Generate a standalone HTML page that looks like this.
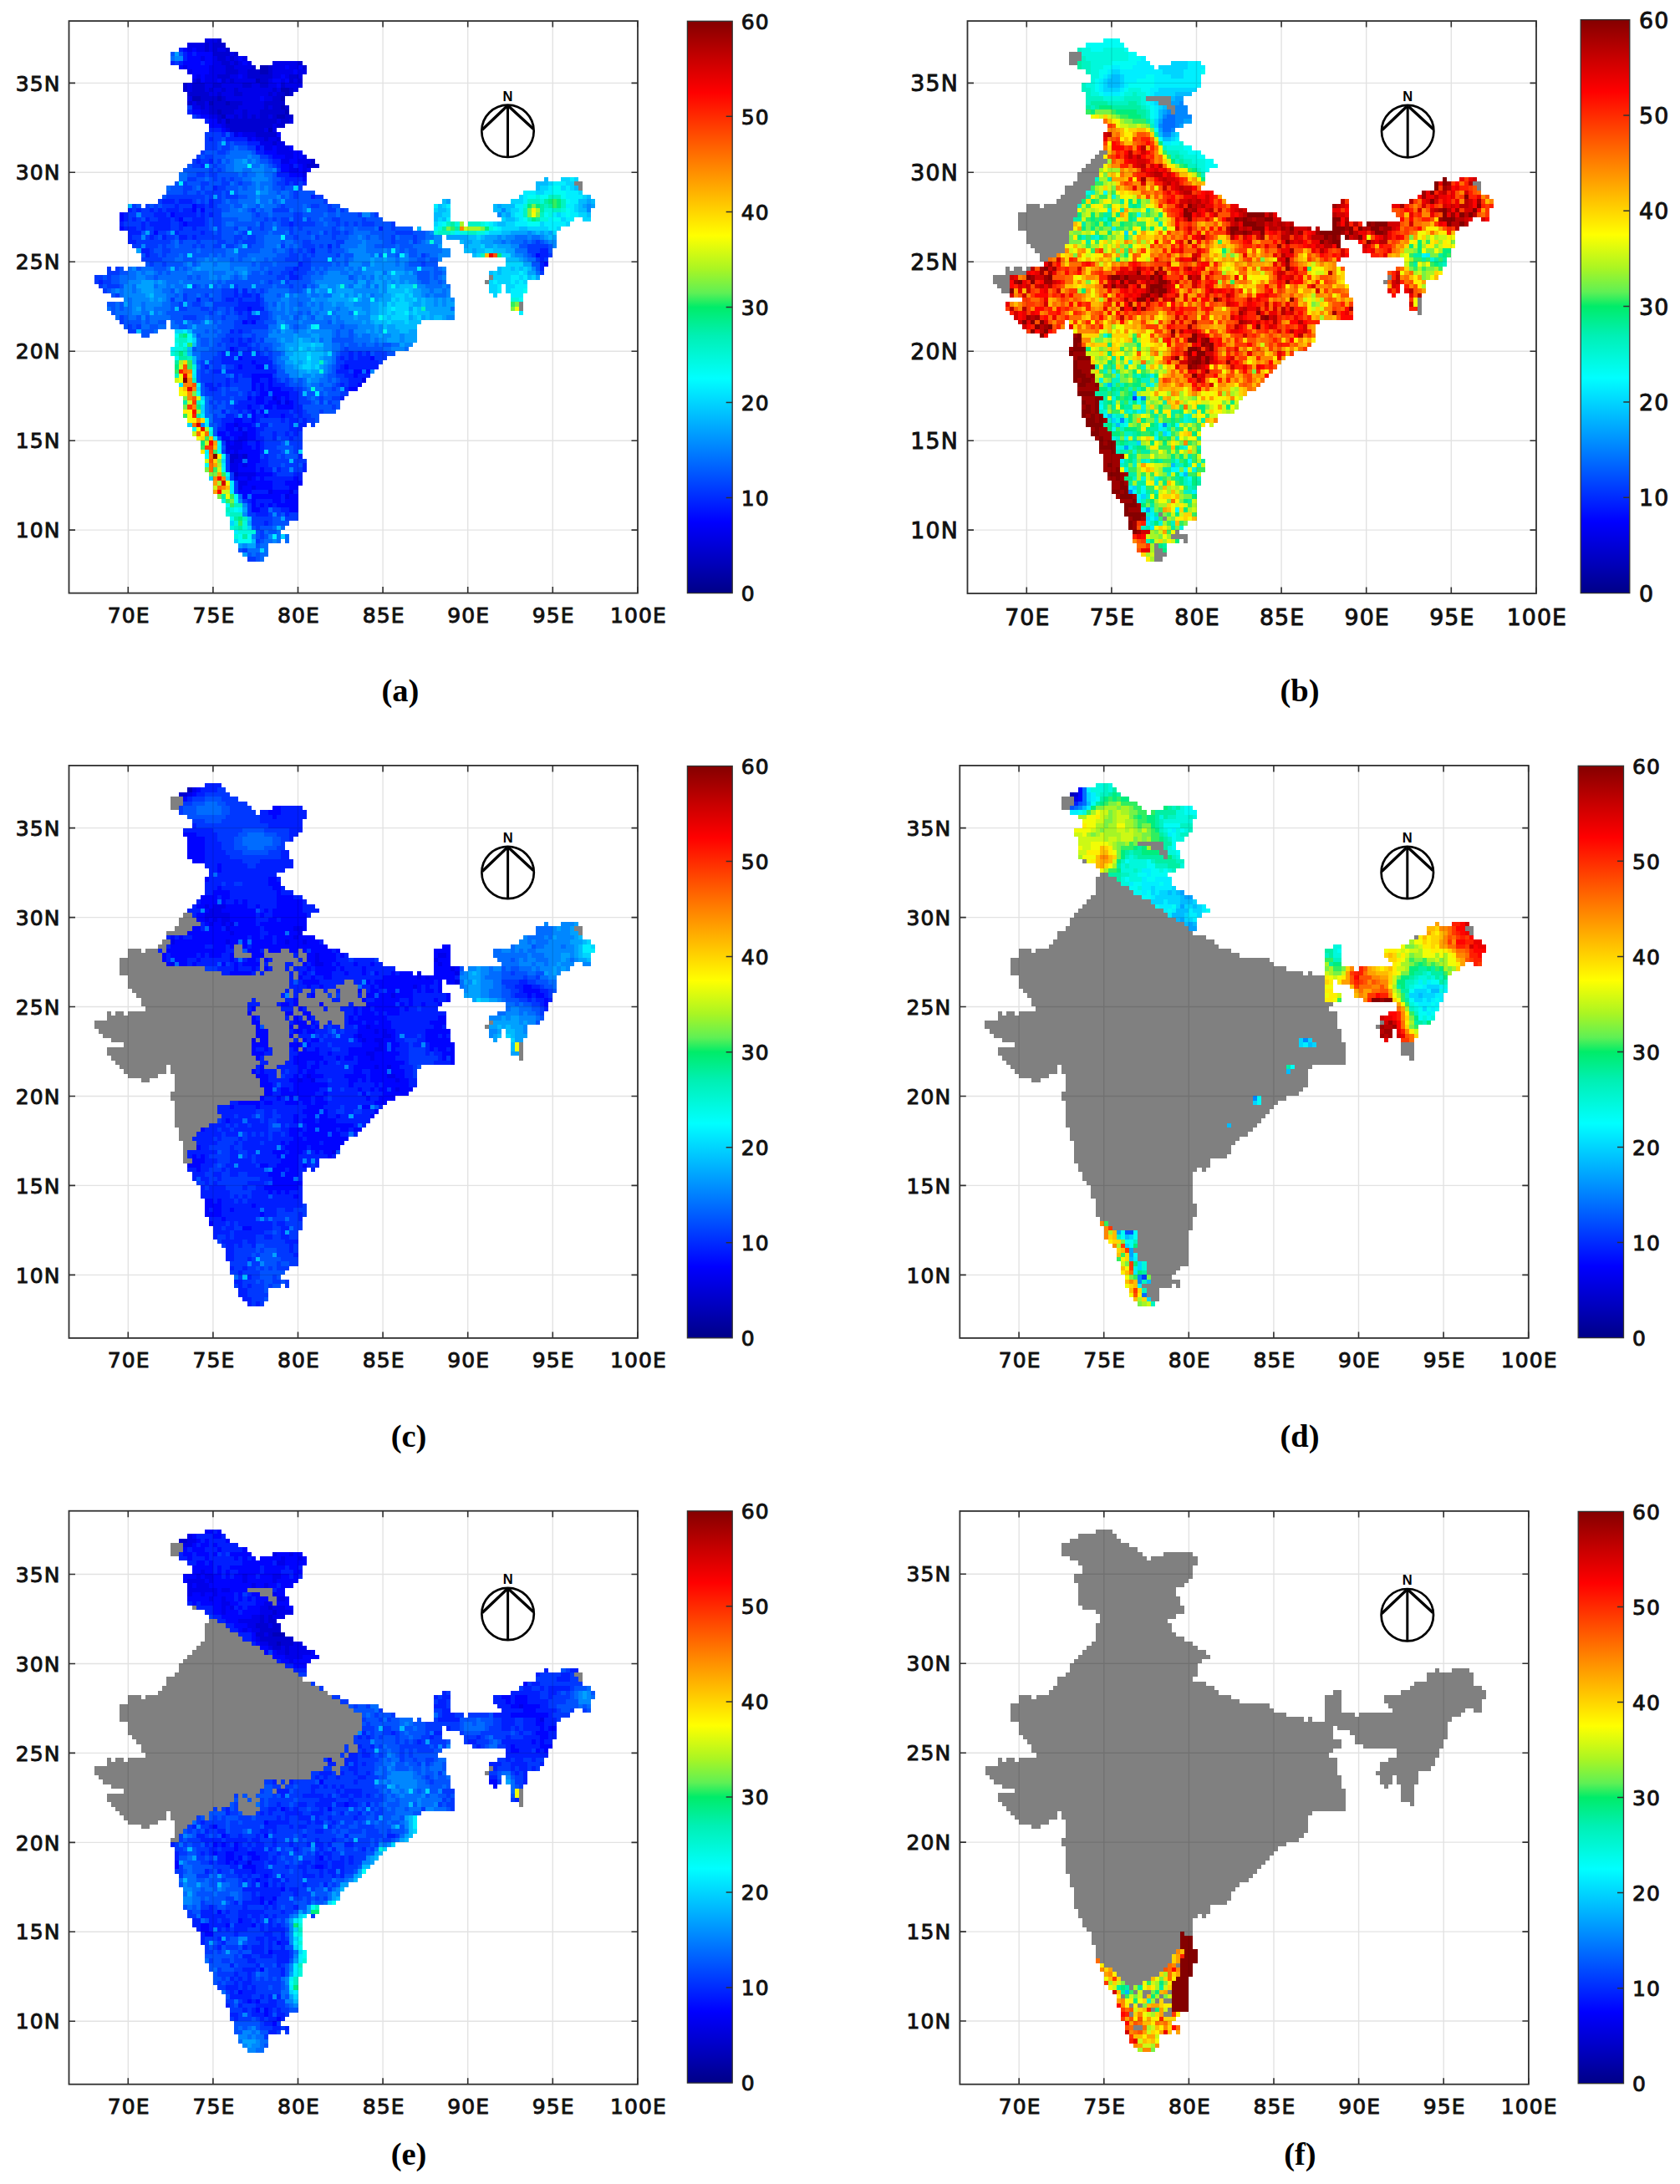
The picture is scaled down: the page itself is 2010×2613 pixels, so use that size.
<!DOCTYPE html><html><head><meta charset="utf-8"><title>Figure</title><style>html,body{margin:0;padding:0;background:#fff}svg{display:block}.t{font-family:"DejaVu Sans","Liberation Sans",sans-serif;fill:#111;stroke:#111;stroke-width:.9px;letter-spacing:1.1px}</style></head><body><svg width="2010" height="2613" viewBox="0 0 2010 2613"><defs><linearGradient id="jet" x1="0" y1="0" x2="0" y2="1"><stop offset="0.0000" stop-color="#840000"/><stop offset="0.0667" stop-color="#c80000"/><stop offset="0.1250" stop-color="#f00"/><stop offset="0.2500" stop-color="#ff8000"/><stop offset="0.3750" stop-color="#ff0"/><stop offset="0.4333" stop-color="#aaf523"/><stop offset="0.4750" stop-color="#5ff055"/><stop offset="0.5000" stop-color="#00ec69"/><stop offset="0.5500" stop-color="#00f0b4"/><stop offset="0.6250" stop-color="#0ff"/><stop offset="0.7500" stop-color="#0080ff"/><stop offset="0.8750" stop-color="#00f"/><stop offset="0.9500" stop-color="#0000b9"/><stop offset="1.0000" stop-color="#000087"/></linearGradient></defs><rect width="2010" height="2613" fill="#fff"/><g transform="translate(82.5 25.1)" font-size="25.0"><g transform="translate(-0.32 -0.57) scale(5.08000 5.34750)" shape-rendering="crispEdges" stroke="none"><path fill="#0000ea" d="M32 4h3v1h-3zM28 5h4v1h-4zM33 5h1v1h-1zM28 6h1v1h-1zM30 6h2v1h-2zM33 6h1v1h-1zM35 6h2v1h-2zM38 7h1v1h-1zM31 8h1v1h-1zM34 8h1v1h-1zM37 8h1v1h-1zM39 8h1v1h-1zM41 8h1v1h-1zM34 9h2v1h-2zM38 9h1v1h-1zM40 9h1v1h-1zM42 9h1v1h-1zM48 9h6v1h-6zM27 10h1v1h-1zM33 10h4v1h-4zM39 10h4v1h-4zM48 10h3v1h-3zM52 10h2v1h-2zM28 11h1v1h-1zM33 11h4v1h-4zM40 11h2v1h-2zM48 11h5v1h-5zM54 11h2v1h-2zM30 12h1v1h-1zM32 12h3v1h-3zM38 12h2v1h-2zM41 12h1v1h-1zM48 12h2v1h-2zM51 12h1v1h-1zM54 12h1v1h-1zM29 13h1v1h-1zM32 13h3v1h-3zM37 13h1v1h-1zM39 13h5v1h-5zM47 13h1v1h-1zM50 13h1v1h-1zM53 13h1v1h-1zM28 14h1v1h-1zM32 14h2v1h-2zM36 14h5v1h-5zM43 14h2v1h-2zM47 14h2v1h-2zM51 14h4v1h-4zM28 15h1v1h-1zM32 15h1v1h-1zM34 15h2v1h-2zM37 15h2v1h-2zM40 15h8v1h-8zM49 15h1v1h-1zM53 15h1v1h-1zM33 16h2v1h-2zM36 16h3v1h-3zM41 16h6v1h-6zM48 16h1v1h-1zM28 17h1v1h-1zM37 17h8v1h-8zM46 17h2v1h-2zM29 18h1v1h-1zM32 18h1v1h-1zM41 18h5v1h-5zM29 19h2v1h-2zM32 19h1v1h-1zM40 19h6v1h-6zM47 19h1v1h-1zM31 20h2v1h-2zM39 20h2v1h-2zM42 20h3v1h-3zM33 21h2v1h-2zM37 21h2v1h-2zM40 21h1v1h-1zM42 21h1v1h-1zM44 21h1v1h-1zM47 21h1v1h-1zM36 22h1v1h-1zM49 22h1v1h-1zM52 22h1v1h-1zM36 23h1v1h-1zM48 23h1v1h-1zM37 24h1v1h-1zM46 24h1v1h-1zM48 24h1v1h-1zM39 25h1v1h-1zM41 25h3v1h-3zM42 26h1v1h-1zM44 26h2v1h-2zM47 26h2v1h-2zM45 27h3v1h-3zM49 27h2v1h-2zM46 28h2v1h-2zM49 28h3v1h-3zM49 29h4v1h-4zM51 30h2v1h-2zM55 30h1v1h-1zM50 31h2v1h-2zM54 31h3v1h-3zM52 32h1v1h-1zM55 32h1v1h-1zM52 33h2v1h-2zM55 33h1v1h-1zM55 34h1v1h-1zM69 80h1v1h-1zM48 84h1v1h-1zM49 85h1v1h-1zM51 85h1v1h-1zM39 90h1v1h-1zM40 91h1v1h-1zM41 92h1v1h-1zM40 93h2v1h-2zM37 94h1v1h-1zM39 94h2v1h-2zM37 95h4v1h-4zM37 96h1v1h-1zM39 96h1v1h-1zM40 97h1v1h-1zM39 98h2v1h-2zM38 99h2v1h-2zM41 99h1v1h-1zM38 100h2v1h-2zM40 101h4v1h-4zM39 102h1v1h-1zM42 102h1v1h-1zM40 103h2v1h-2zM40 104h1v1h-1zM43 104h1v1h-1zM47 105h1v1h-1zM52 105h1v1h-1zM51 106h1v1h-1z"/><path fill="#0000d2" d="M35 4h1v1h-1zM32 5h1v1h-1zM34 5h3v1h-3zM32 6h1v1h-1zM34 6h1v1h-1zM37 6h1v1h-1zM34 7h4v1h-4zM39 7h1v1h-1zM35 8h2v1h-2zM38 8h1v1h-1zM36 9h2v1h-2zM39 9h1v1h-1zM54 9h1v1h-1zM37 10h2v1h-2zM43 10h1v1h-1zM47 10h1v1h-1zM55 10h1v1h-1zM37 11h3v1h-3zM42 11h3v1h-3zM47 11h1v1h-1zM35 12h3v1h-3zM42 12h6v1h-6zM52 12h2v1h-2zM30 13h1v1h-1zM36 13h1v1h-1zM38 13h1v1h-1zM45 13h2v1h-2zM52 13h1v1h-1zM54 13h1v1h-1zM27 14h1v1h-1zM29 14h3v1h-3zM34 14h2v1h-2zM41 14h2v1h-2zM45 14h2v1h-2zM50 14h1v1h-1zM27 15h1v1h-1zM29 15h3v1h-3zM33 15h1v1h-1zM36 15h1v1h-1zM39 15h1v1h-1zM48 15h1v1h-1zM52 15h1v1h-1zM28 16h5v1h-5zM35 16h1v1h-1zM39 16h2v1h-2zM47 16h1v1h-1zM49 16h2v1h-2zM52 16h1v1h-1zM31 17h4v1h-4zM36 17h1v1h-1zM48 17h2v1h-2zM28 18h1v1h-1zM30 18h2v1h-2zM34 18h3v1h-3zM38 18h3v1h-3zM46 18h5v1h-5zM31 19h1v1h-1zM33 19h7v1h-7zM46 19h1v1h-1zM48 19h2v1h-2zM51 19h1v1h-1zM33 20h2v1h-2zM36 20h3v1h-3zM41 20h1v1h-1zM45 20h6v1h-6zM35 21h1v1h-1zM39 21h1v1h-1zM41 21h1v1h-1zM43 21h1v1h-1zM45 21h2v1h-2zM48 21h1v1h-1zM51 21h2v1h-2zM35 22h1v1h-1zM38 22h11v1h-11zM50 22h2v1h-2zM37 23h11v1h-11zM49 23h2v1h-2zM38 24h8v1h-8zM44 25h5v1h-5zM46 26h1v1h-1zM49 26h1v1h-1zM48 27h1v1h-1zM57 31h1v1h-1zM56 32h3v1h-3zM38 97h2v1h-2zM41 97h1v1h-1zM38 98h1v1h-1zM39 101h1v1h-1z"/><path fill="#001eff" d="M26 6h1v1h-1zM27 7h1v1h-1zM29 7h1v1h-1zM27 8h1v1h-1zM24 9h1v1h-1zM26 9h1v1h-1zM31 9h1v1h-1zM28 20h1v1h-1zM30 21h1v1h-1zM32 22h1v1h-1zM33 24h3v1h-3zM36 25h1v1h-1zM38 25h1v1h-1zM33 26h1v1h-1zM37 26h5v1h-5zM42 27h3v1h-3zM45 28h1v1h-1zM44 29h2v1h-2zM47 30h1v1h-1zM30 31h1v1h-1zM33 31h1v1h-1zM48 31h2v1h-2zM31 32h1v1h-1zM49 32h1v1h-1zM53 32h1v1h-1zM49 34h3v1h-3zM51 35h4v1h-4zM51 36h1v1h-1zM53 36h1v1h-1zM55 36h1v1h-1zM34 37h1v1h-1zM57 39h1v1h-1zM22 40h3v1h-3zM26 40h3v1h-3zM33 40h1v1h-1zM25 41h1v1h-1zM30 41h2v1h-2zM33 41h1v1h-1zM14 42h1v1h-1zM16 42h1v1h-1zM19 42h1v1h-1zM21 42h1v1h-1zM23 42h3v1h-3zM27 42h2v1h-2zM13 43h1v1h-1zM20 43h3v1h-3zM25 43h5v1h-5zM31 43h1v1h-1zM33 43h1v1h-1zM13 44h1v1h-1zM15 44h1v1h-1zM18 44h1v1h-1zM21 44h3v1h-3zM25 44h1v1h-1zM29 44h3v1h-3zM12 45h1v1h-1zM17 45h1v1h-1zM19 45h5v1h-5zM26 45h1v1h-1zM28 45h4v1h-4zM52 45h1v1h-1zM13 46h3v1h-3zM17 46h1v1h-1zM20 46h4v1h-4zM26 46h1v1h-1zM29 46h1v1h-1zM73 46h1v1h-1zM14 47h3v1h-3zM25 47h1v1h-1zM31 47h1v1h-1zM14 48h1v1h-1zM19 48h1v1h-1zM22 48h1v1h-1zM26 48h2v1h-2zM29 48h1v1h-1zM14 49h2v1h-2zM61 50h1v1h-1zM17 51h2v1h-2zM57 51h1v1h-1zM111 51h2v1h-2zM18 52h1v1h-1zM111 52h2v1h-2zM111 53h1v1h-1zM54 54h1v1h-1zM111 54h1v1h-1zM53 55h1v1h-1zM111 55h1v1h-1zM52 56h1v1h-1zM52 57h2v1h-2zM7 58h1v1h-1zM39 60h1v1h-1zM41 60h1v1h-1zM39 61h1v1h-1zM41 61h2v1h-2zM44 61h1v1h-1zM30 62h1v1h-1zM37 62h2v1h-2zM40 62h1v1h-1zM44 62h1v1h-1zM40 63h5v1h-5zM39 64h3v1h-3zM43 64h3v1h-3zM40 65h1v1h-1zM42 65h1v1h-1zM42 66h3v1h-3zM42 67h1v1h-1zM38 69h1v1h-1zM40 69h1v1h-1zM38 71h1v1h-1zM40 71h1v1h-1zM42 71h1v1h-1zM40 72h2v1h-2zM39 73h1v1h-1zM42 73h1v1h-1zM36 74h1v1h-1zM38 74h2v1h-2zM41 74h2v1h-2zM44 74h1v1h-1zM66 74h1v1h-1zM68 74h1v1h-1zM70 74h1v1h-1zM36 75h3v1h-3zM41 75h6v1h-6zM64 75h1v1h-1zM66 75h1v1h-1zM68 75h3v1h-3zM36 76h7v1h-7zM44 76h4v1h-4zM65 76h8v1h-8zM32 77h1v1h-1zM39 77h1v1h-1zM41 77h3v1h-3zM47 77h1v1h-1zM64 77h1v1h-1zM66 77h7v1h-7zM34 78h2v1h-2zM37 78h12v1h-12zM63 78h3v1h-3zM39 79h1v1h-1zM41 79h2v1h-2zM65 79h2v1h-2zM68 79h3v1h-3zM37 80h1v1h-1zM39 80h1v1h-1zM45 80h2v1h-2zM48 80h1v1h-1zM66 80h3v1h-3zM32 81h2v1h-2zM35 81h1v1h-1zM37 81h1v1h-1zM44 81h1v1h-1zM46 81h1v1h-1zM48 81h3v1h-3zM64 81h1v1h-1zM66 81h2v1h-2zM33 82h2v1h-2zM44 82h1v1h-1zM46 82h1v1h-1zM50 82h3v1h-3zM65 82h1v1h-1zM42 83h1v1h-1zM44 83h1v1h-1zM52 83h2v1h-2zM43 84h1v1h-1zM46 84h2v1h-2zM50 84h1v1h-1zM52 84h2v1h-2zM64 84h1v1h-1zM40 85h4v1h-4zM46 85h1v1h-1zM50 85h1v1h-1zM53 85h1v1h-1zM39 86h3v1h-3zM43 86h2v1h-2zM48 86h1v1h-1zM53 86h2v1h-2zM36 87h1v1h-1zM40 87h1v1h-1zM42 87h1v1h-1zM47 87h5v1h-5zM53 87h2v1h-2zM37 88h2v1h-2zM41 88h1v1h-1zM44 88h2v1h-2zM47 88h3v1h-3zM51 88h2v1h-2zM54 88h1v1h-1zM36 89h3v1h-3zM41 89h2v1h-2zM44 89h1v1h-1zM50 89h1v1h-1zM52 89h2v1h-2zM55 89h1v1h-1zM36 90h1v1h-1zM43 90h1v1h-1zM45 90h2v1h-2zM52 90h1v1h-1zM54 90h2v1h-2zM35 91h2v1h-2zM39 91h1v1h-1zM41 91h1v1h-1zM44 91h2v1h-2zM52 91h3v1h-3zM37 92h1v1h-1zM44 92h1v1h-1zM48 92h1v1h-1zM51 92h1v1h-1zM53 92h1v1h-1zM38 93h1v1h-1zM44 93h2v1h-2zM48 93h1v1h-1zM52 93h1v1h-1zM42 94h2v1h-2zM45 94h1v1h-1zM43 95h1v1h-1zM45 95h1v1h-1zM45 96h1v1h-1zM46 97h1v1h-1zM54 97h1v1h-1zM45 98h2v1h-2zM44 99h3v1h-3zM55 99h1v1h-1zM44 100h1v1h-1zM46 100h2v1h-2zM49 100h1v1h-1zM55 100h1v1h-1zM48 101h1v1h-1zM53 101h2v1h-2zM44 102h1v1h-1zM46 102h7v1h-7zM54 102h1v1h-1zM48 103h3v1h-3zM48 104h4v1h-4zM43 105h4v1h-4zM53 105h1v1h-1zM50 106h1v1h-1zM42 107h1v1h-1zM44 107h4v1h-4zM50 107h1v1h-1zM44 108h1v1h-1zM46 108h1v1h-1zM48 108h1v1h-1zM45 109h2v1h-2zM50 109h2v1h-2zM44 110h3v1h-3zM51 110h1v1h-1zM46 112h1v1h-1z"/><path fill="#0003ff" d="M27 6h1v1h-1zM29 6h1v1h-1zM28 7h1v1h-1zM30 7h4v1h-4zM28 8h3v1h-3zM32 8h2v1h-2zM40 8h1v1h-1zM27 9h4v1h-4zM32 9h2v1h-2zM41 9h1v1h-1zM26 10h1v1h-1zM28 10h5v1h-5zM51 10h1v1h-1zM54 10h1v1h-1zM29 11h4v1h-4zM53 11h1v1h-1zM29 12h1v1h-1zM31 12h1v1h-1zM40 12h1v1h-1zM50 12h1v1h-1zM31 13h1v1h-1zM35 13h1v1h-1zM48 13h2v1h-2zM51 13h1v1h-1zM49 14h1v1h-1zM45 17h1v1h-1zM29 20h2v1h-2zM31 21h2v1h-2zM33 22h2v1h-2zM33 23h3v1h-3zM36 24h1v1h-1zM40 25h1v1h-1zM49 25h1v1h-1zM43 26h1v1h-1zM44 28h1v1h-1zM48 28h1v1h-1zM52 28h1v1h-1zM46 29h3v1h-3zM53 29h2v1h-2zM48 30h3v1h-3zM53 30h2v1h-2zM52 31h2v1h-2zM50 32h2v1h-2zM54 32h1v1h-1zM50 33h2v1h-2zM54 33h1v1h-1zM56 33h1v1h-1zM52 34h3v1h-3zM55 35h1v1h-1zM29 41h1v1h-1zM29 42h1v1h-1zM31 42h1v1h-1zM12 43h1v1h-1zM24 43h1v1h-1zM12 44h1v1h-1zM26 44h1v1h-1zM27 45h1v1h-1zM12 46h1v1h-1zM20 47h1v1h-1zM110 52h1v1h-1zM112 54h1v1h-1zM42 64h1v1h-1zM41 67h1v1h-1zM43 67h1v1h-1zM38 73h1v1h-1zM40 75h1v1h-1zM71 75h1v1h-1zM43 76h1v1h-1zM40 77h1v1h-1zM44 77h2v1h-2zM65 77h1v1h-1zM67 78h2v1h-2zM70 78h1v1h-1zM43 79h5v1h-5zM67 79h1v1h-1zM43 80h2v1h-2zM47 80h1v1h-1zM43 81h1v1h-1zM45 81h1v1h-1zM47 81h1v1h-1zM68 81h1v1h-1zM43 82h1v1h-1zM45 82h1v1h-1zM47 82h3v1h-3zM66 82h2v1h-2zM45 83h2v1h-2zM48 83h4v1h-4zM42 84h1v1h-1zM44 84h2v1h-2zM49 84h1v1h-1zM51 84h1v1h-1zM44 85h2v1h-2zM47 85h2v1h-2zM52 85h1v1h-1zM42 86h1v1h-1zM46 86h2v1h-2zM49 86h4v1h-4zM43 87h1v1h-1zM45 87h1v1h-1zM43 88h1v1h-1zM46 88h1v1h-1zM50 88h1v1h-1zM39 89h2v1h-2zM43 89h1v1h-1zM37 90h2v1h-2zM40 90h3v1h-3zM37 91h2v1h-2zM42 91h2v1h-2zM35 92h2v1h-2zM38 92h3v1h-3zM42 92h2v1h-2zM36 93h2v1h-2zM39 93h1v1h-1zM42 93h2v1h-2zM38 94h1v1h-1zM41 94h1v1h-1zM44 94h1v1h-1zM41 95h2v1h-2zM44 95h1v1h-1zM38 96h1v1h-1zM40 96h5v1h-5zM42 97h3v1h-3zM42 98h3v1h-3zM40 99h1v1h-1zM42 99h2v1h-2zM40 100h4v1h-4zM45 100h1v1h-1zM44 101h4v1h-4zM40 102h2v1h-2zM43 102h1v1h-1zM45 102h1v1h-1zM53 102h1v1h-1zM42 103h6v1h-6zM51 103h4v1h-4zM41 104h2v1h-2zM44 104h4v1h-4zM52 104h2v1h-2zM40 105h3v1h-3zM48 105h4v1h-4zM41 106h1v1h-1zM43 106h7v1h-7zM52 106h2v1h-2zM43 107h1v1h-1zM48 107h2v1h-2zM51 107h3v1h-3zM43 108h1v1h-1zM45 108h1v1h-1zM47 108h1v1h-1zM49 108h5v1h-5zM43 109h2v1h-2zM52 109h2v1h-2z"/><path fill="#0052ff" d="M24 7h1v1h-1zM26 7h1v1h-1zM37 25h1v1h-1zM36 26h1v1h-1zM35 27h1v1h-1zM38 27h1v1h-1zM35 28h1v1h-1zM38 28h1v1h-1zM40 28h2v1h-2zM32 29h3v1h-3zM37 29h1v1h-1zM43 29h1v1h-1zM31 30h1v1h-1zM34 30h3v1h-3zM34 31h1v1h-1zM37 31h1v1h-1zM45 31h2v1h-2zM28 32h1v1h-1zM33 32h1v1h-1zM35 32h2v1h-2zM47 32h1v1h-1zM27 33h6v1h-6zM34 33h1v1h-1zM36 33h1v1h-1zM28 34h2v1h-2zM32 34h1v1h-1zM35 34h5v1h-5zM41 34h1v1h-1zM48 34h1v1h-1zM30 35h2v1h-2zM33 35h1v1h-1zM35 35h1v1h-1zM37 35h1v1h-1zM39 35h2v1h-2zM48 35h2v1h-2zM25 36h1v1h-1zM28 36h3v1h-3zM33 36h3v1h-3zM39 36h1v1h-1zM41 36h2v1h-2zM48 36h1v1h-1zM24 37h3v1h-3zM29 37h1v1h-1zM32 37h2v1h-2zM37 37h3v1h-3zM41 37h1v1h-1zM48 37h2v1h-2zM51 37h2v1h-2zM23 38h4v1h-4zM28 38h2v1h-2zM31 38h1v1h-1zM36 38h1v1h-1zM39 38h1v1h-1zM49 38h1v1h-1zM52 38h1v1h-1zM54 38h4v1h-4zM22 39h1v1h-1zM32 39h1v1h-1zM36 39h1v1h-1zM40 39h2v1h-2zM50 39h1v1h-1zM52 39h1v1h-1zM54 39h3v1h-3zM30 40h1v1h-1zM32 40h1v1h-1zM36 40h1v1h-1zM38 40h2v1h-2zM48 40h1v1h-1zM51 40h9v1h-9zM16 41h1v1h-1zM19 41h1v1h-1zM21 41h1v1h-1zM35 41h3v1h-3zM39 41h2v1h-2zM44 41h1v1h-1zM49 41h1v1h-1zM51 41h4v1h-4zM56 41h1v1h-1zM59 41h2v1h-2zM62 41h2v1h-2zM36 42h2v1h-2zM42 42h1v1h-1zM45 42h1v1h-1zM53 42h2v1h-2zM57 42h4v1h-4zM65 42h1v1h-1zM43 43h1v1h-1zM45 43h2v1h-2zM48 43h5v1h-5zM55 43h5v1h-5zM61 43h2v1h-2zM64 43h4v1h-4zM71 43h1v1h-1zM17 44h1v1h-1zM33 44h1v1h-1zM36 44h4v1h-4zM43 44h3v1h-3zM47 44h1v1h-1zM49 44h1v1h-1zM57 44h2v1h-2zM60 44h2v1h-2zM64 44h5v1h-5zM70 44h4v1h-4zM33 45h1v1h-1zM36 45h1v1h-1zM39 45h5v1h-5zM46 45h2v1h-2zM49 45h1v1h-1zM58 45h2v1h-2zM61 45h2v1h-2zM64 45h1v1h-1zM66 45h1v1h-1zM68 45h1v1h-1zM72 45h4v1h-4zM33 46h1v1h-1zM36 46h3v1h-3zM43 46h2v1h-2zM46 46h2v1h-2zM49 46h3v1h-3zM53 46h1v1h-1zM55 46h7v1h-7zM63 46h1v1h-1zM65 46h2v1h-2zM68 46h4v1h-4zM74 46h2v1h-2zM77 46h4v1h-4zM17 47h1v1h-1zM23 47h1v1h-1zM34 47h1v1h-1zM36 47h3v1h-3zM40 47h1v1h-1zM43 47h4v1h-4zM48 47h3v1h-3zM53 47h3v1h-3zM57 47h2v1h-2zM61 47h1v1h-1zM64 47h1v1h-1zM66 47h1v1h-1zM71 47h6v1h-6zM81 47h3v1h-3zM21 48h1v1h-1zM25 48h1v1h-1zM36 48h3v1h-3zM41 48h1v1h-1zM44 48h2v1h-2zM51 48h2v1h-2zM54 48h3v1h-3zM59 48h3v1h-3zM63 48h3v1h-3zM70 48h1v1h-1zM73 48h3v1h-3zM78 48h3v1h-3zM82 48h2v1h-2zM24 49h1v1h-1zM27 49h3v1h-3zM31 49h4v1h-4zM37 49h2v1h-2zM40 49h1v1h-1zM44 49h2v1h-2zM50 49h1v1h-1zM53 49h2v1h-2zM57 49h6v1h-6zM74 49h2v1h-2zM77 49h3v1h-3zM82 49h1v1h-1zM107 49h1v1h-1zM109 49h1v1h-1zM111 49h1v1h-1zM21 50h1v1h-1zM23 50h2v1h-2zM26 50h3v1h-3zM30 50h1v1h-1zM32 50h2v1h-2zM39 50h1v1h-1zM43 50h3v1h-3zM52 50h1v1h-1zM54 50h1v1h-1zM58 50h1v1h-1zM60 50h1v1h-1zM62 50h1v1h-1zM72 50h5v1h-5zM78 50h3v1h-3zM106 50h2v1h-2zM113 50h1v1h-1zM20 51h2v1h-2zM24 51h6v1h-6zM31 51h6v1h-6zM40 51h5v1h-5zM48 51h1v1h-1zM51 51h1v1h-1zM53 51h1v1h-1zM55 51h1v1h-1zM58 51h3v1h-3zM62 51h3v1h-3zM78 51h1v1h-1zM80 51h2v1h-2zM113 51h1v1h-1zM17 52h1v1h-1zM21 52h1v1h-1zM23 52h3v1h-3zM27 52h1v1h-1zM29 52h4v1h-4zM34 52h1v1h-1zM36 52h1v1h-1zM40 52h2v1h-2zM49 52h3v1h-3zM54 52h1v1h-1zM56 52h1v1h-1zM58 52h5v1h-5zM65 52h2v1h-2zM73 52h1v1h-1zM77 52h1v1h-1zM80 52h2v1h-2zM84 52h1v1h-1zM108 52h1v1h-1zM22 53h3v1h-3zM27 53h3v1h-3zM38 53h1v1h-1zM40 53h1v1h-1zM46 53h1v1h-1zM48 53h3v1h-3zM54 53h1v1h-1zM57 53h4v1h-4zM62 53h1v1h-1zM65 53h1v1h-1zM82 53h2v1h-2zM85 53h2v1h-2zM18 54h1v1h-1zM20 54h2v1h-2zM23 54h4v1h-4zM29 54h1v1h-1zM43 54h1v1h-1zM45 54h3v1h-3zM49 54h5v1h-5zM57 54h5v1h-5zM63 54h1v1h-1zM65 54h1v1h-1zM80 54h3v1h-3zM84 54h3v1h-3zM109 54h2v1h-2zM12 55h1v1h-1zM16 55h1v1h-1zM20 55h3v1h-3zM25 55h1v1h-1zM27 55h1v1h-1zM45 55h1v1h-1zM47 55h4v1h-4zM58 55h1v1h-1zM60 55h1v1h-1zM86 55h1v1h-1zM110 55h1v1h-1zM12 56h2v1h-2zM21 56h1v1h-1zM23 56h1v1h-1zM43 56h2v1h-2zM46 56h1v1h-1zM48 56h2v1h-2zM56 56h2v1h-2zM59 56h1v1h-1zM82 56h3v1h-3zM86 56h2v1h-2zM8 57h1v1h-1zM10 57h2v1h-2zM20 57h1v1h-1zM28 57h1v1h-1zM30 57h1v1h-1zM39 57h1v1h-1zM42 57h7v1h-7zM51 57h1v1h-1zM55 57h2v1h-2zM66 57h1v1h-1zM82 57h3v1h-3zM86 57h1v1h-1zM10 58h2v1h-2zM35 58h1v1h-1zM37 58h8v1h-8zM46 58h1v1h-1zM48 58h2v1h-2zM52 58h5v1h-5zM83 58h2v1h-2zM87 58h1v1h-1zM8 59h1v1h-1zM12 59h1v1h-1zM30 59h1v1h-1zM32 59h1v1h-1zM34 59h1v1h-1zM36 59h2v1h-2zM40 59h3v1h-3zM44 59h4v1h-4zM49 59h3v1h-3zM53 59h2v1h-2zM57 59h1v1h-1zM9 60h1v1h-1zM24 60h1v1h-1zM27 60h9v1h-9zM40 60h1v1h-1zM42 60h1v1h-1zM44 60h1v1h-1zM46 60h1v1h-1zM52 60h3v1h-3zM10 61h1v1h-1zM25 61h1v1h-1zM28 61h2v1h-2zM31 61h1v1h-1zM34 61h2v1h-2zM45 61h1v1h-1zM49 61h1v1h-1zM28 62h2v1h-2zM31 62h2v1h-2zM34 62h2v1h-2zM9 63h2v1h-2zM12 63h1v1h-1zM24 63h2v1h-2zM28 63h1v1h-1zM31 63h1v1h-1zM46 63h1v1h-1zM48 63h1v1h-1zM54 63h1v1h-1zM10 64h1v1h-1zM12 64h1v1h-1zM24 64h1v1h-1zM28 64h3v1h-3zM33 64h1v1h-1zM35 64h2v1h-2zM38 64h1v1h-1zM46 64h1v1h-1zM10 65h1v1h-1zM23 65h10v1h-10zM34 65h1v1h-1zM36 65h1v1h-1zM38 65h1v1h-1zM47 65h1v1h-1zM54 65h1v1h-1zM56 65h1v1h-1zM13 66h1v1h-1zM16 66h1v1h-1zM18 66h1v1h-1zM24 66h3v1h-3zM30 66h2v1h-2zM33 66h3v1h-3zM37 66h3v1h-3zM47 66h1v1h-1zM53 66h1v1h-1zM57 66h1v1h-1zM13 67h4v1h-4zM18 67h1v1h-1zM21 67h2v1h-2zM25 67h2v1h-2zM29 67h2v1h-2zM34 67h1v1h-1zM36 67h3v1h-3zM46 67h3v1h-3zM61 67h1v1h-1zM13 68h1v1h-1zM15 68h1v1h-1zM19 68h2v1h-2zM26 68h2v1h-2zM35 68h4v1h-4zM53 68h1v1h-1zM64 68h1v1h-1zM17 69h3v1h-3zM32 69h1v1h-1zM34 69h1v1h-1zM36 69h2v1h-2zM43 69h4v1h-4zM63 69h1v1h-1zM66 69h1v1h-1zM17 70h2v1h-2zM30 70h1v1h-1zM35 70h2v1h-2zM41 70h2v1h-2zM44 70h3v1h-3zM63 70h1v1h-1zM66 70h1v1h-1zM31 71h2v1h-2zM34 71h2v1h-2zM44 71h1v1h-1zM62 71h5v1h-5zM31 72h2v1h-2zM34 72h1v1h-1zM36 72h1v1h-1zM43 72h1v1h-1zM45 72h3v1h-3zM64 72h1v1h-1zM66 72h2v1h-2zM69 72h1v1h-1zM72 72h1v1h-1zM74 72h2v1h-2zM29 73h1v1h-1zM33 73h4v1h-4zM45 73h1v1h-1zM47 73h1v1h-1zM64 73h1v1h-1zM66 73h8v1h-8zM31 74h4v1h-4zM46 74h1v1h-1zM48 74h2v1h-2zM63 74h1v1h-1zM71 74h1v1h-1zM75 74h2v1h-2zM31 75h3v1h-3zM48 75h1v1h-1zM30 76h1v1h-1zM48 76h1v1h-1zM33 77h1v1h-1zM49 77h1v1h-1zM62 77h1v1h-1zM30 78h1v1h-1zM32 78h1v1h-1zM49 78h2v1h-2zM62 78h1v1h-1zM30 79h1v1h-1zM37 79h1v1h-1zM49 79h3v1h-3zM61 79h2v1h-2zM30 80h1v1h-1zM50 80h1v1h-1zM52 80h1v1h-1zM54 80h1v1h-1zM61 80h1v1h-1zM63 80h1v1h-1zM31 81h1v1h-1zM52 81h3v1h-3zM59 81h1v1h-1zM62 81h1v1h-1zM31 82h1v1h-1zM36 82h1v1h-1zM38 82h2v1h-2zM55 82h1v1h-1zM60 82h2v1h-2zM63 82h1v1h-1zM31 83h1v1h-1zM36 83h1v1h-1zM40 83h1v1h-1zM56 83h2v1h-2zM59 83h1v1h-1zM61 83h3v1h-3zM33 84h1v1h-1zM38 84h1v1h-1zM56 84h1v1h-1zM58 84h1v1h-1zM60 84h2v1h-2zM34 85h1v1h-1zM36 85h1v1h-1zM57 85h1v1h-1zM62 85h2v1h-2zM33 86h1v1h-1zM35 86h2v1h-2zM55 86h7v1h-7zM63 86h1v1h-1zM33 87h3v1h-3zM37 87h1v1h-1zM56 87h3v1h-3zM60 87h3v1h-3zM35 88h2v1h-2zM57 88h2v1h-2zM58 89h1v1h-1zM33 90h2v1h-2zM47 90h1v1h-1zM34 91h1v1h-1zM34 92h1v1h-1zM35 93h1v1h-1zM49 93h1v1h-1zM50 94h1v1h-1zM36 95h1v1h-1zM49 95h4v1h-4zM50 96h1v1h-1zM52 96h1v1h-1zM49 97h1v1h-1zM51 97h3v1h-3zM50 99h1v1h-1zM54 99h1v1h-1zM48 100h1v1h-1zM50 110h1v1h-1zM48 111h2v1h-2zM48 112h4v1h-4zM43 113h1v1h-1zM45 113h3v1h-3zM44 114h1v1h-1zM47 114h2v1h-2zM44 115h1v1h-1zM46 115h1v1h-1zM45 116h1v1h-1zM44 117h1v1h-1zM40 118h1v1h-1zM42 119h1v1h-1zM44 119h1v1h-1zM44 120h1v1h-1z"/><path fill="#00a1ff" d="M25 7h1v1h-1zM41 31h1v1h-1zM34 39h1v1h-1zM44 40h1v1h-1zM50 40h1v1h-1zM89 40h1v1h-1zM122 40h1v1h-1zM101 41h1v1h-1zM121 41h1v1h-1zM123 41h1v1h-1zM103 43h1v1h-1zM48 46h1v1h-1zM18 47h1v1h-1zM24 47h1v1h-1zM104 47h4v1h-4zM109 47h1v1h-1zM111 47h1v1h-1zM113 47h1v1h-1zM89 48h5v1h-5zM98 48h3v1h-3zM102 48h1v1h-1zM112 48h1v1h-1zM114 48h1v1h-1zM93 49h2v1h-2zM97 49h3v1h-3zM87 50h1v1h-1zM93 50h1v1h-1zM98 50h2v1h-2zM101 50h3v1h-3zM16 51h1v1h-1zM95 51h1v1h-1zM103 51h2v1h-2zM104 52h1v1h-1zM71 53h1v1h-1zM74 53h1v1h-1zM106 53h1v1h-1zM71 54h1v1h-1zM107 54h2v1h-2zM30 55h1v1h-1zM41 56h1v1h-1zM72 56h2v1h-2zM75 56h1v1h-1zM77 56h2v1h-2zM80 56h1v1h-1zM108 56h2v1h-2zM72 57h1v1h-1zM74 57h1v1h-1zM76 57h2v1h-2zM110 57h1v1h-1zM17 58h3v1h-3zM21 58h1v1h-1zM50 58h1v1h-1zM68 58h2v1h-2zM72 58h2v1h-2zM75 58h1v1h-1zM77 58h1v1h-1zM79 58h1v1h-1zM16 59h4v1h-4zM59 59h2v1h-2zM63 59h1v1h-1zM67 59h2v1h-2zM71 59h1v1h-1zM73 59h1v1h-1zM77 59h1v1h-1zM17 60h3v1h-3zM58 60h1v1h-1zM63 60h4v1h-4zM73 60h1v1h-1zM81 60h2v1h-2zM18 61h1v1h-1zM62 61h2v1h-2zM66 61h1v1h-1zM70 61h1v1h-1zM74 61h2v1h-2zM81 61h2v1h-2zM19 62h1v1h-1zM21 62h1v1h-1zM57 62h1v1h-1zM61 62h5v1h-5zM68 62h1v1h-1zM73 62h3v1h-3zM82 62h1v1h-1zM84 62h2v1h-2zM87 62h1v1h-1zM89 62h1v1h-1zM13 63h1v1h-1zM62 63h1v1h-1zM65 63h2v1h-2zM71 63h2v1h-2zM74 63h1v1h-1zM81 63h2v1h-2zM84 63h2v1h-2zM87 63h1v1h-1zM89 63h2v1h-2zM16 64h1v1h-1zM66 64h3v1h-3zM71 64h2v1h-2zM80 64h1v1h-1zM84 64h6v1h-6zM68 65h2v1h-2zM71 65h2v1h-2zM85 65h6v1h-6zM67 66h1v1h-1zM80 66h1v1h-1zM83 66h1v1h-1zM85 66h1v1h-1zM88 66h1v1h-1zM69 67h1v1h-1zM71 67h1v1h-1zM29 68h1v1h-1zM51 68h1v1h-1zM72 68h1v1h-1zM75 68h2v1h-2zM50 69h1v1h-1zM56 69h1v1h-1zM70 69h1v1h-1zM72 69h1v1h-1zM75 69h3v1h-3zM80 69h2v1h-2zM29 70h1v1h-1zM53 70h1v1h-1zM57 70h2v1h-2zM73 70h1v1h-1zM76 70h2v1h-2zM79 70h3v1h-3zM50 71h1v1h-1zM53 71h1v1h-1zM55 71h2v1h-2zM58 71h1v1h-1zM75 71h3v1h-3zM79 71h3v1h-3zM51 72h3v1h-3zM78 72h1v1h-1zM51 73h1v1h-1zM53 73h1v1h-1zM56 73h1v1h-1zM58 73h2v1h-2zM51 74h2v1h-2zM60 74h1v1h-1zM59 75h1v1h-1zM32 76h1v1h-1zM51 76h2v1h-2zM54 76h1v1h-1zM60 76h1v1h-1zM46 77h1v1h-1zM53 77h1v1h-1zM59 77h1v1h-1zM36 78h1v1h-1zM54 78h2v1h-2zM57 78h2v1h-2zM54 79h1v1h-1zM57 79h1v1h-1zM56 80h1v1h-1zM64 82h1v1h-1zM46 87h1v1h-1zM53 90h1v1h-1zM51 94h1v1h-1zM41 109h1v1h-1zM50 111h1v1h-1zM42 112h1v1h-1zM40 117h1v1h-1zM42 117h2v1h-2zM41 119h1v1h-1z"/><path fill="#006cff" d="M24 8h1v1h-1zM39 28h1v1h-1zM38 29h5v1h-5zM37 30h5v1h-5zM43 30h2v1h-2zM36 31h1v1h-1zM38 31h1v1h-1zM42 31h1v1h-1zM44 31h1v1h-1zM37 32h2v1h-2zM43 32h2v1h-2zM46 32h1v1h-1zM37 33h2v1h-2zM41 33h2v1h-2zM46 33h2v1h-2zM26 34h2v1h-2zM40 34h1v1h-1zM42 34h2v1h-2zM46 34h2v1h-2zM26 35h2v1h-2zM32 35h1v1h-1zM41 35h2v1h-2zM47 35h1v1h-1zM38 36h1v1h-1zM43 36h1v1h-1zM45 36h3v1h-3zM23 37h1v1h-1zM30 37h1v1h-1zM40 37h1v1h-1zM42 37h2v1h-2zM45 37h1v1h-1zM47 37h1v1h-1zM40 38h4v1h-4zM47 38h2v1h-2zM50 38h2v1h-2zM42 39h2v1h-2zM45 39h4v1h-4zM51 39h1v1h-1zM37 40h1v1h-1zM40 40h4v1h-4zM45 40h2v1h-2zM49 40h1v1h-1zM38 41h1v1h-1zM42 41h2v1h-2zM46 41h3v1h-3zM55 41h1v1h-1zM38 42h2v1h-2zM41 42h1v1h-1zM44 42h1v1h-1zM46 42h2v1h-2zM52 42h1v1h-1zM55 42h1v1h-1zM63 42h1v1h-1zM36 43h7v1h-7zM47 43h1v1h-1zM60 43h1v1h-1zM63 43h1v1h-1zM40 44h3v1h-3zM52 44h1v1h-1zM59 44h1v1h-1zM37 45h2v1h-2zM44 45h1v1h-1zM48 45h1v1h-1zM60 45h1v1h-1zM40 46h2v1h-2zM64 46h1v1h-1zM67 46h1v1h-1zM72 46h1v1h-1zM39 47h1v1h-1zM47 47h1v1h-1zM51 47h1v1h-1zM59 47h1v1h-1zM67 47h4v1h-4zM84 47h1v1h-1zM46 48h4v1h-4zM57 48h1v1h-1zM66 48h2v1h-2zM69 48h1v1h-1zM71 48h2v1h-2zM77 48h1v1h-1zM84 48h2v1h-2zM105 48h3v1h-3zM109 48h2v1h-2zM25 49h1v1h-1zM46 49h4v1h-4zM51 49h2v1h-2zM65 49h4v1h-4zM70 49h4v1h-4zM80 49h1v1h-1zM83 49h1v1h-1zM102 49h1v1h-1zM104 49h3v1h-3zM108 49h1v1h-1zM112 49h1v1h-1zM25 50h1v1h-1zM40 50h1v1h-1zM46 50h3v1h-3zM51 50h1v1h-1zM53 50h1v1h-1zM64 50h4v1h-4zM70 50h2v1h-2zM77 50h1v1h-1zM81 50h6v1h-6zM30 51h1v1h-1zM37 51h2v1h-2zM45 51h3v1h-3zM49 51h2v1h-2zM65 51h1v1h-1zM70 51h4v1h-4zM75 51h1v1h-1zM77 51h1v1h-1zM79 51h1v1h-1zM82 51h6v1h-6zM105 51h3v1h-3zM26 52h1v1h-1zM33 52h1v1h-1zM35 52h1v1h-1zM37 52h3v1h-3zM42 52h7v1h-7zM64 52h1v1h-1zM71 52h1v1h-1zM75 52h2v1h-2zM82 52h1v1h-1zM85 52h2v1h-2zM107 52h1v1h-1zM25 53h2v1h-2zM30 53h2v1h-2zM33 53h1v1h-1zM35 53h3v1h-3zM39 53h1v1h-1zM41 53h2v1h-2zM44 53h2v1h-2zM47 53h1v1h-1zM63 53h2v1h-2zM66 53h1v1h-1zM77 53h1v1h-1zM80 53h2v1h-2zM84 53h1v1h-1zM108 53h2v1h-2zM27 54h1v1h-1zM30 54h1v1h-1zM34 54h1v1h-1zM38 54h5v1h-5zM44 54h1v1h-1zM48 54h1v1h-1zM62 54h1v1h-1zM64 54h1v1h-1zM69 54h2v1h-2zM77 54h1v1h-1zM79 54h1v1h-1zM14 55h1v1h-1zM17 55h3v1h-3zM23 55h1v1h-1zM26 55h1v1h-1zM28 55h1v1h-1zM38 55h1v1h-1zM42 55h3v1h-3zM46 55h1v1h-1zM57 55h1v1h-1zM59 55h1v1h-1zM61 55h4v1h-4zM66 55h1v1h-1zM68 55h1v1h-1zM79 55h3v1h-3zM83 55h3v1h-3zM87 55h1v1h-1zM14 56h2v1h-2zM17 56h1v1h-1zM20 56h1v1h-1zM22 56h1v1h-1zM24 56h4v1h-4zM29 56h4v1h-4zM34 56h3v1h-3zM39 56h1v1h-1zM42 56h1v1h-1zM45 56h1v1h-1zM58 56h1v1h-1zM60 56h1v1h-1zM64 56h2v1h-2zM67 56h2v1h-2zM74 56h1v1h-1zM81 56h1v1h-1zM85 56h1v1h-1zM88 56h1v1h-1zM110 56h1v1h-1zM12 57h4v1h-4zM18 57h2v1h-2zM21 57h7v1h-7zM29 57h1v1h-1zM31 57h2v1h-2zM35 57h1v1h-1zM38 57h1v1h-1zM40 57h1v1h-1zM57 57h3v1h-3zM67 57h1v1h-1zM69 57h1v1h-1zM71 57h1v1h-1zM85 57h1v1h-1zM87 57h1v1h-1zM12 58h2v1h-2zM23 58h3v1h-3zM27 58h8v1h-8zM36 58h1v1h-1zM45 58h1v1h-1zM57 58h1v1h-1zM67 58h1v1h-1zM70 58h1v1h-1zM82 58h1v1h-1zM85 58h2v1h-2zM88 58h1v1h-1zM15 59h1v1h-1zM20 59h1v1h-1zM23 59h1v1h-1zM25 59h2v1h-2zM31 59h1v1h-1zM35 59h1v1h-1zM48 59h1v1h-1zM56 59h1v1h-1zM58 59h1v1h-1zM66 59h1v1h-1zM70 59h1v1h-1zM72 59h1v1h-1zM84 59h4v1h-4zM89 59h1v1h-1zM10 60h1v1h-1zM12 60h1v1h-1zM15 60h1v1h-1zM22 60h2v1h-2zM26 60h1v1h-1zM47 60h5v1h-5zM55 60h1v1h-1zM57 60h1v1h-1zM85 60h1v1h-1zM88 60h1v1h-1zM12 61h1v1h-1zM23 61h2v1h-2zM26 61h1v1h-1zM30 61h1v1h-1zM33 61h1v1h-1zM46 61h3v1h-3zM50 61h1v1h-1zM52 61h1v1h-1zM54 61h2v1h-2zM57 61h2v1h-2zM60 61h2v1h-2zM71 61h1v1h-1zM84 61h1v1h-1zM86 61h3v1h-3zM14 62h1v1h-1zM23 62h1v1h-1zM25 62h2v1h-2zM46 62h4v1h-4zM52 62h5v1h-5zM11 63h1v1h-1zM14 63h1v1h-1zM17 63h1v1h-1zM22 63h2v1h-2zM32 63h2v1h-2zM47 63h1v1h-1zM50 63h1v1h-1zM52 63h2v1h-2zM55 63h1v1h-1zM57 63h1v1h-1zM59 63h1v1h-1zM9 64h1v1h-1zM11 64h1v1h-1zM13 64h2v1h-2zM17 64h1v1h-1zM20 64h4v1h-4zM47 64h2v1h-2zM50 64h1v1h-1zM52 64h1v1h-1zM54 64h3v1h-3zM59 64h1v1h-1zM63 64h1v1h-1zM90 64h1v1h-1zM11 65h4v1h-4zM17 65h2v1h-2zM20 65h1v1h-1zM22 65h1v1h-1zM35 65h1v1h-1zM48 65h3v1h-3zM52 65h2v1h-2zM55 65h1v1h-1zM58 65h1v1h-1zM62 65h1v1h-1zM66 65h1v1h-1zM11 66h1v1h-1zM14 66h2v1h-2zM19 66h5v1h-5zM32 66h1v1h-1zM48 66h1v1h-1zM50 66h2v1h-2zM54 66h1v1h-1zM56 66h1v1h-1zM60 66h2v1h-2zM63 66h1v1h-1zM17 67h1v1h-1zM19 67h2v1h-2zM24 67h1v1h-1zM28 67h1v1h-1zM31 67h1v1h-1zM35 67h1v1h-1zM51 67h3v1h-3zM55 67h6v1h-6zM63 67h2v1h-2zM17 68h2v1h-2zM21 68h2v1h-2zM24 68h2v1h-2zM28 68h1v1h-1zM30 68h5v1h-5zM47 68h2v1h-2zM52 68h1v1h-1zM54 68h2v1h-2zM59 68h5v1h-5zM65 68h3v1h-3zM20 69h1v1h-1zM29 69h3v1h-3zM33 69h1v1h-1zM35 69h1v1h-1zM47 69h1v1h-1zM49 69h1v1h-1zM53 69h1v1h-1zM62 69h1v1h-1zM64 69h2v1h-2zM31 70h4v1h-4zM62 70h1v1h-1zM64 70h2v1h-2zM67 70h1v1h-1zM69 70h2v1h-2zM30 71h1v1h-1zM33 71h1v1h-1zM46 71h3v1h-3zM59 71h1v1h-1zM67 71h4v1h-4zM72 71h1v1h-1zM30 72h1v1h-1zM33 72h1v1h-1zM48 72h2v1h-2zM62 72h2v1h-2zM65 72h1v1h-1zM68 72h1v1h-1zM70 72h2v1h-2zM73 72h1v1h-1zM76 72h2v1h-2zM30 73h3v1h-3zM48 73h1v1h-1zM62 73h2v1h-2zM74 73h2v1h-2zM79 73h1v1h-1zM29 74h2v1h-2zM50 74h1v1h-1zM62 74h1v1h-1zM30 75h1v1h-1zM49 75h1v1h-1zM62 75h1v1h-1zM49 76h2v1h-2zM62 76h1v1h-1zM30 77h1v1h-1zM36 77h1v1h-1zM50 77h1v1h-1zM61 77h1v1h-1zM61 78h1v1h-1zM69 78h1v1h-1zM38 79h1v1h-1zM60 79h1v1h-1zM53 80h1v1h-1zM55 80h1v1h-1zM59 80h2v1h-2zM62 80h1v1h-1zM55 81h1v1h-1zM57 81h2v1h-2zM60 81h2v1h-2zM56 82h1v1h-1zM58 82h2v1h-2zM47 83h1v1h-1zM60 83h1v1h-1zM32 84h1v1h-1zM57 84h1v1h-1zM32 85h1v1h-1zM58 85h1v1h-1zM60 85h1v1h-1zM32 86h1v1h-1zM32 87h1v1h-1zM32 88h2v1h-2zM33 89h1v1h-1zM44 90h1v1h-1zM41 98h1v1h-1zM40 106h1v1h-1zM42 106h1v1h-1zM47 109h1v1h-1zM48 113h1v1h-1zM50 113h1v1h-1zM46 114h1v1h-1zM49 114h1v1h-1zM49 115h1v1h-1zM51 115h1v1h-1zM46 116h2v1h-2zM49 116h1v1h-1zM51 116h1v1h-1zM45 117h2v1h-2zM42 118h3v1h-3zM46 118h1v1h-1zM43 119h1v1h-1zM45 119h2v1h-2zM45 120h1v1h-1z"/><path fill="#0087ff" d="M25 8h2v1h-2zM42 30h1v1h-1zM39 31h2v1h-2zM43 31h1v1h-1zM39 32h3v1h-3zM45 32h1v1h-1zM39 33h2v1h-2zM43 33h3v1h-3zM48 33h1v1h-1zM44 34h2v1h-2zM43 35h4v1h-4zM44 36h1v1h-1zM44 37h1v1h-1zM46 37h1v1h-1zM45 38h2v1h-2zM44 39h1v1h-1zM49 39h1v1h-1zM47 40h1v1h-1zM41 41h1v1h-1zM45 41h1v1h-1zM122 41h1v1h-1zM40 42h1v1h-1zM102 42h1v1h-1zM122 42h1v1h-1zM16 43h1v1h-1zM69 43h2v1h-2zM101 43h1v1h-1zM55 44h1v1h-1zM34 46h1v1h-1zM85 47h1v1h-1zM108 47h1v1h-1zM17 48h1v1h-1zM68 48h1v1h-1zM86 48h2v1h-2zM101 48h1v1h-1zM103 48h2v1h-2zM108 48h1v1h-1zM111 48h1v1h-1zM69 49h1v1h-1zM84 49h1v1h-1zM86 49h2v1h-2zM100 49h2v1h-2zM103 49h1v1h-1zM113 49h2v1h-2zM17 50h1v1h-1zM36 50h1v1h-1zM49 50h1v1h-1zM68 50h2v1h-2zM104 50h2v1h-2zM114 50h1v1h-1zM66 51h4v1h-4zM74 51h1v1h-1zM88 51h2v1h-2zM67 52h4v1h-4zM79 52h1v1h-1zM87 52h3v1h-3zM105 52h2v1h-2zM32 53h1v1h-1zM34 53h1v1h-1zM43 53h1v1h-1zM67 53h4v1h-4zM72 53h2v1h-2zM75 53h2v1h-2zM78 53h2v1h-2zM87 53h1v1h-1zM107 53h1v1h-1zM28 54h1v1h-1zM31 54h3v1h-3zM35 54h3v1h-3zM66 54h3v1h-3zM72 54h5v1h-5zM78 54h1v1h-1zM15 55h1v1h-1zM29 55h1v1h-1zM31 55h7v1h-7zM39 55h3v1h-3zM65 55h1v1h-1zM67 55h1v1h-1zM70 55h9v1h-9zM88 55h1v1h-1zM109 55h1v1h-1zM16 56h1v1h-1zM18 56h2v1h-2zM28 56h1v1h-1zM33 56h1v1h-1zM37 56h2v1h-2zM40 56h1v1h-1zM61 56h3v1h-3zM66 56h1v1h-1zM69 56h3v1h-3zM79 56h1v1h-1zM16 57h2v1h-2zM33 57h2v1h-2zM36 57h2v1h-2zM41 57h1v1h-1zM60 57h6v1h-6zM68 57h1v1h-1zM70 57h1v1h-1zM73 57h1v1h-1zM75 57h1v1h-1zM78 57h4v1h-4zM88 57h1v1h-1zM14 58h3v1h-3zM20 58h1v1h-1zM22 58h1v1h-1zM26 58h1v1h-1zM58 58h9v1h-9zM71 58h1v1h-1zM74 58h1v1h-1zM76 58h1v1h-1zM78 58h1v1h-1zM80 58h2v1h-2zM13 59h2v1h-2zM21 59h2v1h-2zM24 59h1v1h-1zM27 59h1v1h-1zM61 59h2v1h-2zM65 59h1v1h-1zM69 59h1v1h-1zM74 59h1v1h-1zM82 59h2v1h-2zM88 59h1v1h-1zM11 60h1v1h-1zM13 60h2v1h-2zM16 60h1v1h-1zM20 60h2v1h-2zM25 60h1v1h-1zM59 60h2v1h-2zM62 60h1v1h-1zM67 60h6v1h-6zM74 60h1v1h-1zM83 60h2v1h-2zM86 60h2v1h-2zM89 60h1v1h-1zM13 61h5v1h-5zM20 61h3v1h-3zM53 61h1v1h-1zM56 61h1v1h-1zM59 61h1v1h-1zM65 61h1v1h-1zM67 61h1v1h-1zM69 61h1v1h-1zM72 61h2v1h-2zM83 61h1v1h-1zM85 61h1v1h-1zM89 61h1v1h-1zM13 62h1v1h-1zM15 62h4v1h-4zM20 62h1v1h-1zM22 62h1v1h-1zM50 62h2v1h-2zM58 62h3v1h-3zM69 62h2v1h-2zM72 62h1v1h-1zM86 62h1v1h-1zM88 62h1v1h-1zM90 62h1v1h-1zM15 63h2v1h-2zM18 63h4v1h-4zM49 63h1v1h-1zM51 63h1v1h-1zM56 63h1v1h-1zM58 63h1v1h-1zM60 63h2v1h-2zM63 63h2v1h-2zM67 63h4v1h-4zM86 63h1v1h-1zM88 63h1v1h-1zM15 64h1v1h-1zM18 64h2v1h-2zM49 64h1v1h-1zM51 64h1v1h-1zM53 64h1v1h-1zM57 64h2v1h-2zM60 64h3v1h-3zM64 64h2v1h-2zM69 64h2v1h-2zM15 65h2v1h-2zM21 65h1v1h-1zM43 65h1v1h-1zM51 65h1v1h-1zM57 65h1v1h-1zM59 65h2v1h-2zM63 65h3v1h-3zM70 65h1v1h-1zM17 66h1v1h-1zM49 66h1v1h-1zM52 66h1v1h-1zM55 66h1v1h-1zM58 66h2v1h-2zM62 66h1v1h-1zM64 66h3v1h-3zM68 66h3v1h-3zM89 66h2v1h-2zM33 67h1v1h-1zM49 67h2v1h-2zM54 67h1v1h-1zM62 67h1v1h-1zM65 67h4v1h-4zM70 67h1v1h-1zM49 68h1v1h-1zM56 68h1v1h-1zM68 68h4v1h-4zM73 68h1v1h-1zM48 69h1v1h-1zM51 69h2v1h-2zM54 69h2v1h-2zM57 69h5v1h-5zM67 69h3v1h-3zM71 69h1v1h-1zM73 69h1v1h-1zM47 70h6v1h-6zM54 70h3v1h-3zM59 70h3v1h-3zM68 70h1v1h-1zM71 70h2v1h-2zM74 70h2v1h-2zM78 70h1v1h-1zM49 71h1v1h-1zM51 71h2v1h-2zM57 71h1v1h-1zM60 71h2v1h-2zM71 71h1v1h-1zM73 71h2v1h-2zM78 71h1v1h-1zM50 72h1v1h-1zM60 72h2v1h-2zM79 72h2v1h-2zM49 73h2v1h-2zM60 73h2v1h-2zM76 73h3v1h-3zM40 74h1v1h-1zM39 75h1v1h-1zM50 75h2v1h-2zM60 75h2v1h-2zM61 76h1v1h-1zM51 77h2v1h-2zM60 77h1v1h-1zM51 78h3v1h-3zM60 78h1v1h-1zM71 78h1v1h-1zM52 79h2v1h-2zM55 79h2v1h-2zM58 79h2v1h-2zM57 80h2v1h-2zM56 81h1v1h-1zM40 88h1v1h-1zM42 88h1v1h-1zM31 90h1v1h-1zM52 100h1v1h-1zM40 107h1v1h-1zM41 108h1v1h-1zM41 110h1v1h-1zM48 110h1v1h-1zM43 115h1v1h-1zM47 115h1v1h-1zM48 116h1v1h-1zM41 117h1v1h-1z"/><path fill="#0038ff" d="M25 9h1v1h-1zM28 19h1v1h-1zM29 21h1v1h-1zM32 25h4v1h-4zM32 26h1v1h-1zM34 26h2v1h-2zM32 27h3v1h-3zM37 27h1v1h-1zM39 27h3v1h-3zM32 28h3v1h-3zM36 28h2v1h-2zM42 28h2v1h-2zM31 29h1v1h-1zM35 29h2v1h-2zM30 30h1v1h-1zM32 30h2v1h-2zM45 30h2v1h-2zM29 31h1v1h-1zM31 31h2v1h-2zM35 31h1v1h-1zM47 31h1v1h-1zM29 32h2v1h-2zM34 32h1v1h-1zM48 32h1v1h-1zM33 33h1v1h-1zM35 33h1v1h-1zM49 33h1v1h-1zM30 34h2v1h-2zM33 34h2v1h-2zM28 35h2v1h-2zM34 35h1v1h-1zM36 35h1v1h-1zM38 35h1v1h-1zM50 35h1v1h-1zM27 36h1v1h-1zM31 36h2v1h-2zM36 36h2v1h-2zM40 36h1v1h-1zM49 36h2v1h-2zM52 36h1v1h-1zM54 36h1v1h-1zM27 37h2v1h-2zM31 37h1v1h-1zM35 37h2v1h-2zM50 37h1v1h-1zM54 37h1v1h-1zM27 38h1v1h-1zM30 38h1v1h-1zM32 38h4v1h-4zM37 38h1v1h-1zM53 38h1v1h-1zM23 39h9v1h-9zM33 39h1v1h-1zM35 39h1v1h-1zM37 39h3v1h-3zM53 39h1v1h-1zM58 39h2v1h-2zM21 40h1v1h-1zM25 40h1v1h-1zM29 40h1v1h-1zM31 40h1v1h-1zM34 40h2v1h-2zM60 40h1v1h-1zM15 41h1v1h-1zM18 41h1v1h-1zM20 41h1v1h-1zM22 41h3v1h-3zM26 41h3v1h-3zM32 41h1v1h-1zM34 41h1v1h-1zM50 41h1v1h-1zM57 41h2v1h-2zM61 41h1v1h-1zM15 42h1v1h-1zM17 42h2v1h-2zM20 42h1v1h-1zM22 42h1v1h-1zM26 42h1v1h-1zM30 42h1v1h-1zM32 42h4v1h-4zM43 42h1v1h-1zM48 42h4v1h-4zM61 42h2v1h-2zM64 42h1v1h-1zM14 43h2v1h-2zM17 43h3v1h-3zM23 43h1v1h-1zM30 43h1v1h-1zM32 43h1v1h-1zM34 43h2v1h-2zM44 43h1v1h-1zM53 43h2v1h-2zM68 43h1v1h-1zM72 43h1v1h-1zM14 44h1v1h-1zM16 44h1v1h-1zM19 44h2v1h-2zM24 44h1v1h-1zM27 44h2v1h-2zM32 44h1v1h-1zM34 44h2v1h-2zM46 44h1v1h-1zM48 44h1v1h-1zM50 44h2v1h-2zM53 44h2v1h-2zM56 44h1v1h-1zM62 44h2v1h-2zM69 44h1v1h-1zM13 45h4v1h-4zM18 45h1v1h-1zM24 45h2v1h-2zM32 45h1v1h-1zM34 45h2v1h-2zM45 45h1v1h-1zM50 45h2v1h-2zM53 45h5v1h-5zM63 45h1v1h-1zM65 45h1v1h-1zM67 45h1v1h-1zM69 45h3v1h-3zM76 45h1v1h-1zM16 46h1v1h-1zM18 46h2v1h-2zM24 46h2v1h-2zM27 46h2v1h-2zM30 46h3v1h-3zM35 46h1v1h-1zM39 46h1v1h-1zM42 46h1v1h-1zM45 46h1v1h-1zM52 46h1v1h-1zM54 46h1v1h-1zM62 46h1v1h-1zM76 46h1v1h-1zM19 47h1v1h-1zM21 47h2v1h-2zM26 47h5v1h-5zM32 47h2v1h-2zM35 47h1v1h-1zM41 47h1v1h-1zM52 47h1v1h-1zM56 47h1v1h-1zM60 47h1v1h-1zM62 47h2v1h-2zM65 47h1v1h-1zM77 47h4v1h-4zM15 48h2v1h-2zM18 48h1v1h-1zM20 48h1v1h-1zM23 48h2v1h-2zM28 48h1v1h-1zM30 48h6v1h-6zM39 48h2v1h-2zM42 48h2v1h-2zM53 48h1v1h-1zM58 48h1v1h-1zM62 48h1v1h-1zM76 48h1v1h-1zM81 48h1v1h-1zM16 49h8v1h-8zM26 49h1v1h-1zM30 49h1v1h-1zM35 49h2v1h-2zM39 49h1v1h-1zM41 49h3v1h-3zM55 49h2v1h-2zM63 49h2v1h-2zM76 49h1v1h-1zM81 49h1v1h-1zM110 49h1v1h-1zM15 50h2v1h-2zM18 50h3v1h-3zM22 50h1v1h-1zM29 50h1v1h-1zM31 50h1v1h-1zM34 50h2v1h-2zM37 50h2v1h-2zM42 50h1v1h-1zM50 50h1v1h-1zM55 50h3v1h-3zM59 50h1v1h-1zM63 50h1v1h-1zM108 50h5v1h-5zM19 51h1v1h-1zM22 51h2v1h-2zM52 51h1v1h-1zM54 51h1v1h-1zM56 51h1v1h-1zM61 51h1v1h-1zM108 51h3v1h-3zM19 52h2v1h-2zM22 52h1v1h-1zM52 52h2v1h-2zM55 52h1v1h-1zM57 52h1v1h-1zM63 52h1v1h-1zM83 52h1v1h-1zM109 52h1v1h-1zM113 52h1v1h-1zM17 53h5v1h-5zM51 53h3v1h-3zM55 53h2v1h-2zM110 53h1v1h-1zM112 53h1v1h-1zM19 54h1v1h-1zM22 54h1v1h-1zM55 54h2v1h-2zM83 54h1v1h-1zM9 55h1v1h-1zM11 55h1v1h-1zM51 55h2v1h-2zM54 55h3v1h-3zM9 56h3v1h-3zM47 56h1v1h-1zM50 56h2v1h-2zM53 56h3v1h-3zM111 56h1v1h-1zM6 57h2v1h-2zM9 57h1v1h-1zM49 57h2v1h-2zM54 57h1v1h-1zM6 58h1v1h-1zM8 58h2v1h-2zM47 58h1v1h-1zM51 58h1v1h-1zM7 59h1v1h-1zM9 59h3v1h-3zM29 59h1v1h-1zM39 59h1v1h-1zM52 59h1v1h-1zM55 59h1v1h-1zM8 60h1v1h-1zM36 60h3v1h-3zM43 60h1v1h-1zM45 60h1v1h-1zM11 61h1v1h-1zM27 61h1v1h-1zM32 61h1v1h-1zM36 61h3v1h-3zM40 61h1v1h-1zM43 61h1v1h-1zM24 62h1v1h-1zM27 62h1v1h-1zM33 62h1v1h-1zM36 62h1v1h-1zM39 62h1v1h-1zM41 62h3v1h-3zM45 62h1v1h-1zM26 63h1v1h-1zM29 63h2v1h-2zM34 63h6v1h-6zM45 63h1v1h-1zM26 64h2v1h-2zM31 64h2v1h-2zM34 64h1v1h-1zM37 64h1v1h-1zM33 65h1v1h-1zM37 65h1v1h-1zM39 65h1v1h-1zM41 65h1v1h-1zM45 65h2v1h-2zM12 66h1v1h-1zM27 66h3v1h-3zM36 66h1v1h-1zM40 66h2v1h-2zM45 66h2v1h-2zM12 67h1v1h-1zM39 67h2v1h-2zM44 67h2v1h-2zM14 68h1v1h-1zM16 68h1v1h-1zM39 68h8v1h-8zM14 69h2v1h-2zM39 69h1v1h-1zM41 69h2v1h-2zM37 70h4v1h-4zM43 70h1v1h-1zM36 71h2v1h-2zM39 71h1v1h-1zM41 71h1v1h-1zM43 71h1v1h-1zM45 71h1v1h-1zM35 72h1v1h-1zM37 72h3v1h-3zM42 72h1v1h-1zM44 72h1v1h-1zM37 73h1v1h-1zM40 73h2v1h-2zM43 73h2v1h-2zM46 73h1v1h-1zM65 73h1v1h-1zM35 74h1v1h-1zM45 74h1v1h-1zM47 74h1v1h-1zM64 74h2v1h-2zM67 74h1v1h-1zM69 74h1v1h-1zM72 74h3v1h-3zM34 75h2v1h-2zM47 75h1v1h-1zM63 75h1v1h-1zM65 75h1v1h-1zM67 75h1v1h-1zM72 75h3v1h-3zM31 76h1v1h-1zM33 76h3v1h-3zM63 76h2v1h-2zM73 76h1v1h-1zM31 77h1v1h-1zM34 77h2v1h-2zM37 77h2v1h-2zM48 77h1v1h-1zM63 77h1v1h-1zM31 78h1v1h-1zM33 78h1v1h-1zM66 78h1v1h-1zM31 79h6v1h-6zM40 79h1v1h-1zM48 79h1v1h-1zM63 79h2v1h-2zM31 80h6v1h-6zM38 80h1v1h-1zM40 80h3v1h-3zM49 80h1v1h-1zM51 80h1v1h-1zM64 80h2v1h-2zM34 81h1v1h-1zM36 81h1v1h-1zM38 81h5v1h-5zM51 81h1v1h-1zM63 81h1v1h-1zM65 81h1v1h-1zM32 82h1v1h-1zM35 82h1v1h-1zM37 82h1v1h-1zM40 82h3v1h-3zM53 82h2v1h-2zM62 82h1v1h-1zM32 83h4v1h-4zM37 83h3v1h-3zM41 83h1v1h-1zM43 83h1v1h-1zM54 83h1v1h-1zM64 83h2v1h-2zM34 84h4v1h-4zM39 84h3v1h-3zM54 84h2v1h-2zM59 84h1v1h-1zM62 84h2v1h-2zM33 85h1v1h-1zM35 85h1v1h-1zM37 85h1v1h-1zM39 85h1v1h-1zM54 85h3v1h-3zM59 85h1v1h-1zM61 85h1v1h-1zM34 86h1v1h-1zM37 86h2v1h-2zM45 86h1v1h-1zM62 86h1v1h-1zM38 87h2v1h-2zM41 87h1v1h-1zM44 87h1v1h-1zM52 87h1v1h-1zM55 87h1v1h-1zM59 87h1v1h-1zM34 88h1v1h-1zM39 88h1v1h-1zM53 88h1v1h-1zM55 88h2v1h-2zM34 89h2v1h-2zM45 89h5v1h-5zM51 89h1v1h-1zM54 89h1v1h-1zM56 89h2v1h-2zM35 90h1v1h-1zM48 90h4v1h-4zM57 90h1v1h-1zM46 91h6v1h-6zM45 92h3v1h-3zM49 92h2v1h-2zM52 92h1v1h-1zM54 92h1v1h-1zM46 93h2v1h-2zM50 93h2v1h-2zM53 93h2v1h-2zM36 94h1v1h-1zM46 94h4v1h-4zM52 94h3v1h-3zM46 95h3v1h-3zM53 95h2v1h-2zM36 96h1v1h-1zM47 96h3v1h-3zM53 96h1v1h-1zM37 97h1v1h-1zM45 97h1v1h-1zM47 97h2v1h-2zM50 97h1v1h-1zM37 98h1v1h-1zM47 98h5v1h-5zM53 98h3v1h-3zM37 99h1v1h-1zM47 99h3v1h-3zM51 99h3v1h-3zM37 100h1v1h-1zM50 100h2v1h-2zM53 100h2v1h-2zM38 101h1v1h-1zM49 101h4v1h-4zM38 102h1v1h-1zM39 103h1v1h-1zM39 104h1v1h-1zM39 105h1v1h-1zM41 107h1v1h-1zM42 108h1v1h-1zM42 109h1v1h-1zM48 109h2v1h-2zM42 110h2v1h-2zM47 110h1v1h-1zM49 110h1v1h-1zM52 110h2v1h-2zM43 111h5v1h-5zM51 111h3v1h-3zM43 112h3v1h-3zM47 112h1v1h-1zM44 113h1v1h-1zM45 114h1v1h-1zM45 115h1v1h-1zM44 116h1v1h-1zM41 118h1v1h-1zM42 120h2v1h-2z"/><path fill="#0000ba" d="M45 10h2v1h-2zM45 11h2v1h-2zM44 13h1v1h-1zM50 15h2v1h-2zM51 16h1v1h-1zM29 17h2v1h-2zM35 17h1v1h-1zM50 17h1v1h-1zM33 18h1v1h-1zM37 18h1v1h-1zM50 19h1v1h-1zM35 20h1v1h-1zM51 20h1v1h-1zM36 21h1v1h-1zM49 21h2v1h-2zM37 22h1v1h-1zM47 24h1v1h-1z"/><path fill="#0bf" d="M36 27h1v1h-1zM112 35h1v1h-1zM110 36h3v1h-3zM110 37h1v1h-1zM119 37h1v1h-1zM44 38h1v1h-1zM122 39h1v1h-1zM88 40h1v1h-1zM120 40h2v1h-2zM123 40h1v1h-1zM14 41h1v1h-1zM87 41h1v1h-1zM100 41h1v1h-1zM102 41h3v1h-3zM120 41h1v1h-1zM56 42h1v1h-1zM87 42h2v1h-2zM100 42h2v1h-2zM103 42h1v1h-1zM120 42h2v1h-2zM86 43h2v1h-2zM102 43h1v1h-1zM122 43h1v1h-1zM86 44h1v1h-1zM88 44h1v1h-1zM103 44h2v1h-2zM101 45h2v1h-2zM82 46h1v1h-1zM106 46h2v1h-2zM102 47h2v1h-2zM110 47h1v1h-1zM112 47h1v1h-1zM94 48h2v1h-2zM97 48h1v1h-1zM113 48h1v1h-1zM92 49h1v1h-1zM95 49h2v1h-2zM41 50h1v1h-1zM94 50h3v1h-3zM100 50h1v1h-1zM39 51h1v1h-1zM93 51h2v1h-2zM96 51h2v1h-2zM100 51h3v1h-3zM72 52h1v1h-1zM95 52h1v1h-1zM103 53h3v1h-3zM24 55h1v1h-1zM101 55h1v1h-1zM104 55h1v1h-1zM106 55h1v1h-1zM108 55h1v1h-1zM99 56h1v1h-1zM101 56h1v1h-1zM108 57h1v1h-1zM38 59h1v1h-1zM43 59h1v1h-1zM75 59h1v1h-1zM78 59h3v1h-3zM56 60h1v1h-1zM75 60h4v1h-4zM80 60h1v1h-1zM19 61h1v1h-1zM51 61h1v1h-1zM64 61h1v1h-1zM68 61h1v1h-1zM76 61h1v1h-1zM79 61h1v1h-1zM66 62h1v1h-1zM77 62h1v1h-1zM79 62h2v1h-2zM83 62h1v1h-1zM27 63h1v1h-1zM73 63h1v1h-1zM76 63h1v1h-1zM80 63h1v1h-1zM83 63h1v1h-1zM25 64h1v1h-1zM73 64h2v1h-2zM82 64h1v1h-1zM19 65h1v1h-1zM44 65h1v1h-1zM73 65h2v1h-2zM76 65h1v1h-1zM80 65h1v1h-1zM82 65h3v1h-3zM71 66h2v1h-2zM75 66h1v1h-1zM81 66h1v1h-1zM84 66h1v1h-1zM86 66h2v1h-2zM27 67h1v1h-1zM32 67h1v1h-1zM72 67h3v1h-3zM76 67h3v1h-3zM80 67h3v1h-3zM74 68h1v1h-1zM77 68h5v1h-5zM16 69h1v1h-1zM28 69h1v1h-1zM78 69h2v1h-2zM54 71h1v1h-1zM29 72h1v1h-1zM54 72h3v1h-3zM58 72h2v1h-2zM28 73h1v1h-1zM52 73h1v1h-1zM55 73h1v1h-1zM57 73h1v1h-1zM28 74h1v1h-1zM37 74h1v1h-1zM43 74h1v1h-1zM53 74h3v1h-3zM57 74h3v1h-3zM29 75h1v1h-1zM52 75h4v1h-4zM57 75h2v1h-2zM29 76h1v1h-1zM53 76h1v1h-1zM55 76h1v1h-1zM57 76h2v1h-2zM54 77h1v1h-1zM57 77h1v1h-1zM56 78h1v1h-1zM55 83h1v1h-1zM38 85h1v1h-1zM51 96h1v1h-1zM52 98h1v1h-1zM42 111h1v1h-1zM49 113h1v1h-1zM43 116h1v1h-1z"/><path fill="#00d5ff" d="M32 32h1v1h-1zM116 35h2v1h-2zM119 35h1v1h-1zM113 36h1v1h-1zM117 36h2v1h-2zM53 37h1v1h-1zM111 37h2v1h-2zM116 37h1v1h-1zM118 37h1v1h-1zM38 38h1v1h-1zM110 38h2v1h-2zM120 38h1v1h-1zM106 39h1v1h-1zM121 39h1v1h-1zM104 40h3v1h-3zM88 41h1v1h-1zM119 41h1v1h-1zM86 42h1v1h-1zM89 42h1v1h-1zM104 42h2v1h-2zM119 42h1v1h-1zM88 43h2v1h-2zM104 43h1v1h-1zM115 43h1v1h-1zM120 43h2v1h-2zM87 44h1v1h-1zM102 44h1v1h-1zM105 44h1v1h-1zM116 44h1v1h-1zM121 44h2v1h-2zM86 45h1v1h-1zM100 45h1v1h-1zM103 45h2v1h-2zM111 45h1v1h-1zM117 45h1v1h-1zM102 46h4v1h-4zM108 46h5v1h-5zM115 46h1v1h-1zM99 47h3v1h-3zM114 47h1v1h-1zM96 48h1v1h-1zM97 50h1v1h-1zM98 51h2v1h-2zM28 52h1v1h-1zM96 52h1v1h-1zM102 52h2v1h-2zM103 54h4v1h-4zM69 55h1v1h-1zM102 55h2v1h-2zM105 55h1v1h-1zM107 55h1v1h-1zM100 56h1v1h-1zM102 56h4v1h-4zM107 56h1v1h-1zM100 57h4v1h-4zM106 57h1v1h-1zM109 57h1v1h-1zM99 58h1v1h-1zM101 58h3v1h-3zM105 58h1v1h-1zM107 58h1v1h-1zM33 59h1v1h-1zM99 59h2v1h-2zM103 59h2v1h-2zM79 60h1v1h-1zM99 60h2v1h-2zM103 60h1v1h-1zM77 61h2v1h-2zM80 61h1v1h-1zM100 61h1v1h-1zM76 62h1v1h-1zM78 62h1v1h-1zM81 62h1v1h-1zM75 63h1v1h-1zM77 63h3v1h-3zM75 64h1v1h-1zM77 64h3v1h-3zM81 64h1v1h-1zM75 65h1v1h-1zM77 65h2v1h-2zM81 65h1v1h-1zM74 66h1v1h-1zM76 66h4v1h-4zM82 66h1v1h-1zM75 67h1v1h-1zM79 67h1v1h-1zM25 69h2v1h-2zM29 71h1v1h-1zM57 72h1v1h-1zM54 73h1v1h-1zM56 74h1v1h-1zM61 74h1v1h-1zM56 76h1v1h-1zM55 77h2v1h-2zM58 77h1v1h-1zM30 82h1v1h-1zM31 84h1v1h-1zM31 86h1v1h-1zM31 87h1v1h-1zM28 90h1v1h-1zM46 96h1v1h-1zM54 96h1v1h-1zM36 98h1v1h-1zM33 102h1v1h-1zM37 102h1v1h-1zM38 112h1v1h-1zM42 113h1v1h-1zM50 115h1v1h-1zM39 116h1v1h-1zM45 118h1v1h-1z"/><path fill="#00fdf5" d="M42 32h1v1h-1zM114 37h2v1h-2zM114 38h3v1h-3zM108 39h2v1h-2zM111 39h2v1h-2zM116 39h1v1h-1zM117 40h1v1h-1zM117 42h1v1h-1zM112 43h1v1h-1zM117 43h1v1h-1zM107 44h1v1h-1zM114 44h2v1h-2zM88 45h1v1h-1zM98 45h1v1h-1zM108 45h3v1h-3zM100 46h1v1h-1zM74 52h1v1h-1zM76 59h1v1h-1zM107 60h1v1h-1zM67 62h1v1h-1zM71 62h1v1h-1zM106 62h1v1h-1zM61 65h1v1h-1zM67 65h1v1h-1zM73 66h1v1h-1zM50 68h1v1h-1zM58 68h1v1h-1zM74 69h1v1h-1zM25 70h1v1h-1zM28 70h1v1h-1zM28 71h1v1h-1zM25 72h1v1h-1zM27 72h1v1h-1zM25 75h1v1h-1zM29 78h1v1h-1zM30 81h1v1h-1zM30 83h1v1h-1zM31 85h1v1h-1zM32 89h1v1h-1zM29 91h1v1h-1zM33 91h1v1h-1zM35 94h1v1h-1zM35 96h1v1h-1zM32 97h1v1h-1zM36 97h1v1h-1zM32 99h1v1h-1zM36 100h1v1h-1zM37 101h1v1h-1zM39 106h1v1h-1zM39 107h1v1h-1zM37 108h1v1h-1zM39 109h1v1h-1zM38 111h1v1h-1zM40 115h1v1h-1zM42 115h1v1h-1zM40 116h3v1h-3z"/><path fill="#00efff" d="M118 35h1v1h-1zM26 36h1v1h-1zM114 36h3v1h-3zM113 37h1v1h-1zM117 37h1v1h-1zM107 38h3v1h-3zM112 38h2v1h-2zM117 38h3v1h-3zM107 39h1v1h-1zM117 39h4v1h-4zM107 40h1v1h-1zM118 40h2v1h-2zM86 41h1v1h-1zM89 41h1v1h-1zM105 41h2v1h-2zM117 41h2v1h-2zM106 42h1v1h-1zM118 42h1v1h-1zM105 43h2v1h-2zM114 43h1v1h-1zM116 43h1v1h-1zM118 43h2v1h-2zM89 44h1v1h-1zM106 44h1v1h-1zM113 44h1v1h-1zM117 44h2v1h-2zM87 45h1v1h-1zM99 45h1v1h-1zM105 45h3v1h-3zM112 45h5v1h-5zM86 46h1v1h-1zM101 46h1v1h-1zM113 46h2v1h-2zM42 47h1v1h-1zM91 47h1v1h-1zM98 47h1v1h-1zM50 48h1v1h-1zM76 51h1v1h-1zM78 52h1v1h-1zM61 53h1v1h-1zM82 55h1v1h-1zM76 56h1v1h-1zM106 56h1v1h-1zM104 57h2v1h-2zM107 57h1v1h-1zM100 58h1v1h-1zM104 58h1v1h-1zM106 58h1v1h-1zM28 59h1v1h-1zM101 59h1v1h-1zM105 59h3v1h-3zM61 60h1v1h-1zM101 60h1v1h-1zM104 60h3v1h-3zM104 61h3v1h-3zM76 64h1v1h-1zM79 65h1v1h-1zM106 65h1v1h-1zM57 68h1v1h-1zM27 69h1v1h-1zM24 73h1v1h-1zM56 75h1v1h-1zM29 79h1v1h-1zM26 81h1v1h-1zM58 83h1v1h-1zM31 88h1v1h-1zM32 90h1v1h-1zM34 93h1v1h-1zM35 95h1v1h-1zM32 96h1v1h-1zM36 99h1v1h-1zM38 103h1v1h-1zM38 104h1v1h-1zM38 105h1v1h-1zM40 109h1v1h-1zM39 114h1v1h-1zM48 115h1v1h-1z"/><path fill="#808080" d="M119 36h2v1h-2zM120 37h1v1h-1zM99 57h1v1h-1zM98 58h1v1h-1zM106 63h1v1h-1zM106 64h1v1h-1z"/><path fill="#00f8dc" d="M110 39h1v1h-1zM111 40h1v1h-1zM107 41h1v1h-1zM112 42h2v1h-2zM116 42h1v1h-1zM113 43h1v1h-1zM111 44h2v1h-2zM91 45h1v1h-1zM97 45h1v1h-1zM87 46h1v1h-1zM99 46h1v1h-1zM86 47h1v1h-1zM90 47h1v1h-1zM92 47h2v1h-2zM96 47h2v1h-2zM85 49h1v1h-1zM64 59h1v1h-1zM81 59h1v1h-1zM104 62h2v1h-2zM25 71h1v1h-1zM25 73h2v1h-2zM24 74h1v1h-1zM29 77h1v1h-1zM59 78h1v1h-1zM57 82h1v1h-1zM33 92h1v1h-1zM36 107h1v1h-1zM38 109h1v1h-1zM37 110h1v1h-1zM39 112h1v1h-1zM41 112h1v1h-1zM38 113h1v1h-1zM41 113h1v1h-1zM40 114h4v1h-4zM39 115h1v1h-1z"/><path fill="#00f3c2" d="M113 39h3v1h-3zM108 40h3v1h-3zM116 40h1v1h-1zM112 41h1v1h-1zM116 41h1v1h-1zM107 42h1v1h-1zM114 42h2v1h-2zM107 43h1v1h-1zM111 43h1v1h-1zM108 44h1v1h-1zM89 45h1v1h-1zM94 45h3v1h-3zM87 47h3v1h-3zM94 47h2v1h-2zM97 52h1v1h-1zM83 64h1v1h-1zM26 71h2v1h-2zM26 72h1v1h-1zM27 73h1v1h-1zM25 74h1v1h-1zM27 74h1v1h-1zM28 75h1v1h-1zM59 76h1v1h-1zM25 79h1v1h-1zM29 80h1v1h-1zM30 85h1v1h-1zM39 108h2v1h-2zM37 109h1v1h-1zM38 110h3v1h-3zM41 111h1v1h-1zM39 113h1v1h-1z"/><path fill="#00efa3" d="M112 40h1v1h-1zM111 41h1v1h-1zM113 41h1v1h-1zM111 42h1v1h-1zM110 44h1v1h-1zM90 45h1v1h-1zM88 46h1v1h-1zM91 46h1v1h-1zM26 70h1v1h-1zM26 75h2v1h-2zM25 76h1v1h-1zM27 85h1v1h-1zM30 88h1v1h-1zM36 106h1v1h-1zM39 111h1v1h-1zM40 113h1v1h-1zM41 115h1v1h-1z"/><path fill="#00ed7c" d="M113 40h1v1h-1zM115 40h1v1h-1zM108 41h1v1h-1zM110 41h1v1h-1zM115 41h1v1h-1zM109 44h1v1h-1zM98 46h1v1h-1zM101 52h1v1h-1zM27 70h1v1h-1zM26 74h1v1h-1zM25 77h1v1h-1zM30 86h1v1h-1zM31 94h1v1h-1zM40 111h1v1h-1z"/><path fill="#31ee5f" d="M114 40h1v1h-1zM114 41h1v1h-1zM90 46h1v1h-1zM104 63h1v1h-1zM28 72h1v1h-1zM28 76h1v1h-1zM28 77h1v1h-1zM25 78h1v1h-1zM27 88h1v1h-1zM32 93h1v1h-1zM31 95h1v1h-1zM34 96h1v1h-1zM34 100h1v1h-1zM36 101h1v1h-1zM38 106h1v1h-1zM37 107h1v1h-1zM38 108h1v1h-1zM40 112h1v1h-1z"/><path fill="#77f245" d="M109 41h1v1h-1zM108 42h1v1h-1zM108 43h1v1h-1zM110 43h1v1h-1zM89 46h1v1h-1zM97 46h1v1h-1zM105 63h1v1h-1zM104 64h1v1h-1zM29 83h1v1h-1zM27 84h1v1h-1zM27 86h1v1h-1zM35 98h1v1h-1zM32 100h1v1h-1zM33 101h2v1h-2zM35 106h1v1h-1zM38 107h1v1h-1z"/><path fill="#ffef00" d="M109 42h1v1h-1zM26 82h1v1h-1zM27 83h1v1h-1zM27 87h2v1h-2zM29 89h1v1h-1zM30 91h1v1h-1zM31 92h1v1h-1zM31 96h1v1h-1zM35 97h1v1h-1z"/><path fill="#a5f526" d="M110 42h1v1h-1zM92 45h1v1h-1zM94 46h3v1h-3zM26 76h1v1h-1zM30 87h1v1h-1zM32 91h1v1h-1zM35 99h1v1h-1zM35 103h1v1h-1z"/><path fill="#f1fd06" d="M109 43h1v1h-1zM105 64h1v1h-1zM26 79h1v1h-1zM26 80h1v1h-1zM26 83h1v1h-1zM28 88h1v1h-1zM28 89h1v1h-1zM30 93h1v1h-1zM37 103h1v1h-1zM37 106h1v1h-1z"/><path fill="#ff8700" d="M92 46h1v1h-1zM28 78h1v1h-1zM28 80h1v1h-1zM27 81h2v1h-2zM29 82h1v1h-1zM28 83h1v1h-1zM28 84h1v1h-1zM29 86h1v1h-1zM30 89h1v1h-1zM34 102h1v1h-1zM36 102h1v1h-1zM36 104h1v1h-1z"/><path fill="#ccf915" d="M93 46h1v1h-1zM26 77h1v1h-1zM25 80h1v1h-1zM30 84h1v1h-1zM28 85h1v1h-1zM29 92h1v1h-1zM32 94h1v1h-1zM32 98h1v1h-1zM35 100h1v1h-1zM34 104h1v1h-1zM36 105h2v1h-2z"/><path fill="#fb0" d="M98 52h1v1h-1zM28 79h1v1h-1zM27 82h1v1h-1zM33 93h1v1h-1zM34 95h1v1h-1zM37 104h1v1h-1z"/><path fill="#ea0000" d="M99 52h1v1h-1zM27 79h1v1h-1zM28 82h1v1h-1zM31 91h1v1h-1z"/><path fill="#ff5200" d="M100 52h1v1h-1zM27 77h1v1h-1zM29 81h1v1h-1zM29 84h1v1h-1zM33 96h1v1h-1zM33 98h1v1h-1z"/><path fill="#ffd500" d="M27 76h1v1h-1zM31 89h1v1h-1zM31 93h1v1h-1zM34 98h1v1h-1z"/><path fill="#ff1e00" d="M26 78h1v1h-1zM29 88h1v1h-1z"/><path fill="#ff6c00" d="M27 78h1v1h-1zM29 90h1v1h-1zM30 92h1v1h-1zM32 92h1v1h-1zM33 97h1v1h-1zM33 99h1v1h-1zM33 100h1v1h-1zM35 104h1v1h-1z"/><path fill="#840000" d="M27 80h1v1h-1zM34 97h1v1h-1z"/><path fill="#ff3800" d="M29 85h1v1h-1zM28 86h1v1h-1zM32 95h2v1h-2z"/><path fill="#ff0300" d="M29 87h1v1h-1zM33 94h1v1h-1zM35 102h1v1h-1zM35 105h1v1h-1z"/><path fill="#d20000" d="M30 90h1v1h-1zM36 103h1v1h-1z"/><path fill="#ffa100" d="M34 94h1v1h-1zM34 99h1v1h-1zM35 101h1v1h-1zM34 103h1v1h-1zM34 105h1v1h-1z"/></g><path d="M70.8 0V684.5M172.4 0V684.5M274.0 0V684.5M375.6 0V684.5M477.2 0V684.5M578.8 0V684.5M0 609.0H680.5M0 502.1H680.5M0 395.2H680.5M0 288.2H680.5M0 181.2H680.5M0 74.3H680.5" stroke="#000" stroke-opacity=".115" stroke-width="1.4" fill="none"/><path d="M70.8 0v7.5M70.8 684.5v-7.5M172.4 0v7.5M172.4 684.5v-7.5M274.0 0v7.5M274.0 684.5v-7.5M375.6 0v7.5M375.6 684.5v-7.5M477.2 0v7.5M477.2 684.5v-7.5M578.8 0v7.5M578.8 684.5v-7.5M680.4 0v7.5M680.4 684.5v-7.5M0 609.0h7.5M680.5 609.0h-7.5M0 502.1h7.5M680.5 502.1h-7.5M0 395.2h7.5M680.5 395.2h-7.5M0 288.2h7.5M680.5 288.2h-7.5M0 181.2h7.5M680.5 181.2h-7.5M0 74.3h7.5M680.5 74.3h-7.5" stroke="#303030" stroke-width="1.6" fill="none"/><rect x="0" y="0" width="680.5" height="684.5" fill="none" stroke="#303030" stroke-width="1.8"/><text class="t" x="71.8" y="720.0" text-anchor="middle">70E</text><text class="t" x="173.4" y="720.0" text-anchor="middle">75E</text><text class="t" x="275.0" y="720.0" text-anchor="middle">80E</text><text class="t" x="376.6" y="720.0" text-anchor="middle">85E</text><text class="t" x="478.2" y="720.0" text-anchor="middle">90E</text><text class="t" x="579.8" y="720.0" text-anchor="middle">95E</text><text class="t" x="681.4" y="720.0" text-anchor="middle">100E</text><text class="t" x="-10.0" y="618.2" text-anchor="end">10N</text><text class="t" x="-10.0" y="511.3" text-anchor="end">15N</text><text class="t" x="-10.0" y="404.4" text-anchor="end">20N</text><text class="t" x="-10.0" y="297.4" text-anchor="end">25N</text><text class="t" x="-10.0" y="190.4" text-anchor="end">30N</text><text class="t" x="-10.0" y="83.5" text-anchor="end">35N</text><g stroke="#000" fill="none"><circle cx="525.0" cy="131.7" r="31.2" stroke-width="2.7"/><path d="M525.0 100.5V162.9" stroke-width="3"/><path d="M523.8 102.1L494.4 130.1M526.2 102.1L555.6 129.1" stroke-width="3.4"/></g><text x="525.0" y="95.7" text-anchor="middle" style="font:bold 16.5px 'Liberation Sans',sans-serif">N</text></g><rect x="822.4" y="25.3" width="53.8" height="684.3" fill="url(#jet)" stroke="#303030" stroke-width="1.3"/><path d="M876.2 595.5h-7.5M876.2 481.5h-7.5M876.2 367.4h-7.5M876.2 253.4h-7.5M876.2 139.3h-7.5" stroke="#303030" stroke-width="1.5" fill="none"/><text class="t" font-size="25.0" x="886.7" y="718.8">0</text><text class="t" font-size="25.0" x="886.7" y="604.8">10</text><text class="t" font-size="25.0" x="886.7" y="490.7">20</text><text class="t" font-size="25.0" x="886.7" y="376.6">30</text><text class="t" font-size="25.0" x="886.7" y="262.6">40</text><text class="t" font-size="25.0" x="886.7" y="148.5">50</text><text class="t" font-size="25.0" x="886.7" y="34.5">60</text><text x="479.0" y="839.3" text-anchor="middle" style="font:bold 38.5px 'Liberation Serif',serif">(a)</text><g transform="translate(1157.5 25.1)" font-size="26.8"><g transform="translate(-0.32 -0.57) scale(5.08000 5.34750)" shape-rendering="crispEdges" stroke="none"><path fill="#00fdf5" d="M32 4h4v1h-4zM28 5h9v1h-9zM29 6h3v1h-3zM37 6h1v1h-1zM38 7h2v1h-2zM38 8h3v1h-3zM34 9h6v1h-6zM32 10h2v1h-2zM36 10h3v1h-3zM31 11h2v1h-2zM55 11h1v1h-1zM31 12h1v1h-1zM42 12h2v1h-2zM30 13h1v1h-1zM40 13h4v1h-4zM30 14h1v1h-1zM38 14h6v1h-6zM30 15h1v1h-1zM37 15h1v1h-1zM41 15h2v1h-2zM31 16h1v1h-1zM36 16h1v1h-1zM42 16h1v1h-1zM42 18h1v1h-1zM43 19h1v1h-1zM43 20h1v1h-1zM43 21h1v1h-1zM44 24h1v1h-1zM45 26h1v1h-1zM48 27h2v1h-2zM51 28h2v1h-2zM52 29h3v1h-3zM54 30h2v1h-2zM56 31h2v1h-2zM56 32h3v1h-3zM56 33h1v1h-1zM32 38h1v1h-1zM40 43h1v1h-1zM107 52h1v1h-1zM43 81h1v1h-1zM40 84h1v1h-1zM40 85h1v1h-1zM31 86h1v1h-1zM32 88h1v1h-1zM37 90h1v1h-1zM45 90h1v1h-1zM49 90h1v1h-1zM34 91h1v1h-1zM47 92h1v1h-1zM37 93h1v1h-1zM44 93h1v1h-1zM52 98h1v1h-1zM48 100h2v1h-2zM51 100h1v1h-1zM50 101h1v1h-1zM52 102h1v1h-1zM41 104h1v1h-1zM39 105h1v1h-1zM41 105h1v1h-1zM40 106h1v1h-1zM41 109h1v1h-1zM49 109h1v1h-1zM43 111h1v1h-1z"/><path fill="#00f3c2" d="M26 6h1v1h-1zM27 8h1v1h-1zM27 9h2v1h-2zM27 10h2v1h-2zM28 11h1v1h-1zM27 14h1v1h-1zM27 15h2v1h-2zM28 16h1v1h-1zM39 16h1v1h-1zM28 17h4v1h-4zM37 17h4v1h-4zM28 18h1v1h-1zM33 18h5v1h-5zM40 18h1v1h-1zM29 19h1v1h-1zM41 19h1v1h-1zM42 20h1v1h-1zM42 21h1v1h-1zM43 23h1v1h-1zM46 28h1v1h-1zM47 29h3v1h-3zM48 30h1v1h-1zM50 30h1v1h-1zM49 31h1v1h-1zM51 31h2v1h-2zM52 32h2v1h-2zM54 33h1v1h-1zM55 34h1v1h-1zM30 35h1v1h-1zM29 38h1v1h-1zM26 41h1v1h-1zM33 45h1v1h-1zM27 48h1v1h-1zM29 48h1v1h-1zM112 54h1v1h-1zM41 77h1v1h-1zM32 78h1v1h-1zM40 79h1v1h-1zM34 80h2v1h-2zM41 80h2v1h-2zM44 80h1v1h-1zM32 81h1v1h-1zM34 81h1v1h-1zM36 81h1v1h-1zM42 81h1v1h-1zM33 82h1v1h-1zM38 82h1v1h-1zM40 82h1v1h-1zM35 83h1v1h-1zM34 85h1v1h-1zM31 87h1v1h-1zM37 87h1v1h-1zM41 87h1v1h-1zM53 87h1v1h-1zM35 88h2v1h-2zM52 88h1v1h-1zM33 89h1v1h-1zM44 89h1v1h-1zM52 89h1v1h-1zM34 90h1v1h-1zM47 90h1v1h-1zM36 91h1v1h-1zM37 92h2v1h-2zM35 93h1v1h-1zM49 93h1v1h-1zM38 94h2v1h-2zM50 95h1v1h-1zM35 96h1v1h-1zM39 98h1v1h-1zM41 98h1v1h-1zM36 99h1v1h-1zM39 99h1v1h-1zM49 99h2v1h-2zM52 99h1v1h-1zM54 99h1v1h-1zM47 101h1v1h-1zM39 102h1v1h-1zM51 102h1v1h-1zM54 102h1v1h-1zM44 103h1v1h-1zM51 103h1v1h-1zM52 104h1v1h-1zM44 105h1v1h-1zM51 105h2v1h-2zM42 106h1v1h-1zM41 107h1v1h-1zM42 110h1v1h-1zM43 112h1v1h-1zM48 112h1v1h-1zM41 113h1v1h-1zM42 116h1v1h-1z"/><path fill="#00f8dc" d="M27 6h2v1h-2zM32 6h5v1h-5zM27 7h11v1h-11zM28 8h10v1h-10zM29 9h5v1h-5zM29 10h3v1h-3zM29 11h2v1h-2zM29 12h2v1h-2zM29 13h1v1h-1zM28 14h2v1h-2zM29 15h1v1h-1zM38 15h3v1h-3zM29 16h2v1h-2zM37 16h2v1h-2zM40 16h2v1h-2zM32 17h5v1h-5zM41 17h1v1h-1zM41 18h1v1h-1zM42 19h1v1h-1zM43 22h1v1h-1zM50 27h1v1h-1zM47 28h4v1h-4zM50 29h2v1h-2zM51 30h3v1h-3zM53 31h3v1h-3zM54 32h2v1h-2zM55 33h1v1h-1zM28 38h1v1h-1zM34 39h1v1h-1zM33 42h1v1h-1zM32 44h1v1h-1zM30 48h1v1h-1zM109 53h1v1h-1zM32 70h1v1h-1zM38 76h1v1h-1zM35 79h1v1h-1zM31 80h1v1h-1zM34 84h1v1h-1zM31 85h1v1h-1zM38 85h1v1h-1zM41 86h1v1h-1zM32 87h1v1h-1zM38 87h1v1h-1zM34 88h1v1h-1zM51 88h1v1h-1zM35 89h1v1h-1zM37 89h1v1h-1zM51 89h1v1h-1zM36 90h1v1h-1zM46 91h1v1h-1zM44 92h1v1h-1zM34 93h1v1h-1zM35 95h2v1h-2zM38 95h1v1h-1zM51 95h1v1h-1zM39 96h1v1h-1zM42 98h1v1h-1zM49 98h1v1h-1zM37 100h1v1h-1zM53 100h1v1h-1zM41 102h1v1h-1zM44 102h1v1h-1zM52 103h1v1h-1zM43 109h1v1h-1zM45 112h1v1h-1zM50 113h1v1h-1z"/><path fill="#808080" d="M24 7h3v1h-3zM24 8h3v1h-3zM24 9h2v1h-2zM42 17h6v1h-6zM45 18h3v1h-3zM47 19h2v1h-2zM48 20h1v1h-1zM31 29h2v1h-2zM30 30h2v1h-2zM29 31h4v1h-4zM28 32h4v1h-4zM27 33h4v1h-4zM26 34h5v1h-5zM26 35h4v1h-4zM25 36h5v1h-5zM119 36h2v1h-2zM23 37h6v1h-6zM120 37h1v1h-1zM23 38h5v1h-5zM22 39h6v1h-6zM21 40h6v1h-6zM14 41h3v1h-3zM18 41h8v1h-8zM14 42h12v1h-12zM12 43h14v1h-14zM12 44h13v1h-13zM12 45h13v1h-13zM12 46h13v1h-13zM14 47h10v1h-10zM14 48h10v1h-10zM14 49h10v1h-10zM15 50h8v1h-8zM16 51h7v1h-7zM17 52h4v1h-4zM17 53h2v1h-2zM9 55h1v1h-1zM11 55h2v1h-2zM14 55h1v1h-1zM9 56h5v1h-5zM6 57h4v1h-4zM99 57h1v1h-1zM6 58h4v1h-4zM98 58h1v1h-1zM7 59h3v1h-3zM8 60h2v1h-2zM106 62h1v1h-1zM106 63h1v1h-1zM106 64h1v1h-1zM106 65h1v1h-1zM45 110h1v1h-1zM46 111h1v1h-1zM49 114h1v1h-1zM48 115h4v1h-4zM51 116h1v1h-1zM44 117h1v1h-1zM44 118h2v1h-2zM44 119h3v1h-3zM44 120h2v1h-2z"/><path fill="#00efff" d="M41 8h1v1h-1zM40 9h3v1h-3zM52 9h3v1h-3zM34 10h2v1h-2zM39 10h5v1h-5zM52 10h4v1h-4zM33 11h1v1h-1zM36 11h10v1h-10zM51 11h4v1h-4zM32 12h1v1h-1zM37 12h5v1h-5zM44 12h4v1h-4zM51 12h4v1h-4zM31 13h1v1h-1zM37 13h3v1h-3zM44 13h11v1h-11zM31 14h1v1h-1zM37 14h1v1h-1zM44 14h11v1h-11zM31 15h1v1h-1zM36 15h1v1h-1zM43 15h2v1h-2zM32 16h4v1h-4zM43 16h1v1h-1zM43 18h1v1h-1zM44 19h1v1h-1zM44 20h1v1h-1zM44 21h1v1h-1zM49 26h1v1h-1zM46 27h2v1h-2zM34 46h1v1h-1zM108 52h1v1h-1zM34 78h1v1h-1zM43 79h1v1h-1zM40 87h1v1h-1zM45 91h1v1h-1zM36 98h1v1h-1zM38 104h1v1h-1zM53 105h1v1h-1zM40 107h1v1h-1zM43 110h1v1h-1zM42 112h1v1h-1zM43 113h1v1h-1z"/><path fill="#00efa3" d="M26 9h1v1h-1zM26 10h1v1h-1zM29 18h4v1h-4zM38 18h2v1h-2zM28 19h1v1h-1zM30 19h1v1h-1zM34 19h7v1h-7zM40 20h2v1h-2zM41 21h1v1h-1zM42 22h1v1h-1zM44 25h1v1h-1zM49 30h1v1h-1zM50 31h1v1h-1zM33 35h1v1h-1zM28 39h1v1h-1zM36 40h1v1h-1zM38 41h1v1h-1zM40 41h1v1h-1zM36 42h1v1h-1zM42 42h1v1h-1zM32 43h2v1h-2zM25 44h2v1h-2zM31 44h1v1h-1zM39 44h1v1h-1zM44 44h1v1h-1zM27 45h1v1h-1zM45 45h1v1h-1zM39 47h1v1h-1zM37 48h1v1h-1zM28 49h1v1h-1zM105 52h2v1h-2zM111 52h1v1h-1zM107 53h1v1h-1zM110 53h1v1h-1zM112 53h1v1h-1zM105 54h1v1h-1zM111 54h1v1h-1zM34 75h1v1h-1zM30 77h1v1h-1zM32 77h1v1h-1zM34 77h1v1h-1zM37 77h1v1h-1zM39 79h1v1h-1zM42 79h1v1h-1zM35 82h1v1h-1zM30 83h3v1h-3zM34 83h1v1h-1zM32 84h1v1h-1zM38 84h1v1h-1zM32 85h1v1h-1zM36 85h1v1h-1zM41 85h1v1h-1zM46 85h1v1h-1zM32 86h1v1h-1zM34 86h1v1h-1zM37 86h2v1h-2zM39 87h1v1h-1zM43 87h1v1h-1zM48 87h2v1h-2zM44 88h1v1h-1zM48 88h1v1h-1zM50 89h1v1h-1zM53 89h1v1h-1zM55 89h1v1h-1zM32 90h1v1h-1zM44 90h1v1h-1zM43 91h2v1h-2zM47 91h1v1h-1zM49 91h1v1h-1zM39 92h1v1h-1zM39 93h1v1h-1zM54 93h1v1h-1zM35 94h1v1h-1zM37 94h1v1h-1zM39 95h1v1h-1zM54 95h1v1h-1zM36 96h2v1h-2zM41 96h2v1h-2zM39 97h1v1h-1zM52 97h1v1h-1zM37 98h1v1h-1zM45 98h1v1h-1zM48 98h1v1h-1zM55 98h1v1h-1zM37 99h1v1h-1zM46 100h2v1h-2zM38 101h2v1h-2zM45 102h1v1h-1zM49 102h1v1h-1zM38 103h1v1h-1zM40 103h2v1h-2zM54 103h1v1h-1zM40 104h1v1h-1zM53 104h1v1h-1zM40 105h1v1h-1zM42 105h1v1h-1zM52 107h1v1h-1zM43 108h1v1h-1zM44 110h1v1h-1zM42 113h1v1h-1zM48 113h1v1h-1zM46 117h1v1h-1z"/><path fill="#00d5ff" d="M48 9h4v1h-4zM45 10h7v1h-7zM34 11h2v1h-2zM46 11h5v1h-5zM33 12h1v1h-1zM36 12h1v1h-1zM48 12h3v1h-3zM32 13h1v1h-1zM36 13h1v1h-1zM32 14h1v1h-1zM36 14h1v1h-1zM32 15h4v1h-4zM45 15h9v1h-9zM44 16h5v1h-5zM44 18h1v1h-1zM45 19h1v1h-1zM44 22h1v1h-1zM44 23h1v1h-1zM49 25h1v1h-1zM48 26h1v1h-1zM37 47h1v1h-1zM34 89h1v1h-1zM46 92h1v1h-1zM40 94h1v1h-1zM39 104h1v1h-1zM41 106h1v1h-1zM42 111h1v1h-1zM44 111h1v1h-1z"/><path fill="#0bf" d="M34 12h2v1h-2zM33 13h3v1h-3zM33 14h3v1h-3zM49 16h4v1h-4zM48 17h1v1h-1zM46 19h1v1h-1zM45 20h1v1h-1zM45 21h1v1h-1zM45 25h1v1h-1zM48 25h1v1h-1zM46 26h2v1h-2zM33 81h1v1h-1zM39 83h1v1h-1zM33 88h1v1h-1zM35 90h1v1h-1zM48 99h1v1h-1zM51 101h1v1h-1z"/><path fill="#00a1ff" d="M49 17h2v1h-2zM48 18h2v1h-2zM46 20h1v1h-1zM45 22h1v1h-1zM51 22h2v1h-2zM50 23h1v1h-1zM45 24h1v1h-1zM37 95h1v1h-1zM42 109h1v1h-1z"/><path fill="#0087ff" d="M50 18h1v1h-1zM49 19h3v1h-3zM47 20h1v1h-1zM49 20h3v1h-3zM46 21h1v1h-1zM49 21h4v1h-4zM49 22h2v1h-2zM45 23h1v1h-1zM49 23h1v1h-1zM48 24h1v1h-1zM46 25h2v1h-2zM41 84h1v1h-1zM36 89h1v1h-1zM46 90h1v1h-1zM38 105h1v1h-1z"/><path fill="#00ed7c" d="M31 19h3v1h-3zM29 20h1v1h-1zM35 20h5v1h-5zM38 21h3v1h-3zM45 27h1v1h-1zM48 31h1v1h-1zM51 32h1v1h-1zM53 33h1v1h-1zM55 35h1v1h-1zM27 40h1v1h-1zM29 40h1v1h-1zM38 40h1v1h-1zM40 40h1v1h-1zM39 41h1v1h-1zM26 43h1v1h-1zM29 43h1v1h-1zM35 43h1v1h-1zM38 43h1v1h-1zM45 43h1v1h-1zM29 44h1v1h-1zM33 44h2v1h-2zM38 44h1v1h-1zM30 45h1v1h-1zM32 45h1v1h-1zM36 45h1v1h-1zM27 46h1v1h-1zM29 46h1v1h-1zM41 46h1v1h-1zM43 46h1v1h-1zM33 47h1v1h-1zM26 48h1v1h-1zM31 48h1v1h-1zM106 49h1v1h-1zM104 50h1v1h-1zM106 50h1v1h-1zM60 51h1v1h-1zM106 51h1v1h-1zM112 51h2v1h-2zM37 52h1v1h-1zM112 52h1v1h-1zM35 53h1v1h-1zM110 54h1v1h-1zM27 60h1v1h-1zM33 70h1v1h-1zM39 71h1v1h-1zM33 72h1v1h-1zM40 72h1v1h-1zM28 73h1v1h-1zM33 74h1v1h-1zM36 75h1v1h-1zM33 76h1v1h-1zM39 78h1v1h-1zM41 79h1v1h-1zM44 79h1v1h-1zM40 80h1v1h-1zM37 81h1v1h-1zM39 81h2v1h-2zM31 82h2v1h-2zM34 82h1v1h-1zM36 82h1v1h-1zM41 82h1v1h-1zM38 83h1v1h-1zM35 84h1v1h-1zM37 84h1v1h-1zM33 85h1v1h-1zM39 85h1v1h-1zM62 85h1v1h-1zM36 86h1v1h-1zM45 86h1v1h-1zM54 86h2v1h-2zM61 86h1v1h-1zM45 87h1v1h-1zM50 87h1v1h-1zM55 87h1v1h-1zM38 88h1v1h-1zM38 89h1v1h-1zM41 89h1v1h-1zM48 89h1v1h-1zM33 90h1v1h-1zM43 90h1v1h-1zM48 90h1v1h-1zM33 91h1v1h-1zM37 91h3v1h-3zM42 91h1v1h-1zM34 92h2v1h-2zM40 92h1v1h-1zM43 92h1v1h-1zM53 92h1v1h-1zM45 93h1v1h-1zM47 93h1v1h-1zM36 94h1v1h-1zM43 94h1v1h-1zM46 94h1v1h-1zM40 95h2v1h-2zM49 95h1v1h-1zM54 96h1v1h-1zM38 97h1v1h-1zM48 97h1v1h-1zM50 97h1v1h-1zM38 98h1v1h-1zM44 98h1v1h-1zM51 98h1v1h-1zM51 99h1v1h-1zM49 101h1v1h-1zM37 102h2v1h-2zM50 102h1v1h-1zM53 102h1v1h-1zM46 103h1v1h-1zM50 103h1v1h-1zM53 103h1v1h-1zM44 106h1v1h-1zM53 106h1v1h-1zM43 107h1v1h-1zM51 107h1v1h-1zM41 108h1v1h-1zM51 109h1v1h-1zM49 110h1v1h-1zM44 112h1v1h-1zM43 116h1v1h-1zM49 116h1v1h-1zM45 117h1v1h-1zM46 118h1v1h-1z"/><path fill="#31ee5f" d="M28 20h1v1h-1zM34 20h1v1h-1zM36 21h2v1h-2zM39 22h3v1h-3zM46 29h1v1h-1zM47 30h1v1h-1zM50 32h1v1h-1zM52 33h1v1h-1zM54 34h1v1h-1zM30 36h2v1h-2zM29 37h1v1h-1zM34 38h1v1h-1zM31 39h2v1h-2zM30 40h1v1h-1zM28 41h1v1h-1zM33 41h1v1h-1zM31 43h1v1h-1zM39 43h1v1h-1zM42 43h1v1h-1zM28 44h1v1h-1zM30 44h1v1h-1zM29 45h1v1h-1zM37 45h2v1h-2zM40 45h2v1h-2zM31 46h1v1h-1zM35 46h2v1h-2zM38 46h1v1h-1zM46 46h1v1h-1zM30 47h1v1h-1zM28 48h1v1h-1zM32 48h1v1h-1zM30 49h1v1h-1zM59 49h1v1h-1zM108 49h1v1h-1zM28 50h1v1h-1zM38 50h1v1h-1zM29 51h1v1h-1zM37 51h1v1h-1zM104 52h1v1h-1zM113 52h1v1h-1zM105 53h2v1h-2zM108 53h1v1h-1zM111 53h1v1h-1zM104 54h1v1h-1zM109 54h1v1h-1zM80 55h1v1h-1zM105 55h1v1h-1zM107 55h1v1h-1zM111 55h1v1h-1zM62 58h1v1h-1zM39 70h1v1h-1zM36 73h1v1h-1zM40 73h1v1h-1zM34 76h1v1h-1zM33 77h1v1h-1zM40 77h1v1h-1zM31 78h1v1h-1zM35 78h1v1h-1zM41 78h1v1h-1zM32 79h2v1h-2zM37 79h1v1h-1zM39 80h1v1h-1zM35 81h1v1h-1zM38 81h1v1h-1zM37 82h1v1h-1zM39 82h1v1h-1zM33 83h1v1h-1zM37 83h1v1h-1zM36 84h1v1h-1zM45 84h1v1h-1zM37 85h1v1h-1zM50 86h1v1h-1zM34 87h2v1h-2zM43 88h1v1h-1zM46 88h1v1h-1zM50 88h1v1h-1zM56 88h1v1h-1zM46 89h2v1h-2zM49 89h1v1h-1zM40 90h1v1h-1zM54 90h1v1h-1zM35 91h1v1h-1zM40 91h1v1h-1zM50 91h1v1h-1zM52 91h1v1h-1zM54 91h1v1h-1zM36 92h1v1h-1zM41 92h2v1h-2zM45 92h1v1h-1zM48 92h1v1h-1zM46 93h1v1h-1zM52 94h1v1h-1zM45 95h3v1h-3zM38 96h1v1h-1zM40 96h1v1h-1zM47 96h1v1h-1zM49 96h1v1h-1zM53 97h1v1h-1zM43 98h1v1h-1zM46 98h2v1h-2zM50 98h1v1h-1zM53 98h1v1h-1zM38 100h2v1h-2zM54 100h2v1h-2zM41 101h1v1h-1zM43 101h1v1h-1zM52 101h2v1h-2zM46 102h1v1h-1zM48 102h1v1h-1zM49 103h1v1h-1zM42 104h2v1h-2zM51 104h1v1h-1zM43 105h1v1h-1zM42 107h1v1h-1zM52 108h1v1h-1zM45 109h1v1h-1zM47 110h1v1h-1zM53 110h1v1h-1zM45 111h1v1h-1zM47 112h1v1h-1zM50 112h1v1h-1zM47 114h1v1h-1z"/><path fill="#77f245" d="M30 20h4v1h-4zM35 21h1v1h-1zM37 22h2v1h-2zM42 23h1v1h-1zM43 24h1v1h-1zM32 34h1v1h-1zM34 37h1v1h-1zM30 38h1v1h-1zM35 39h1v1h-1zM34 40h2v1h-2zM42 40h1v1h-1zM32 41h1v1h-1zM27 42h1v1h-1zM43 42h1v1h-1zM41 43h1v1h-1zM43 43h1v1h-1zM28 45h1v1h-1zM39 45h1v1h-1zM28 46h1v1h-1zM30 46h1v1h-1zM32 46h2v1h-2zM37 46h1v1h-1zM25 47h2v1h-2zM24 48h1v1h-1zM34 48h1v1h-1zM38 48h1v1h-1zM104 48h1v1h-1zM24 49h3v1h-3zM114 49h1v1h-1zM36 50h1v1h-1zM110 50h1v1h-1zM35 51h1v1h-1zM105 51h1v1h-1zM108 51h2v1h-2zM25 52h1v1h-1zM36 52h1v1h-1zM60 52h1v1h-1zM62 52h1v1h-1zM109 52h2v1h-2zM69 53h1v1h-1zM104 55h1v1h-1zM108 55h2v1h-2zM107 56h1v1h-1zM107 57h1v1h-1zM28 58h1v1h-1zM81 63h1v1h-1zM31 70h1v1h-1zM30 71h2v1h-2zM37 72h3v1h-3zM31 73h1v1h-1zM38 73h1v1h-1zM37 74h1v1h-1zM31 75h1v1h-1zM36 76h1v1h-1zM42 76h1v1h-1zM45 77h1v1h-1zM33 78h1v1h-1zM38 78h1v1h-1zM42 78h1v1h-1zM44 78h1v1h-1zM67 78h1v1h-1zM34 79h1v1h-1zM36 79h1v1h-1zM38 79h1v1h-1zM33 80h1v1h-1zM36 80h2v1h-2zM43 80h1v1h-1zM31 81h1v1h-1zM41 81h1v1h-1zM44 81h1v1h-1zM43 82h1v1h-1zM36 83h1v1h-1zM42 84h1v1h-1zM53 84h1v1h-1zM43 85h1v1h-1zM60 85h1v1h-1zM33 86h1v1h-1zM44 86h1v1h-1zM46 86h2v1h-2zM56 86h1v1h-1zM42 87h1v1h-1zM39 88h1v1h-1zM45 88h1v1h-1zM49 88h1v1h-1zM39 89h1v1h-1zM42 89h2v1h-2zM39 90h1v1h-1zM51 90h1v1h-1zM53 90h1v1h-1zM48 91h1v1h-1zM49 92h1v1h-1zM36 93h1v1h-1zM50 94h1v1h-1zM53 94h1v1h-1zM42 95h1v1h-1zM43 96h2v1h-2zM41 97h2v1h-2zM44 97h1v1h-1zM47 97h1v1h-1zM49 97h1v1h-1zM40 98h1v1h-1zM38 99h1v1h-1zM47 99h1v1h-1zM50 100h1v1h-1zM46 101h1v1h-1zM43 102h1v1h-1zM47 102h1v1h-1zM45 104h1v1h-1zM50 105h1v1h-1zM51 106h2v1h-2zM47 107h1v1h-1zM50 107h1v1h-1zM42 108h1v1h-1zM44 108h1v1h-1zM44 109h1v1h-1zM46 110h1v1h-1zM48 111h1v1h-1zM51 112h1v1h-1zM49 113h1v1h-1zM44 114h1v1h-1zM45 115h1v1h-1z"/><path fill="#f1fd06" d="M29 21h1v1h-1zM35 22h1v1h-1zM35 23h1v1h-1zM37 24h1v1h-1zM45 28h1v1h-1zM45 29h1v1h-1zM46 30h1v1h-1zM32 32h1v1h-1zM32 33h1v1h-1zM31 34h1v1h-1zM35 34h1v1h-1zM54 35h1v1h-1zM44 37h1v1h-1zM35 38h1v1h-1zM37 39h2v1h-2zM33 40h1v1h-1zM37 40h1v1h-1zM30 41h1v1h-1zM35 41h1v1h-1zM43 41h1v1h-1zM26 42h1v1h-1zM31 42h2v1h-2zM41 42h1v1h-1zM45 42h1v1h-1zM42 44h1v1h-1zM42 45h1v1h-1zM46 45h1v1h-1zM40 46h1v1h-1zM45 46h1v1h-1zM48 46h1v1h-1zM110 46h1v1h-1zM29 47h1v1h-1zM36 47h1v1h-1zM40 47h1v1h-1zM43 47h1v1h-1zM46 47h1v1h-1zM106 47h2v1h-2zM94 48h1v1h-1zM106 48h1v1h-1zM109 48h1v1h-1zM114 48h1v1h-1zM29 49h1v1h-1zM31 49h1v1h-1zM34 49h1v1h-1zM43 49h1v1h-1zM104 49h1v1h-1zM113 49h1v1h-1zM23 50h2v1h-2zM39 50h1v1h-1zM114 50h1v1h-1zM25 51h1v1h-1zM28 51h1v1h-1zM33 51h1v1h-1zM59 51h1v1h-1zM107 51h1v1h-1zM110 51h1v1h-1zM29 52h1v1h-1zM103 52h1v1h-1zM27 53h1v1h-1zM29 53h1v1h-1zM38 53h1v1h-1zM58 53h1v1h-1zM72 53h1v1h-1zM103 53h1v1h-1zM106 54h1v1h-1zM108 54h1v1h-1zM60 55h1v1h-1zM82 55h2v1h-2zM87 55h1v1h-1zM63 56h1v1h-1zM81 56h1v1h-1zM87 56h1v1h-1zM102 56h1v1h-1zM26 57h1v1h-1zM64 57h1v1h-1zM66 57h1v1h-1zM109 57h1v1h-1zM29 58h1v1h-1zM67 58h1v1h-1zM29 60h1v1h-1zM65 60h1v1h-1zM67 60h1v1h-1zM29 61h1v1h-1zM86 61h1v1h-1zM105 62h1v1h-1zM105 63h1v1h-1zM60 64h1v1h-1zM38 67h1v1h-1zM35 68h2v1h-2zM25 69h1v1h-1zM31 69h1v1h-1zM34 69h1v1h-1zM36 69h1v1h-1zM38 69h1v1h-1zM42 69h1v1h-1zM41 70h1v1h-1zM36 71h1v1h-1zM42 72h1v1h-1zM46 72h1v1h-1zM29 73h1v1h-1zM39 73h1v1h-1zM35 74h2v1h-2zM39 74h1v1h-1zM41 74h1v1h-1zM37 75h1v1h-1zM42 75h1v1h-1zM66 76h1v1h-1zM38 77h1v1h-1zM46 77h1v1h-1zM40 78h1v1h-1zM60 78h1v1h-1zM45 79h1v1h-1zM58 81h1v1h-1zM51 82h1v1h-1zM43 83h1v1h-1zM45 83h2v1h-2zM51 83h1v1h-1zM55 83h1v1h-1zM57 83h1v1h-1zM33 84h1v1h-1zM54 84h1v1h-1zM59 84h1v1h-1zM63 84h1v1h-1zM52 85h1v1h-1zM57 85h3v1h-3zM35 86h1v1h-1zM58 86h1v1h-1zM62 86h1v1h-1zM51 87h1v1h-1zM58 87h1v1h-1zM41 88h1v1h-1zM54 88h2v1h-2zM42 90h1v1h-1zM51 91h1v1h-1zM54 92h1v1h-1zM41 93h1v1h-1zM50 93h1v1h-1zM52 93h2v1h-2zM44 94h1v1h-1zM52 95h1v1h-1zM45 96h1v1h-1zM50 96h1v1h-1zM37 97h1v1h-1zM43 97h1v1h-1zM43 99h1v1h-1zM53 99h1v1h-1zM36 100h1v1h-1zM42 103h1v1h-1zM48 103h1v1h-1zM44 104h1v1h-1zM50 104h1v1h-1zM46 105h1v1h-1zM43 106h1v1h-1zM45 107h2v1h-2zM48 108h1v1h-1zM48 109h1v1h-1zM52 111h1v1h-1zM44 113h1v1h-1zM48 114h1v1h-1zM46 115h1v1h-1z"/><path fill="#ffef00" d="M30 21h1v1h-1zM34 22h1v1h-1zM42 24h1v1h-1zM37 25h2v1h-2zM36 26h1v1h-1zM38 26h1v1h-1zM33 27h1v1h-1zM32 30h1v1h-1zM47 32h2v1h-2zM50 33h2v1h-2zM52 34h1v1h-1zM39 35h1v1h-1zM37 38h1v1h-1zM29 39h1v1h-1zM36 39h1v1h-1zM32 40h1v1h-1zM29 41h1v1h-1zM31 41h1v1h-1zM34 41h1v1h-1zM37 41h1v1h-1zM42 41h1v1h-1zM35 42h1v1h-1zM46 43h1v1h-1zM35 44h1v1h-1zM40 44h1v1h-1zM26 45h1v1h-1zM25 46h1v1h-1zM39 46h1v1h-1zM44 46h1v1h-1zM47 46h1v1h-1zM108 46h2v1h-2zM38 47h1v1h-1zM42 47h1v1h-1zM111 47h2v1h-2zM25 48h1v1h-1zM39 48h1v1h-1zM113 48h1v1h-1zM27 49h1v1h-1zM48 49h1v1h-1zM105 49h1v1h-1zM109 49h1v1h-1zM112 49h1v1h-1zM31 50h1v1h-1zM33 50h1v1h-1zM40 50h1v1h-1zM108 50h2v1h-2zM112 50h2v1h-2zM42 51h1v1h-1zM58 51h1v1h-1zM68 51h1v1h-1zM22 52h1v1h-1zM27 52h1v1h-1zM30 52h2v1h-2zM34 52h1v1h-1zM38 52h1v1h-1zM41 52h2v1h-2zM79 52h1v1h-1zM40 53h2v1h-2zM63 53h1v1h-1zM33 54h1v1h-1zM61 54h1v1h-1zM62 55h1v1h-1zM81 55h1v1h-1zM111 56h1v1h-1zM25 57h1v1h-1zM67 57h4v1h-4zM105 57h1v1h-1zM83 58h1v1h-1zM88 58h1v1h-1zM105 58h2v1h-2zM26 59h1v1h-1zM49 59h1v1h-1zM64 59h1v1h-1zM75 59h1v1h-1zM89 59h1v1h-1zM106 59h1v1h-1zM78 60h1v1h-1zM80 62h1v1h-1zM80 63h1v1h-1zM84 63h1v1h-1zM80 64h1v1h-1zM80 65h1v1h-1zM45 66h1v1h-1zM57 66h1v1h-1zM29 67h1v1h-1zM32 67h1v1h-1zM42 70h1v1h-1zM34 71h1v1h-1zM41 71h2v1h-2zM77 71h1v1h-1zM81 71h1v1h-1zM35 72h1v1h-1zM41 72h1v1h-1zM43 72h1v1h-1zM45 73h2v1h-2zM29 75h1v1h-1zM33 75h1v1h-1zM44 75h2v1h-2zM72 75h1v1h-1zM37 76h1v1h-1zM31 77h1v1h-1zM44 77h1v1h-1zM57 77h1v1h-1zM70 78h1v1h-1zM57 80h1v1h-1zM63 81h1v1h-1zM56 83h1v1h-1zM58 83h1v1h-1zM49 84h1v1h-1zM56 84h1v1h-1zM58 84h1v1h-1zM60 84h1v1h-1zM53 85h2v1h-2zM53 86h1v1h-1zM44 87h1v1h-1zM46 87h2v1h-2zM54 87h1v1h-1zM59 87h1v1h-1zM47 88h1v1h-1zM55 90h1v1h-1zM41 91h1v1h-1zM50 92h1v1h-1zM48 94h1v1h-1zM43 95h2v1h-2zM42 99h1v1h-1zM41 100h1v1h-1zM44 101h1v1h-1zM43 103h1v1h-1zM45 106h1v1h-1zM48 106h1v1h-1zM49 107h1v1h-1zM50 108h1v1h-1zM49 111h2v1h-2zM46 113h1v1h-1zM47 116h1v1h-1zM42 120h1v1h-1z"/><path fill="#ccf915" d="M31 21h1v1h-1zM33 21h1v1h-1zM36 23h2v1h-2zM40 23h1v1h-1zM44 26h1v1h-1zM47 31h1v1h-1zM53 34h1v1h-1zM33 36h2v1h-2zM31 37h1v1h-1zM33 37h1v1h-1zM31 38h1v1h-1zM33 39h1v1h-1zM39 39h1v1h-1zM39 40h1v1h-1zM27 41h1v1h-1zM28 42h1v1h-1zM30 42h1v1h-1zM38 42h1v1h-1zM44 42h1v1h-1zM28 43h1v1h-1zM34 43h1v1h-1zM27 44h1v1h-1zM36 44h1v1h-1zM41 44h1v1h-1zM43 44h1v1h-1zM46 44h1v1h-1zM43 45h2v1h-2zM27 47h1v1h-1zM31 47h2v1h-2zM34 47h1v1h-1zM35 48h2v1h-2zM111 48h2v1h-2zM36 49h1v1h-1zM107 49h1v1h-1zM26 50h1v1h-1zM34 50h1v1h-1zM42 50h1v1h-1zM105 50h1v1h-1zM111 50h1v1h-1zM24 51h1v1h-1zM39 51h1v1h-1zM28 52h1v1h-1zM63 52h1v1h-1zM102 52h1v1h-1zM34 53h1v1h-1zM36 53h1v1h-1zM42 53h1v1h-1zM31 54h1v1h-1zM81 54h1v1h-1zM103 54h1v1h-1zM61 55h1v1h-1zM68 55h1v1h-1zM69 56h1v1h-1zM82 56h2v1h-2zM106 56h1v1h-1zM79 62h1v1h-1zM81 62h1v1h-1zM81 64h1v1h-1zM83 64h1v1h-1zM44 67h1v1h-1zM32 69h1v1h-1zM38 70h1v1h-1zM29 71h1v1h-1zM32 71h1v1h-1zM45 71h1v1h-1zM36 72h1v1h-1zM69 72h1v1h-1zM30 73h1v1h-1zM37 73h1v1h-1zM41 73h1v1h-1zM28 74h3v1h-3zM32 74h1v1h-1zM42 74h1v1h-1zM45 74h1v1h-1zM38 75h1v1h-1zM41 75h1v1h-1zM30 76h1v1h-1zM32 76h1v1h-1zM35 76h1v1h-1zM39 76h1v1h-1zM39 77h1v1h-1zM42 77h1v1h-1zM29 78h1v1h-1zM37 78h1v1h-1zM43 78h1v1h-1zM45 78h1v1h-1zM30 79h2v1h-2zM38 80h1v1h-1zM42 82h1v1h-1zM44 82h1v1h-1zM62 82h1v1h-1zM41 83h2v1h-2zM63 83h1v1h-1zM43 84h2v1h-2zM48 84h1v1h-1zM51 84h1v1h-1zM64 84h1v1h-1zM42 85h1v1h-1zM45 85h1v1h-1zM55 85h2v1h-2zM61 85h1v1h-1zM63 85h1v1h-1zM57 86h1v1h-1zM60 86h1v1h-1zM36 87h1v1h-1zM56 87h1v1h-1zM60 87h1v1h-1zM62 87h1v1h-1zM42 88h1v1h-1zM53 88h1v1h-1zM57 88h2v1h-2zM54 89h1v1h-1zM41 90h1v1h-1zM50 90h1v1h-1zM52 90h1v1h-1zM57 90h1v1h-1zM38 93h1v1h-1zM43 93h1v1h-1zM42 94h1v1h-1zM49 94h1v1h-1zM54 94h1v1h-1zM48 96h1v1h-1zM54 97h1v1h-1zM40 99h1v1h-1zM44 99h2v1h-2zM55 99h1v1h-1zM44 100h1v1h-1zM52 100h1v1h-1zM42 101h1v1h-1zM48 101h1v1h-1zM54 101h1v1h-1zM42 102h1v1h-1zM45 103h1v1h-1zM48 104h1v1h-1zM45 105h1v1h-1zM49 105h1v1h-1zM53 107h1v1h-1zM49 108h1v1h-1zM51 108h1v1h-1zM53 109h1v1h-1zM48 110h1v1h-1zM50 110h1v1h-1zM45 114h1v1h-1zM42 115h1v1h-1zM44 116h1v1h-1zM48 116h1v1h-1zM43 119h1v1h-1z"/><path fill="#ffd500" d="M32 21h1v1h-1zM38 24h2v1h-2zM43 25h1v1h-1zM33 28h1v1h-1zM46 31h1v1h-1zM48 33h2v1h-2zM33 34h1v1h-1zM52 35h1v1h-1zM35 36h1v1h-1zM32 37h1v1h-1zM42 37h1v1h-1zM36 38h1v1h-1zM38 38h1v1h-1zM41 39h1v1h-1zM28 40h1v1h-1zM43 40h1v1h-1zM34 42h1v1h-1zM37 43h1v1h-1zM37 44h1v1h-1zM47 44h1v1h-1zM58 44h1v1h-1zM110 44h1v1h-1zM44 47h1v1h-1zM108 47h1v1h-1zM42 48h2v1h-2zM59 48h2v1h-2zM107 48h1v1h-1zM32 49h1v1h-1zM35 49h1v1h-1zM45 49h1v1h-1zM58 49h1v1h-1zM60 49h1v1h-1zM110 49h1v1h-1zM41 50h1v1h-1zM58 50h1v1h-1zM61 50h1v1h-1zM103 50h1v1h-1zM57 51h1v1h-1zM66 51h1v1h-1zM23 52h1v1h-1zM57 52h1v1h-1zM59 52h1v1h-1zM23 53h1v1h-1zM26 53h1v1h-1zM30 53h1v1h-1zM32 53h1v1h-1zM59 53h1v1h-1zM71 53h1v1h-1zM79 53h1v1h-1zM23 54h1v1h-1zM48 54h2v1h-2zM60 54h1v1h-1zM62 54h1v1h-1zM80 54h1v1h-1zM28 55h1v1h-1zM32 55h1v1h-1zM66 55h1v1h-1zM103 55h1v1h-1zM28 56h1v1h-1zM62 56h1v1h-1zM66 56h1v1h-1zM80 56h1v1h-1zM84 56h1v1h-1zM88 56h1v1h-1zM110 56h1v1h-1zM81 57h1v1h-1zM88 57h1v1h-1zM25 58h1v1h-1zM27 58h1v1h-1zM30 58h1v1h-1zM68 58h1v1h-1zM70 58h1v1h-1zM80 58h1v1h-1zM87 58h1v1h-1zM25 59h1v1h-1zM27 59h1v1h-1zM66 59h2v1h-2zM86 59h1v1h-1zM81 60h1v1h-1zM33 61h1v1h-1zM80 61h1v1h-1zM28 62h1v1h-1zM30 62h1v1h-1zM82 62h1v1h-1zM47 63h1v1h-1zM83 63h1v1h-1zM82 64h1v1h-1zM24 65h1v1h-1zM34 65h1v1h-1zM45 65h1v1h-1zM82 65h1v1h-1zM84 65h1v1h-1zM28 66h1v1h-1zM33 66h1v1h-1zM40 66h1v1h-1zM44 66h1v1h-1zM54 66h1v1h-1zM24 67h1v1h-1zM26 67h1v1h-1zM43 67h1v1h-1zM58 67h1v1h-1zM25 68h1v1h-1zM32 68h1v1h-1zM39 69h1v1h-1zM43 69h1v1h-1zM56 69h1v1h-1zM27 70h4v1h-4zM34 70h4v1h-4zM35 71h1v1h-1zM37 71h1v1h-1zM65 71h1v1h-1zM74 71h1v1h-1zM79 71h1v1h-1zM28 72h1v1h-1zM30 72h3v1h-3zM34 72h1v1h-1zM44 72h1v1h-1zM33 73h3v1h-3zM66 73h1v1h-1zM75 73h1v1h-1zM77 73h1v1h-1zM31 74h1v1h-1zM34 74h1v1h-1zM70 74h1v1h-1zM35 75h1v1h-1zM39 75h1v1h-1zM66 75h1v1h-1zM29 76h1v1h-1zM44 76h1v1h-1zM35 77h1v1h-1zM48 77h1v1h-1zM59 77h1v1h-1zM30 78h1v1h-1zM63 78h1v1h-1zM58 80h1v1h-1zM48 81h1v1h-1zM58 82h1v1h-1zM64 82h1v1h-1zM64 83h1v1h-1zM61 84h1v1h-1zM48 85h1v1h-1zM50 85h1v1h-1zM43 86h1v1h-1zM49 86h1v1h-1zM57 87h1v1h-1zM57 89h1v1h-1zM51 92h1v1h-1zM42 93h1v1h-1zM43 100h1v1h-1zM46 106h2v1h-2zM47 108h1v1h-1zM50 109h1v1h-1zM51 110h2v1h-2zM51 111h1v1h-1zM45 113h1v1h-1zM45 116h1v1h-1zM41 119h1v1h-1z"/><path fill="#a5f526" d="M34 21h1v1h-1zM36 22h1v1h-1zM38 23h2v1h-2zM41 23h1v1h-1zM33 31h1v1h-1zM49 32h1v1h-1zM31 33h1v1h-1zM33 33h3v1h-3zM31 35h2v1h-2zM32 36h1v1h-1zM30 37h1v1h-1zM33 38h1v1h-1zM30 39h1v1h-1zM31 40h1v1h-1zM41 40h1v1h-1zM36 41h1v1h-1zM41 41h1v1h-1zM29 42h1v1h-1zM39 42h2v1h-2zM27 43h1v1h-1zM30 43h1v1h-1zM44 43h1v1h-1zM45 44h1v1h-1zM31 45h1v1h-1zM34 45h2v1h-2zM42 46h1v1h-1zM24 47h1v1h-1zM28 47h1v1h-1zM35 47h1v1h-1zM33 48h1v1h-1zM108 48h1v1h-1zM110 48h1v1h-1zM33 49h1v1h-1zM39 49h1v1h-1zM41 49h1v1h-1zM111 49h1v1h-1zM27 50h1v1h-1zM29 50h2v1h-2zM32 50h1v1h-1zM37 50h1v1h-1zM107 50h1v1h-1zM32 51h1v1h-1zM61 51h1v1h-1zM103 51h2v1h-2zM111 51h1v1h-1zM37 53h1v1h-1zM104 53h1v1h-1zM107 54h1v1h-1zM106 55h1v1h-1zM110 55h1v1h-1zM60 56h1v1h-1zM105 56h1v1h-1zM108 56h2v1h-2zM108 57h1v1h-1zM59 58h1v1h-1zM107 59h1v1h-1zM26 60h1v1h-1zM81 61h1v1h-1zM31 62h1v1h-1zM83 62h1v1h-1zM82 63h1v1h-1zM83 66h1v1h-1zM34 68h1v1h-1zM33 71h1v1h-1zM40 71h1v1h-1zM32 73h1v1h-1zM42 73h1v1h-1zM38 74h1v1h-1zM30 75h1v1h-1zM32 75h1v1h-1zM43 75h1v1h-1zM31 76h1v1h-1zM40 76h1v1h-1zM43 76h1v1h-1zM36 77h1v1h-1zM36 78h1v1h-1zM46 78h1v1h-1zM30 80h1v1h-1zM32 80h1v1h-1zM63 82h1v1h-1zM40 83h1v1h-1zM47 83h1v1h-1zM50 83h1v1h-1zM60 83h1v1h-1zM62 83h1v1h-1zM50 84h1v1h-1zM52 84h1v1h-1zM35 85h1v1h-1zM44 85h1v1h-1zM51 85h1v1h-1zM39 86h2v1h-2zM42 86h1v1h-1zM52 86h1v1h-1zM63 86h1v1h-1zM33 87h1v1h-1zM52 87h1v1h-1zM61 87h1v1h-1zM37 88h1v1h-1zM40 88h1v1h-1zM45 89h1v1h-1zM38 90h1v1h-1zM53 91h1v1h-1zM40 93h1v1h-1zM48 93h1v1h-1zM51 93h1v1h-1zM41 94h1v1h-1zM45 94h1v1h-1zM47 94h1v1h-1zM53 95h1v1h-1zM46 96h1v1h-1zM51 96h1v1h-1zM53 96h1v1h-1zM40 97h1v1h-1zM45 97h2v1h-2zM51 97h1v1h-1zM54 98h1v1h-1zM46 99h1v1h-1zM40 100h1v1h-1zM45 100h1v1h-1zM40 101h1v1h-1zM45 101h1v1h-1zM40 102h1v1h-1zM39 103h1v1h-1zM47 104h1v1h-1zM49 104h1v1h-1zM47 105h1v1h-1zM50 106h1v1h-1zM44 107h1v1h-1zM45 108h2v1h-2zM53 108h1v1h-1zM52 109h1v1h-1zM47 111h1v1h-1zM46 112h1v1h-1zM47 113h1v1h-1zM43 114h1v1h-1zM43 115h2v1h-2zM47 115h1v1h-1zM46 116h1v1h-1zM43 117h1v1h-1zM43 118h1v1h-1zM42 119h1v1h-1zM43 120h1v1h-1z"/><path fill="#006cff" d="M47 21h2v1h-2zM46 22h3v1h-3zM46 23h3v1h-3zM46 24h2v1h-2z"/><path fill="#ff6c00" d="M32 22h1v1h-1zM35 25h1v1h-1zM42 25h1v1h-1zM33 26h1v1h-1zM43 26h1v1h-1zM36 27h1v1h-1zM39 27h1v1h-1zM32 28h1v1h-1zM44 28h1v1h-1zM34 29h1v1h-1zM45 30h1v1h-1zM36 31h1v1h-1zM45 31h1v1h-1zM38 32h1v1h-1zM46 32h1v1h-1zM36 34h1v1h-1zM42 35h1v1h-1zM36 36h1v1h-1zM52 36h1v1h-1zM116 36h1v1h-1zM38 37h1v1h-1zM41 37h1v1h-1zM43 37h1v1h-1zM54 37h1v1h-1zM42 38h1v1h-1zM45 38h1v1h-1zM120 38h1v1h-1zM106 40h1v1h-1zM61 41h1v1h-1zM46 42h1v1h-1zM105 42h1v1h-1zM121 43h1v1h-1zM103 44h1v1h-1zM105 44h1v1h-1zM103 45h1v1h-1zM105 45h2v1h-2zM60 46h1v1h-1zM102 46h1v1h-1zM45 47h1v1h-1zM49 47h1v1h-1zM53 47h1v1h-1zM57 47h1v1h-1zM104 47h1v1h-1zM109 47h1v1h-1zM50 48h1v1h-1zM58 48h1v1h-1zM103 48h1v1h-1zM99 49h1v1h-1zM49 50h1v1h-1zM54 50h1v1h-1zM56 50h1v1h-1zM30 51h1v1h-1zM71 51h2v1h-2zM100 51h1v1h-1zM32 52h1v1h-1zM40 52h1v1h-1zM43 52h1v1h-1zM46 52h1v1h-1zM67 52h1v1h-1zM70 52h1v1h-1zM19 53h1v1h-1zM22 53h1v1h-1zM46 53h1v1h-1zM56 53h1v1h-1zM68 53h1v1h-1zM81 53h1v1h-1zM24 54h3v1h-3zM36 54h1v1h-1zM42 54h1v1h-1zM66 54h1v1h-1zM27 55h1v1h-1zM57 55h1v1h-1zM64 55h1v1h-1zM67 55h1v1h-1zM74 55h1v1h-1zM78 55h1v1h-1zM102 55h1v1h-1zM22 56h1v1h-1zM34 56h1v1h-1zM50 56h1v1h-1zM56 56h1v1h-1zM64 56h2v1h-2zM104 56h1v1h-1zM13 57h1v1h-1zM23 57h2v1h-2zM58 57h2v1h-2zM61 57h1v1h-1zM85 57h1v1h-1zM103 57h1v1h-1zM23 58h2v1h-2zM50 58h1v1h-1zM52 58h1v1h-1zM60 58h1v1h-1zM64 58h2v1h-2zM86 58h1v1h-1zM103 58h1v1h-1zM31 59h1v1h-1zM41 59h1v1h-1zM51 59h2v1h-2zM60 59h1v1h-1zM62 59h1v1h-1zM68 59h2v1h-2zM71 59h1v1h-1zM85 59h1v1h-1zM19 60h1v1h-1zM23 60h1v1h-1zM31 60h1v1h-1zM34 60h1v1h-1zM55 60h1v1h-1zM69 60h1v1h-1zM77 60h1v1h-1zM88 60h1v1h-1zM106 60h1v1h-1zM25 61h2v1h-2zM31 61h1v1h-1zM85 61h1v1h-1zM15 62h2v1h-2zM21 62h1v1h-1zM26 62h1v1h-1zM45 62h1v1h-1zM57 62h1v1h-1zM72 62h1v1h-1zM74 62h1v1h-1zM84 62h1v1h-1zM86 62h1v1h-1zM20 63h1v1h-1zM49 63h1v1h-1zM54 63h1v1h-1zM59 63h1v1h-1zM71 63h1v1h-1zM74 63h1v1h-1zM25 64h1v1h-1zM34 64h1v1h-1zM44 64h2v1h-2zM71 64h1v1h-1zM88 64h1v1h-1zM18 65h1v1h-1zM27 65h1v1h-1zM29 65h1v1h-1zM36 65h1v1h-1zM42 65h3v1h-3zM85 65h1v1h-1zM19 66h1v1h-1zM21 66h1v1h-1zM24 66h3v1h-3zM30 66h1v1h-1zM32 66h1v1h-1zM37 66h1v1h-1zM39 66h1v1h-1zM41 66h1v1h-1zM48 66h1v1h-1zM27 67h1v1h-1zM34 67h1v1h-1zM47 67h1v1h-1zM49 67h1v1h-1zM51 67h1v1h-1zM26 68h1v1h-1zM28 68h1v1h-1zM30 68h1v1h-1zM41 68h1v1h-1zM46 68h1v1h-1zM54 68h1v1h-1zM30 69h1v1h-1zM71 69h1v1h-1zM45 70h1v1h-1zM70 70h1v1h-1zM72 70h1v1h-1zM76 70h1v1h-1zM79 70h1v1h-1zM81 70h1v1h-1zM44 71h1v1h-1zM69 71h2v1h-2zM75 71h1v1h-1zM70 72h1v1h-1zM72 72h1v1h-1zM76 72h1v1h-1zM51 73h1v1h-1zM59 73h1v1h-1zM65 73h1v1h-1zM67 73h1v1h-1zM78 73h1v1h-1zM44 74h1v1h-1zM59 74h1v1h-1zM62 74h1v1h-1zM67 74h1v1h-1zM69 74h1v1h-1zM72 74h1v1h-1zM63 75h1v1h-1zM41 76h1v1h-1zM46 76h1v1h-1zM49 76h1v1h-1zM70 76h1v1h-1zM48 78h1v1h-1zM66 78h1v1h-1zM48 79h1v1h-1zM49 80h1v1h-1zM63 80h1v1h-1zM65 80h1v1h-1zM69 80h1v1h-1zM64 81h1v1h-1zM66 81h1v1h-1zM68 81h1v1h-1zM66 82h1v1h-1zM59 83h1v1h-1zM51 86h1v1h-1zM48 107h1v1h-1zM40 117h2v1h-2z"/><path fill="#fb0" d="M33 22h1v1h-1zM36 24h1v1h-1zM40 24h2v1h-2zM36 25h1v1h-1zM37 26h1v1h-1zM37 27h2v1h-2zM44 27h1v1h-1zM33 29h1v1h-1zM33 32h1v1h-1zM37 33h1v1h-1zM34 34h1v1h-1zM50 34h2v1h-2zM37 35h1v1h-1zM53 36h1v1h-1zM55 36h1v1h-1zM36 37h1v1h-1zM39 38h2v1h-2zM43 39h1v1h-1zM122 40h1v1h-1zM44 41h1v1h-1zM103 43h1v1h-1zM25 45h1v1h-1zM47 45h1v1h-1zM55 45h1v1h-1zM59 45h1v1h-1zM109 45h1v1h-1zM55 47h1v1h-1zM110 47h1v1h-1zM114 47h1v1h-1zM41 48h1v1h-1zM45 48h1v1h-1zM38 49h1v1h-1zM42 49h1v1h-1zM53 49h1v1h-1zM61 49h1v1h-1zM25 50h1v1h-1zM35 50h1v1h-1zM55 50h1v1h-1zM59 50h1v1h-1zM62 50h1v1h-1zM96 50h1v1h-1zM36 51h1v1h-1zM79 51h1v1h-1zM102 51h1v1h-1zM24 52h1v1h-1zM49 52h1v1h-1zM61 52h1v1h-1zM68 52h1v1h-1zM78 52h1v1h-1zM100 52h1v1h-1zM28 53h1v1h-1zM33 53h1v1h-1zM48 53h1v1h-1zM55 53h1v1h-1zM61 53h1v1h-1zM67 53h1v1h-1zM70 53h1v1h-1zM78 53h1v1h-1zM32 54h1v1h-1zM57 54h1v1h-1zM65 54h1v1h-1zM70 54h1v1h-1zM82 54h1v1h-1zM84 54h1v1h-1zM33 55h1v1h-1zM56 55h1v1h-1zM59 55h1v1h-1zM84 55h1v1h-1zM61 56h1v1h-1zM67 56h2v1h-2zM27 57h1v1h-1zM62 57h1v1h-1zM79 57h1v1h-1zM87 57h1v1h-1zM104 57h1v1h-1zM110 57h1v1h-1zM61 58h1v1h-1zM23 59h2v1h-2zM28 59h2v1h-2zM59 59h1v1h-1zM63 59h1v1h-1zM65 59h1v1h-1zM78 59h2v1h-2zM13 60h1v1h-1zM50 60h1v1h-1zM54 60h1v1h-1zM83 60h1v1h-1zM28 61h1v1h-1zM30 61h1v1h-1zM67 61h1v1h-1zM79 61h1v1h-1zM87 61h1v1h-1zM19 62h1v1h-1zM75 62h1v1h-1zM87 62h1v1h-1zM89 62h1v1h-1zM11 63h1v1h-1zM19 63h1v1h-1zM29 63h2v1h-2zM34 63h1v1h-1zM51 63h1v1h-1zM78 63h1v1h-1zM27 64h1v1h-1zM28 65h1v1h-1zM81 65h1v1h-1zM27 66h1v1h-1zM46 66h1v1h-1zM81 66h1v1h-1zM86 66h1v1h-1zM35 67h1v1h-1zM42 67h1v1h-1zM27 68h1v1h-1zM33 68h1v1h-1zM37 68h2v1h-2zM40 68h1v1h-1zM45 68h1v1h-1zM58 68h1v1h-1zM33 69h1v1h-1zM35 69h1v1h-1zM40 69h1v1h-1zM59 69h1v1h-1zM44 70h1v1h-1zM61 70h1v1h-1zM38 71h1v1h-1zM29 72h1v1h-1zM45 72h1v1h-1zM79 72h1v1h-1zM44 73h1v1h-1zM70 73h1v1h-1zM46 74h1v1h-1zM60 74h1v1h-1zM71 74h1v1h-1zM75 74h1v1h-1zM40 75h1v1h-1zM67 75h1v1h-1zM67 76h1v1h-1zM72 76h1v1h-1zM43 77h1v1h-1zM47 77h1v1h-1zM47 78h1v1h-1zM49 78h1v1h-1zM69 78h1v1h-1zM46 79h1v1h-1zM60 79h1v1h-1zM64 80h1v1h-1zM68 80h1v1h-1zM61 81h2v1h-2zM67 81h1v1h-1zM46 82h2v1h-2zM49 82h2v1h-2zM52 82h1v1h-1zM57 82h1v1h-1zM60 82h2v1h-2zM65 82h1v1h-1zM52 83h1v1h-1zM54 83h1v1h-1zM65 83h1v1h-1zM46 84h1v1h-1zM47 85h1v1h-1zM48 86h1v1h-1zM40 89h1v1h-1zM56 89h1v1h-1zM52 92h1v1h-1zM48 95h1v1h-1zM52 96h1v1h-1zM42 100h1v1h-1zM47 103h1v1h-1zM46 104h1v1h-1zM48 105h1v1h-1zM49 106h1v1h-1zM47 109h1v1h-1zM53 111h1v1h-1zM49 112h1v1h-1z"/><path fill="#ff3800" d="M33 23h1v1h-1zM35 26h1v1h-1zM39 26h1v1h-1zM32 27h1v1h-1zM41 27h1v1h-1zM43 27h1v1h-1zM37 28h1v1h-1zM36 29h1v1h-1zM39 29h1v1h-1zM43 29h1v1h-1zM34 30h1v1h-1zM36 30h1v1h-1zM42 30h1v1h-1zM43 31h1v1h-1zM42 32h1v1h-1zM47 33h1v1h-1zM39 34h1v1h-1zM51 35h1v1h-1zM117 35h1v1h-1zM37 36h1v1h-1zM114 36h1v1h-1zM47 37h1v1h-1zM111 37h1v1h-1zM118 37h1v1h-1zM48 38h1v1h-1zM53 38h1v1h-1zM42 39h1v1h-1zM46 39h1v1h-1zM50 39h1v1h-1zM116 39h1v1h-1zM46 40h1v1h-1zM49 40h1v1h-1zM89 40h1v1h-1zM105 40h1v1h-1zM114 40h1v1h-1zM121 40h1v1h-1zM58 41h1v1h-1zM60 41h1v1h-1zM108 41h1v1h-1zM110 41h1v1h-1zM122 41h1v1h-1zM47 42h1v1h-1zM88 42h1v1h-1zM102 42h1v1h-1zM116 42h1v1h-1zM122 42h1v1h-1zM48 43h1v1h-1zM102 43h1v1h-1zM105 43h1v1h-1zM110 43h1v1h-1zM122 43h1v1h-1zM54 44h2v1h-2zM57 44h1v1h-1zM51 45h1v1h-1zM61 45h1v1h-1zM110 45h1v1h-1zM53 46h1v1h-1zM55 46h1v1h-1zM103 46h1v1h-1zM105 46h1v1h-1zM114 46h1v1h-1zM47 47h1v1h-1zM51 47h1v1h-1zM58 47h3v1h-3zM101 47h1v1h-1zM103 47h1v1h-1zM57 48h1v1h-1zM72 48h1v1h-1zM76 48h1v1h-1zM79 48h1v1h-1zM47 49h1v1h-1zM56 49h1v1h-1zM64 49h1v1h-1zM80 49h1v1h-1zM93 49h1v1h-1zM100 49h1v1h-1zM43 50h1v1h-1zM71 50h2v1h-2zM74 50h1v1h-1zM76 50h2v1h-2zM95 50h1v1h-1zM31 51h1v1h-1zM41 51h1v1h-1zM64 51h2v1h-2zM70 51h1v1h-1zM85 51h1v1h-1zM87 51h1v1h-1zM97 51h1v1h-1zM73 52h1v1h-1zM85 52h1v1h-1zM97 52h1v1h-1zM25 53h1v1h-1zM49 53h1v1h-1zM54 53h1v1h-1zM66 53h1v1h-1zM76 53h1v1h-1zM80 53h1v1h-1zM20 54h1v1h-1zM29 54h1v1h-1zM44 54h3v1h-3zM51 54h1v1h-1zM76 54h1v1h-1zM22 55h1v1h-1zM34 55h1v1h-1zM38 55h1v1h-1zM47 55h1v1h-1zM65 55h1v1h-1zM70 55h1v1h-1zM72 55h1v1h-1zM18 56h1v1h-1zM25 56h1v1h-1zM30 56h1v1h-1zM43 56h1v1h-1zM48 56h1v1h-1zM58 56h1v1h-1zM75 56h1v1h-1zM78 56h2v1h-2zM47 57h3v1h-3zM57 57h1v1h-1zM60 57h1v1h-1zM65 57h1v1h-1zM77 57h1v1h-1zM80 57h1v1h-1zM51 58h1v1h-1zM72 58h1v1h-1zM84 58h1v1h-1zM21 59h1v1h-1zM61 59h1v1h-1zM74 59h1v1h-1zM15 60h1v1h-1zM20 60h1v1h-1zM24 60h2v1h-2zM49 60h1v1h-1zM73 60h1v1h-1zM84 60h1v1h-1zM100 60h1v1h-1zM15 61h1v1h-1zM21 61h1v1h-1zM36 61h1v1h-1zM66 61h1v1h-1zM13 62h2v1h-2zM17 62h1v1h-1zM22 62h1v1h-1zM60 62h1v1h-1zM65 62h1v1h-1zM77 62h1v1h-1zM104 62h1v1h-1zM14 63h2v1h-2zM17 63h1v1h-1zM27 63h1v1h-1zM32 63h1v1h-1zM43 63h1v1h-1zM46 63h1v1h-1zM50 63h1v1h-1zM57 63h1v1h-1zM69 63h1v1h-1zM77 63h1v1h-1zM90 63h1v1h-1zM9 64h1v1h-1zM14 64h1v1h-1zM18 64h1v1h-1zM22 64h1v1h-1zM43 64h1v1h-1zM46 64h2v1h-2zM49 64h1v1h-1zM79 64h1v1h-1zM86 64h1v1h-1zM14 65h1v1h-1zM26 65h1v1h-1zM31 65h1v1h-1zM39 65h1v1h-1zM47 65h1v1h-1zM52 65h1v1h-1zM63 65h1v1h-1zM73 65h1v1h-1zM77 65h1v1h-1zM87 65h1v1h-1zM90 65h1v1h-1zM35 66h1v1h-1zM56 66h1v1h-1zM74 66h1v1h-1zM76 66h1v1h-1zM21 67h2v1h-2zM25 67h1v1h-1zM30 67h1v1h-1zM41 67h1v1h-1zM45 67h1v1h-1zM57 67h1v1h-1zM59 67h1v1h-1zM63 67h1v1h-1zM29 68h1v1h-1zM42 68h3v1h-3zM49 68h3v1h-3zM53 68h1v1h-1zM62 68h1v1h-1zM69 68h1v1h-1zM73 68h1v1h-1zM76 68h1v1h-1zM14 69h1v1h-1zM20 69h1v1h-1zM44 69h2v1h-2zM57 69h1v1h-1zM66 69h1v1h-1zM68 69h2v1h-2zM72 69h1v1h-1zM43 70h1v1h-1zM47 70h1v1h-1zM51 70h2v1h-2zM58 70h1v1h-1zM63 70h2v1h-2zM66 70h1v1h-1zM71 70h1v1h-1zM80 70h1v1h-1zM49 72h2v1h-2zM60 72h1v1h-1zM63 72h3v1h-3zM71 72h1v1h-1zM50 73h1v1h-1zM55 73h1v1h-1zM62 73h1v1h-1zM68 73h1v1h-1zM71 73h1v1h-1zM79 73h1v1h-1zM48 74h1v1h-1zM50 74h1v1h-1zM76 74h1v1h-1zM47 75h1v1h-1zM64 75h2v1h-2zM60 76h1v1h-1zM64 76h1v1h-1zM66 77h1v1h-1zM70 77h1v1h-1zM50 78h1v1h-1zM57 78h2v1h-2zM62 78h1v1h-1zM51 79h1v1h-1zM56 79h2v1h-2zM66 79h1v1h-1zM46 80h1v1h-1zM66 80h1v1h-1zM53 82h1v1h-1zM40 112h1v1h-1zM41 116h1v1h-1zM42 117h1v1h-1z"/><path fill="#ff5200" d="M34 23h1v1h-1zM40 25h2v1h-2zM34 26h1v1h-1zM40 26h1v1h-1zM40 27h1v1h-1zM33 30h1v1h-1zM34 31h1v1h-1zM40 33h1v1h-1zM49 34h1v1h-1zM43 35h1v1h-1zM38 36h1v1h-1zM51 36h1v1h-1zM45 37h1v1h-1zM119 37h1v1h-1zM41 38h1v1h-1zM44 38h1v1h-1zM115 38h1v1h-1zM119 38h1v1h-1zM44 39h1v1h-1zM49 39h1v1h-1zM115 39h1v1h-1zM122 39h1v1h-1zM45 40h1v1h-1zM58 40h1v1h-1zM47 41h2v1h-2zM104 41h1v1h-1zM106 41h1v1h-1zM111 41h1v1h-1zM58 42h1v1h-1zM60 42h1v1h-1zM100 42h2v1h-2zM108 42h1v1h-1zM47 43h1v1h-1zM56 43h1v1h-1zM59 43h3v1h-3zM101 43h1v1h-1zM111 43h1v1h-1zM120 43h1v1h-1zM59 44h1v1h-1zM106 44h1v1h-1zM109 44h1v1h-1zM50 45h1v1h-1zM53 45h1v1h-1zM58 45h1v1h-1zM60 45h1v1h-1zM102 45h1v1h-1zM50 46h1v1h-1zM104 46h1v1h-1zM112 46h1v1h-1zM102 47h1v1h-1zM46 48h1v1h-1zM48 48h1v1h-1zM64 48h1v1h-1zM67 48h1v1h-1zM95 48h1v1h-1zM46 49h1v1h-1zM62 49h2v1h-2zM69 49h3v1h-3zM73 49h1v1h-1zM101 49h1v1h-1zM45 50h1v1h-1zM51 50h1v1h-1zM64 50h1v1h-1zM67 50h1v1h-1zM69 50h1v1h-1zM100 50h1v1h-1zM51 51h3v1h-3zM56 51h1v1h-1zM63 51h1v1h-1zM67 51h1v1h-1zM77 51h2v1h-2zM86 51h1v1h-1zM96 51h1v1h-1zM39 52h1v1h-1zM45 52h1v1h-1zM50 52h1v1h-1zM77 52h1v1h-1zM80 52h1v1h-1zM82 52h1v1h-1zM39 53h1v1h-1zM45 53h1v1h-1zM47 53h1v1h-1zM65 53h1v1h-1zM83 53h1v1h-1zM85 53h1v1h-1zM41 54h1v1h-1zM43 54h1v1h-1zM50 54h1v1h-1zM52 54h1v1h-1zM73 54h1v1h-1zM77 54h1v1h-1zM16 55h1v1h-1zM24 55h2v1h-2zM31 55h1v1h-1zM35 55h1v1h-1zM44 55h1v1h-1zM50 55h1v1h-1zM58 55h1v1h-1zM69 55h1v1h-1zM71 55h1v1h-1zM88 55h1v1h-1zM101 55h1v1h-1zM21 56h1v1h-1zM24 56h1v1h-1zM29 56h1v1h-1zM32 56h2v1h-2zM59 56h1v1h-1zM99 56h1v1h-1zM20 57h3v1h-3zM72 57h1v1h-1zM83 57h2v1h-2zM55 58h1v1h-1zM71 58h1v1h-1zM85 58h1v1h-1zM99 58h1v1h-1zM104 58h1v1h-1zM15 59h1v1h-1zM22 59h1v1h-1zM55 59h1v1h-1zM77 59h1v1h-1zM105 59h1v1h-1zM16 60h1v1h-1zM35 60h1v1h-1zM63 60h1v1h-1zM74 60h1v1h-1zM86 60h2v1h-2zM105 60h1v1h-1zM12 61h1v1h-1zM19 61h1v1h-1zM23 61h1v1h-1zM55 61h1v1h-1zM57 61h1v1h-1zM59 61h1v1h-1zM63 61h1v1h-1zM73 61h1v1h-1zM76 61h1v1h-1zM88 61h2v1h-2zM105 61h1v1h-1zM23 62h1v1h-1zM25 62h1v1h-1zM34 62h2v1h-2zM63 62h2v1h-2zM85 62h1v1h-1zM13 63h1v1h-1zM16 63h1v1h-1zM22 63h1v1h-1zM41 63h1v1h-1zM44 63h1v1h-1zM52 63h1v1h-1zM58 63h1v1h-1zM60 63h1v1h-1zM64 63h1v1h-1zM76 63h1v1h-1zM86 63h2v1h-2zM11 64h1v1h-1zM24 64h1v1h-1zM62 64h2v1h-2zM69 64h1v1h-1zM73 64h1v1h-1zM87 64h1v1h-1zM22 65h1v1h-1zM30 65h1v1h-1zM38 65h1v1h-1zM41 65h1v1h-1zM48 65h1v1h-1zM51 65h1v1h-1zM53 65h1v1h-1zM70 65h1v1h-1zM79 65h1v1h-1zM22 66h1v1h-1zM29 66h1v1h-1zM43 66h1v1h-1zM50 66h1v1h-1zM52 66h2v1h-2zM60 66h1v1h-1zM68 66h1v1h-1zM79 66h1v1h-1zM87 66h1v1h-1zM16 67h1v1h-1zM19 67h1v1h-1zM52 67h1v1h-1zM54 67h3v1h-3zM61 67h2v1h-2zM20 68h1v1h-1zM74 68h1v1h-1zM77 68h1v1h-1zM47 69h1v1h-1zM49 69h1v1h-1zM55 69h1v1h-1zM58 69h1v1h-1zM74 69h1v1h-1zM46 70h1v1h-1zM59 70h1v1h-1zM62 70h1v1h-1zM68 70h1v1h-1zM74 70h2v1h-2zM61 71h1v1h-1zM64 71h1v1h-1zM66 71h2v1h-2zM71 71h1v1h-1zM73 71h1v1h-1zM27 72h1v1h-1zM51 72h1v1h-1zM67 72h1v1h-1zM77 72h1v1h-1zM80 72h1v1h-1zM48 73h1v1h-1zM73 73h1v1h-1zM40 74h1v1h-1zM64 74h1v1h-1zM46 75h1v1h-1zM59 75h2v1h-2zM50 77h2v1h-2zM58 77h1v1h-1zM61 77h1v1h-1zM72 77h1v1h-1zM54 78h1v1h-1zM59 78h1v1h-1zM64 78h1v1h-1zM71 78h1v1h-1zM52 79h1v1h-1zM61 79h2v1h-2zM65 79h1v1h-1zM47 80h1v1h-1zM50 81h1v1h-1zM54 81h1v1h-1zM56 81h1v1h-1zM65 81h1v1h-1zM56 82h1v1h-1zM40 113h1v1h-1zM40 116h1v1h-1zM40 118h1v1h-1z"/><path fill="#ff8700" d="M33 24h2v1h-2zM34 25h1v1h-1zM39 28h1v1h-1zM44 29h1v1h-1zM44 30h1v1h-1zM35 31h1v1h-1zM44 31h1v1h-1zM34 32h2v1h-2zM36 33h1v1h-1zM38 33h1v1h-1zM39 36h2v1h-2zM43 36h1v1h-1zM35 37h1v1h-1zM37 37h1v1h-1zM40 37h1v1h-1zM43 38h1v1h-1zM116 38h1v1h-1zM40 39h1v1h-1zM121 39h1v1h-1zM116 40h1v1h-1zM123 40h1v1h-1zM105 41h1v1h-1zM107 42h1v1h-1zM107 43h2v1h-2zM48 44h1v1h-1zM48 45h1v1h-1zM56 45h2v1h-2zM107 45h2v1h-2zM54 46h1v1h-1zM58 46h1v1h-1zM107 46h1v1h-1zM48 47h1v1h-1zM50 47h1v1h-1zM105 47h1v1h-1zM49 48h1v1h-1zM52 48h1v1h-1zM61 48h1v1h-1zM70 48h1v1h-1zM37 49h1v1h-1zM51 49h1v1h-1zM55 49h1v1h-1zM57 49h1v1h-1zM67 49h1v1h-1zM103 49h1v1h-1zM44 50h1v1h-1zM46 50h1v1h-1zM52 50h1v1h-1zM63 50h1v1h-1zM102 50h1v1h-1zM23 51h1v1h-1zM27 51h1v1h-1zM38 51h1v1h-1zM44 51h1v1h-1zM69 51h1v1h-1zM80 51h1v1h-1zM101 51h1v1h-1zM21 52h1v1h-1zM26 52h1v1h-1zM33 52h1v1h-1zM44 52h1v1h-1zM48 52h1v1h-1zM51 52h1v1h-1zM55 52h2v1h-2zM69 52h1v1h-1zM71 52h1v1h-1zM81 52h1v1h-1zM20 53h1v1h-1zM77 53h1v1h-1zM22 54h1v1h-1zM34 54h1v1h-1zM37 54h1v1h-1zM53 54h1v1h-1zM59 54h1v1h-1zM63 54h1v1h-1zM78 54h1v1h-1zM83 54h1v1h-1zM86 54h1v1h-1zM30 55h1v1h-1zM46 55h1v1h-1zM86 55h1v1h-1zM27 56h1v1h-1zM55 56h1v1h-1zM71 56h1v1h-1zM86 56h1v1h-1zM12 57h1v1h-1zM28 57h2v1h-2zM51 57h1v1h-1zM71 57h1v1h-1zM86 57h1v1h-1zM102 57h1v1h-1zM26 58h1v1h-1zM32 58h1v1h-1zM63 58h1v1h-1zM69 58h1v1h-1zM79 58h1v1h-1zM30 59h1v1h-1zM58 59h1v1h-1zM72 59h1v1h-1zM76 59h1v1h-1zM82 59h3v1h-3zM104 59h1v1h-1zM32 60h1v1h-1zM51 60h1v1h-1zM53 60h1v1h-1zM66 60h1v1h-1zM68 60h1v1h-1zM76 60h1v1h-1zM85 60h1v1h-1zM89 60h1v1h-1zM11 61h1v1h-1zM14 61h1v1h-1zM27 61h1v1h-1zM34 61h1v1h-1zM64 61h1v1h-1zM74 61h2v1h-2zM78 61h1v1h-1zM82 61h2v1h-2zM24 62h1v1h-1zM49 62h1v1h-1zM52 62h1v1h-1zM73 62h1v1h-1zM88 62h1v1h-1zM10 63h1v1h-1zM12 63h1v1h-1zM21 63h1v1h-1zM23 63h1v1h-1zM39 63h1v1h-1zM79 63h1v1h-1zM85 63h1v1h-1zM12 64h1v1h-1zM15 64h1v1h-1zM26 64h1v1h-1zM29 64h1v1h-1zM31 64h1v1h-1zM54 64h1v1h-1zM61 64h1v1h-1zM84 64h2v1h-2zM17 65h1v1h-1zM23 65h1v1h-1zM55 65h1v1h-1zM57 65h5v1h-5zM83 65h1v1h-1zM34 66h1v1h-1zM47 66h1v1h-1zM58 66h1v1h-1zM61 66h1v1h-1zM20 67h1v1h-1zM31 67h1v1h-1zM60 67h1v1h-1zM74 67h1v1h-1zM22 68h1v1h-1zM55 68h2v1h-2zM80 68h1v1h-1zM26 69h4v1h-4zM37 69h1v1h-1zM60 69h1v1h-1zM67 69h1v1h-1zM40 70h1v1h-1zM49 70h1v1h-1zM57 70h1v1h-1zM73 70h1v1h-1zM27 71h2v1h-2zM48 71h1v1h-1zM68 71h1v1h-1zM78 71h1v1h-1zM52 72h1v1h-1zM61 72h1v1h-1zM60 73h1v1h-1zM69 73h1v1h-1zM72 73h1v1h-1zM76 73h1v1h-1zM65 74h1v1h-1zM68 74h1v1h-1zM69 75h3v1h-3zM48 76h1v1h-1zM68 76h1v1h-1zM68 79h1v1h-1zM51 80h1v1h-1zM56 80h1v1h-1zM67 80h1v1h-1zM46 81h1v1h-1zM49 81h1v1h-1zM59 81h2v1h-2zM67 82h1v1h-1zM48 83h1v1h-1zM53 83h1v1h-1zM62 84h1v1h-1zM49 85h1v1h-1zM58 89h1v1h-1zM51 94h1v1h-1zM39 116h1v1h-1z"/><path fill="#ffa100" d="M35 24h1v1h-1zM39 25h1v1h-1zM42 28h1v1h-1zM39 33h1v1h-1zM37 34h2v1h-2zM34 35h3v1h-3zM53 35h1v1h-1zM42 36h1v1h-1zM54 36h1v1h-1zM45 39h1v1h-1zM59 39h1v1h-1zM44 40h1v1h-1zM60 40h1v1h-1zM46 41h1v1h-1zM37 42h1v1h-1zM121 42h1v1h-1zM36 43h1v1h-1zM54 45h1v1h-1zM26 46h1v1h-1zM56 46h1v1h-1zM111 46h1v1h-1zM41 47h1v1h-1zM40 48h1v1h-1zM44 48h1v1h-1zM47 48h1v1h-1zM105 48h1v1h-1zM40 49h1v1h-1zM68 49h1v1h-1zM102 49h1v1h-1zM47 50h1v1h-1zM57 50h1v1h-1zM60 50h1v1h-1zM101 50h1v1h-1zM26 51h1v1h-1zM34 51h1v1h-1zM40 51h1v1h-1zM43 51h1v1h-1zM45 51h1v1h-1zM47 51h1v1h-1zM62 51h1v1h-1zM35 52h1v1h-1zM52 52h1v1h-1zM58 52h1v1h-1zM64 52h1v1h-1zM66 52h1v1h-1zM99 52h1v1h-1zM101 52h1v1h-1zM31 53h1v1h-1zM43 53h1v1h-1zM57 53h1v1h-1zM60 53h1v1h-1zM62 53h1v1h-1zM64 53h1v1h-1zM82 53h1v1h-1zM86 53h1v1h-1zM30 54h1v1h-1zM35 54h1v1h-1zM64 54h1v1h-1zM67 54h3v1h-3zM71 54h1v1h-1zM79 54h1v1h-1zM85 54h1v1h-1zM29 55h1v1h-1zM63 55h1v1h-1zM85 55h1v1h-1zM47 56h1v1h-1zM70 56h1v1h-1zM103 56h1v1h-1zM30 57h1v1h-1zM55 57h1v1h-1zM82 57h1v1h-1zM106 57h1v1h-1zM66 58h1v1h-1zM81 58h1v1h-1zM107 58h1v1h-1zM87 59h2v1h-2zM99 59h1v1h-1zM11 60h1v1h-1zM22 60h1v1h-1zM28 60h1v1h-1zM30 60h1v1h-1zM72 60h1v1h-1zM75 60h1v1h-1zM79 60h2v1h-2zM107 60h1v1h-1zM50 61h1v1h-1zM52 61h2v1h-2zM65 61h1v1h-1zM77 61h1v1h-1zM84 61h1v1h-1zM20 62h1v1h-1zM27 62h1v1h-1zM29 62h1v1h-1zM32 62h1v1h-1zM50 62h1v1h-1zM54 62h1v1h-1zM71 62h1v1h-1zM78 62h1v1h-1zM90 62h1v1h-1zM25 63h1v1h-1zM31 63h1v1h-1zM36 63h1v1h-1zM53 63h1v1h-1zM56 63h1v1h-1zM89 63h1v1h-1zM20 64h1v1h-1zM30 64h1v1h-1zM33 64h1v1h-1zM35 64h1v1h-1zM58 64h2v1h-2zM32 65h1v1h-1zM46 65h1v1h-1zM54 65h1v1h-1zM42 66h1v1h-1zM59 66h1v1h-1zM82 66h1v1h-1zM84 66h2v1h-2zM33 67h1v1h-1zM37 67h1v1h-1zM39 67h2v1h-2zM46 67h1v1h-1zM75 67h1v1h-1zM39 68h1v1h-1zM57 68h1v1h-1zM59 68h2v1h-2zM66 68h1v1h-1zM81 68h1v1h-1zM41 69h1v1h-1zM46 69h1v1h-1zM81 69h1v1h-1zM60 70h1v1h-1zM69 70h1v1h-1zM43 71h1v1h-1zM50 71h1v1h-1zM60 71h1v1h-1zM62 71h1v1h-1zM80 71h1v1h-1zM48 72h1v1h-1zM62 72h1v1h-1zM68 72h1v1h-1zM78 72h1v1h-1zM43 73h1v1h-1zM47 73h1v1h-1zM64 73h1v1h-1zM74 73h1v1h-1zM43 74h1v1h-1zM47 74h1v1h-1zM50 75h1v1h-1zM74 75h1v1h-1zM45 76h1v1h-1zM65 76h1v1h-1zM69 76h1v1h-1zM73 76h1v1h-1zM60 77h1v1h-1zM67 77h1v1h-1zM51 78h1v1h-1zM61 78h1v1h-1zM47 79h1v1h-1zM49 79h2v1h-2zM59 79h1v1h-1zM63 79h2v1h-2zM67 79h1v1h-1zM69 79h1v1h-1zM45 80h1v1h-1zM48 80h1v1h-1zM50 80h1v1h-1zM60 80h1v1h-1zM62 80h1v1h-1zM45 81h1v1h-1zM47 81h1v1h-1zM51 81h2v1h-2zM45 82h1v1h-1zM48 82h1v1h-1zM55 82h1v1h-1zM59 82h1v1h-1zM44 83h1v1h-1zM49 83h1v1h-1zM61 83h1v1h-1zM47 84h1v1h-1zM55 84h1v1h-1zM57 84h1v1h-1zM59 86h1v1h-1zM41 99h1v1h-1zM46 109h1v1h-1zM46 114h1v1h-1z"/><path fill="#d20000" d="M32 25h1v1h-1zM41 29h1v1h-1zM40 31h2v1h-2zM40 32h1v1h-1zM43 32h1v1h-1zM41 33h1v1h-1zM44 33h1v1h-1zM43 34h1v1h-1zM47 34h1v1h-1zM45 35h1v1h-1zM47 35h2v1h-2zM119 35h1v1h-1zM41 36h1v1h-1zM46 36h1v1h-1zM49 36h1v1h-1zM49 37h1v1h-1zM51 37h2v1h-2zM50 38h1v1h-1zM111 38h1v1h-1zM117 38h1v1h-1zM53 39h1v1h-1zM56 39h1v1h-1zM50 40h2v1h-2zM53 40h1v1h-1zM56 40h1v1h-1zM108 40h1v1h-1zM110 40h1v1h-1zM118 40h1v1h-1zM54 41h1v1h-1zM88 41h1v1h-1zM107 41h1v1h-1zM112 41h1v1h-1zM114 41h1v1h-1zM118 41h1v1h-1zM56 42h1v1h-1zM59 42h1v1h-1zM63 42h1v1h-1zM65 42h1v1h-1zM106 42h1v1h-1zM109 42h1v1h-1zM117 42h2v1h-2zM54 43h1v1h-1zM58 43h1v1h-1zM64 43h1v1h-1zM70 43h1v1h-1zM87 43h2v1h-2zM51 44h1v1h-1zM62 44h1v1h-1zM72 44h2v1h-2zM117 44h1v1h-1zM121 44h1v1h-1zM62 45h1v1h-1zM70 45h1v1h-1zM72 45h1v1h-1zM75 45h1v1h-1zM99 45h3v1h-3zM104 45h1v1h-1zM49 46h1v1h-1zM52 46h1v1h-1zM64 46h1v1h-1zM66 46h1v1h-1zM73 46h1v1h-1zM77 46h3v1h-3zM100 46h1v1h-1zM61 47h1v1h-1zM67 47h2v1h-2zM74 47h1v1h-1zM77 47h1v1h-1zM89 47h1v1h-1zM95 47h1v1h-1zM65 48h1v1h-1zM68 48h1v1h-1zM77 48h1v1h-1zM90 48h1v1h-1zM76 49h1v1h-1zM78 49h1v1h-1zM95 49h1v1h-1zM82 50h1v1h-1zM93 50h1v1h-1zM88 51h1v1h-1zM53 52h1v1h-1zM88 52h1v1h-1zM21 53h1v1h-1zM19 55h1v1h-1zM26 55h1v1h-1zM43 55h1v1h-1zM76 55h1v1h-1zM36 56h1v1h-1zM38 56h2v1h-2zM45 56h1v1h-1zM73 56h2v1h-2zM101 56h1v1h-1zM10 57h1v1h-1zM16 57h2v1h-2zM42 57h1v1h-1zM53 57h1v1h-1zM73 57h1v1h-1zM76 57h1v1h-1zM20 58h1v1h-1zM43 58h1v1h-1zM49 58h1v1h-1zM53 58h1v1h-1zM100 58h1v1h-1zM12 59h1v1h-1zM14 59h1v1h-1zM16 59h1v1h-1zM35 59h1v1h-1zM47 59h1v1h-1zM53 59h1v1h-1zM81 59h1v1h-1zM100 59h1v1h-1zM14 60h1v1h-1zM21 60h1v1h-1zM47 60h1v1h-1zM57 60h1v1h-1zM82 60h1v1h-1zM10 61h1v1h-1zM13 61h1v1h-1zM43 61h1v1h-1zM49 61h1v1h-1zM44 62h1v1h-1zM46 62h1v1h-1zM59 62h1v1h-1zM66 62h1v1h-1zM18 63h1v1h-1zM42 63h1v1h-1zM61 63h1v1h-1zM70 63h1v1h-1zM104 63h1v1h-1zM64 64h1v1h-1zM72 64h1v1h-1zM11 65h1v1h-1zM65 65h1v1h-1zM76 65h1v1h-1zM11 66h1v1h-1zM49 66h1v1h-1zM62 66h1v1h-1zM64 66h1v1h-1zM71 66h1v1h-1zM12 67h1v1h-1zM18 67h1v1h-1zM48 67h1v1h-1zM66 67h1v1h-1zM68 67h1v1h-1zM13 68h1v1h-1zM71 68h1v1h-1zM79 68h1v1h-1zM53 69h1v1h-1zM79 69h1v1h-1zM54 70h2v1h-2zM65 70h1v1h-1zM51 74h1v1h-1zM56 74h2v1h-2zM48 75h1v1h-1zM55 75h1v1h-1zM62 75h1v1h-1zM50 76h2v1h-2zM57 76h1v1h-1zM55 77h1v1h-1zM62 77h1v1h-1zM55 79h1v1h-1zM57 81h1v1h-1zM41 114h2v1h-2z"/><path fill="#b80000" d="M33 25h1v1h-1zM41 28h1v1h-1zM38 29h1v1h-1zM38 30h1v1h-1zM40 30h1v1h-1zM41 32h1v1h-1zM45 32h1v1h-1zM44 34h2v1h-2zM46 35h1v1h-1zM47 36h1v1h-1zM118 36h1v1h-1zM46 37h1v1h-1zM50 37h1v1h-1zM113 37h1v1h-1zM51 38h2v1h-2zM112 38h1v1h-1zM110 39h1v1h-1zM52 40h1v1h-1zM54 40h1v1h-1zM88 40h1v1h-1zM104 40h1v1h-1zM117 40h1v1h-1zM50 41h1v1h-1zM53 41h1v1h-1zM55 41h1v1h-1zM87 41h1v1h-1zM116 41h2v1h-2zM52 42h1v1h-1zM57 42h1v1h-1zM64 42h1v1h-1zM110 42h1v1h-1zM113 42h1v1h-1zM65 43h1v1h-1zM86 43h1v1h-1zM117 43h1v1h-1zM119 43h1v1h-1zM61 44h1v1h-1zM67 44h1v1h-1zM89 44h1v1h-1zM115 44h2v1h-2zM63 45h1v1h-1zM71 45h1v1h-1zM73 45h2v1h-2zM76 45h1v1h-1zM87 45h1v1h-1zM91 45h1v1h-1zM114 45h2v1h-2zM117 45h1v1h-1zM61 46h1v1h-1zM65 46h1v1h-1zM71 46h2v1h-2zM75 46h1v1h-1zM80 46h1v1h-1zM82 46h1v1h-1zM93 46h2v1h-2zM97 46h1v1h-1zM115 46h1v1h-1zM75 47h1v1h-1zM91 47h1v1h-1zM55 48h1v1h-1zM62 48h1v1h-1zM74 48h2v1h-2zM81 48h3v1h-3zM91 48h1v1h-1zM98 48h1v1h-1zM84 49h1v1h-1zM97 49h2v1h-2zM84 50h2v1h-2zM83 51h1v1h-1zM74 52h1v1h-1zM53 53h1v1h-1zM15 55h1v1h-1zM40 55h1v1h-1zM52 55h1v1h-1zM46 56h1v1h-1zM85 56h1v1h-1zM33 57h1v1h-1zM36 57h1v1h-1zM38 57h4v1h-4zM44 57h1v1h-1zM54 57h1v1h-1zM101 57h1v1h-1zM34 58h1v1h-1zM42 58h1v1h-1zM44 58h1v1h-1zM47 58h1v1h-1zM101 58h1v1h-1zM17 59h1v1h-1zM19 59h1v1h-1zM32 59h1v1h-1zM36 59h1v1h-1zM42 59h1v1h-1zM46 59h1v1h-1zM42 60h1v1h-1zM104 60h1v1h-1zM44 61h1v1h-1zM61 61h1v1h-1zM106 61h1v1h-1zM37 62h1v1h-1zM48 62h1v1h-1zM10 64h1v1h-1zM13 64h1v1h-1zM65 64h1v1h-1zM68 64h1v1h-1zM74 64h1v1h-1zM74 65h1v1h-1zM15 66h1v1h-1zM36 66h1v1h-1zM72 66h1v1h-1zM53 67h1v1h-1zM65 67h1v1h-1zM72 67h1v1h-1zM78 67h1v1h-1zM17 68h1v1h-1zM63 68h1v1h-1zM17 69h1v1h-1zM50 69h1v1h-1zM76 69h1v1h-1zM48 70h1v1h-1zM78 70h1v1h-1zM56 73h1v1h-1zM57 75h1v1h-1zM55 76h1v1h-1zM54 77h1v1h-1zM54 80h1v1h-1z"/><path fill="#ea0000" d="M32 26h1v1h-1zM37 30h1v1h-1zM39 30h1v1h-1zM38 31h2v1h-2zM42 31h1v1h-1zM39 32h1v1h-1zM43 33h1v1h-1zM46 33h1v1h-1zM42 34h1v1h-1zM49 35h1v1h-1zM116 35h1v1h-1zM118 35h1v1h-1zM48 36h1v1h-1zM111 36h1v1h-1zM39 37h1v1h-1zM48 37h1v1h-1zM115 37h1v1h-1zM47 38h1v1h-1zM56 38h1v1h-1zM108 38h1v1h-1zM114 38h1v1h-1zM51 39h2v1h-2zM108 39h2v1h-2zM111 39h2v1h-2zM114 39h1v1h-1zM120 39h1v1h-1zM47 40h1v1h-1zM55 40h1v1h-1zM107 40h1v1h-1zM112 40h1v1h-1zM115 40h1v1h-1zM49 41h1v1h-1zM56 41h2v1h-2zM62 41h2v1h-2zM89 41h1v1h-1zM100 41h2v1h-2zM113 41h1v1h-1zM115 41h1v1h-1zM54 42h1v1h-1zM62 42h1v1h-1zM86 42h2v1h-2zM50 43h1v1h-1zM62 43h1v1h-1zM72 43h1v1h-1zM89 43h1v1h-1zM104 43h1v1h-1zM109 43h1v1h-1zM113 43h1v1h-1zM115 43h1v1h-1zM49 44h1v1h-1zM56 44h1v1h-1zM118 44h1v1h-1zM64 45h1v1h-1zM111 45h1v1h-1zM101 46h1v1h-1zM52 47h1v1h-1zM72 47h1v1h-1zM81 47h1v1h-1zM92 47h2v1h-2zM99 47h1v1h-1zM54 48h1v1h-1zM78 48h1v1h-1zM80 48h1v1h-1zM97 48h1v1h-1zM99 48h1v1h-1zM101 48h1v1h-1zM50 49h1v1h-1zM66 49h1v1h-1zM74 49h1v1h-1zM77 49h1v1h-1zM81 49h2v1h-2zM96 49h1v1h-1zM70 50h1v1h-1zM75 50h1v1h-1zM80 50h1v1h-1zM83 50h1v1h-1zM94 50h1v1h-1zM50 51h1v1h-1zM54 51h1v1h-1zM74 51h2v1h-2zM81 51h1v1h-1zM84 51h1v1h-1zM93 51h1v1h-1zM95 51h1v1h-1zM99 51h1v1h-1zM54 52h1v1h-1zM65 52h1v1h-1zM72 52h1v1h-1zM75 52h2v1h-2zM98 52h1v1h-1zM50 53h1v1h-1zM73 53h2v1h-2zM18 54h1v1h-1zM47 54h1v1h-1zM72 54h1v1h-1zM74 54h1v1h-1zM36 55h2v1h-2zM39 55h1v1h-1zM41 55h1v1h-1zM51 55h1v1h-1zM55 55h1v1h-1zM14 56h1v1h-1zM16 56h1v1h-1zM20 56h1v1h-1zM35 56h1v1h-1zM37 56h1v1h-1zM53 56h1v1h-1zM57 56h1v1h-1zM77 56h1v1h-1zM11 57h1v1h-1zM56 57h1v1h-1zM63 57h1v1h-1zM75 57h1v1h-1zM13 58h1v1h-1zM21 58h1v1h-1zM33 58h1v1h-1zM37 58h1v1h-1zM41 58h1v1h-1zM13 59h1v1h-1zM18 59h1v1h-1zM33 59h1v1h-1zM48 59h1v1h-1zM56 59h1v1h-1zM101 59h1v1h-1zM12 60h1v1h-1zM18 60h1v1h-1zM37 60h1v1h-1zM39 60h1v1h-1zM41 60h1v1h-1zM59 60h1v1h-1zM62 60h1v1h-1zM99 60h1v1h-1zM101 60h1v1h-1zM103 60h1v1h-1zM22 61h1v1h-1zM38 61h1v1h-1zM40 61h1v1h-1zM46 61h1v1h-1zM51 61h1v1h-1zM56 61h1v1h-1zM62 61h1v1h-1zM70 61h1v1h-1zM104 61h1v1h-1zM18 62h1v1h-1zM33 62h1v1h-1zM39 62h1v1h-1zM42 62h1v1h-1zM47 62h1v1h-1zM51 62h1v1h-1zM61 62h1v1h-1zM68 62h1v1h-1zM9 63h1v1h-1zM35 63h1v1h-1zM40 63h1v1h-1zM62 63h1v1h-1zM66 63h1v1h-1zM72 63h1v1h-1zM75 63h1v1h-1zM32 64h1v1h-1zM48 64h1v1h-1zM66 64h2v1h-2zM70 64h1v1h-1zM13 65h1v1h-1zM15 65h1v1h-1zM69 65h1v1h-1zM71 65h2v1h-2zM75 65h1v1h-1zM89 65h1v1h-1zM13 66h1v1h-1zM20 66h1v1h-1zM51 66h1v1h-1zM77 66h1v1h-1zM14 67h1v1h-1zM50 67h1v1h-1zM70 67h1v1h-1zM24 68h1v1h-1zM64 68h1v1h-1zM72 68h1v1h-1zM52 69h1v1h-1zM62 69h2v1h-2zM73 69h1v1h-1zM78 69h1v1h-1zM54 71h1v1h-1zM53 72h1v1h-1zM63 73h1v1h-1zM66 74h1v1h-1zM73 74h1v1h-1zM73 75h1v1h-1zM58 76h1v1h-1zM49 77h1v1h-1zM65 77h1v1h-1zM68 77h1v1h-1zM52 78h1v1h-1zM55 78h1v1h-1zM54 79h1v1h-1zM55 80h1v1h-1zM40 115h1v1h-1zM41 118h2v1h-2z"/><path fill="#ff1e00" d="M41 26h2v1h-2zM35 27h1v1h-1zM38 28h1v1h-1zM43 28h1v1h-1zM35 29h1v1h-1zM40 29h1v1h-1zM43 30h1v1h-1zM36 32h2v1h-2zM40 34h2v1h-2zM38 35h1v1h-1zM40 35h1v1h-1zM50 35h1v1h-1zM44 36h2v1h-2zM50 36h1v1h-1zM117 36h1v1h-1zM116 37h2v1h-2zM46 38h1v1h-1zM54 38h1v1h-1zM110 38h1v1h-1zM113 38h1v1h-1zM118 38h1v1h-1zM47 39h1v1h-1zM58 39h1v1h-1zM118 39h2v1h-2zM59 40h1v1h-1zM111 40h1v1h-1zM45 41h1v1h-1zM51 41h1v1h-1zM59 41h1v1h-1zM103 41h1v1h-1zM121 41h1v1h-1zM123 41h1v1h-1zM48 42h2v1h-2zM61 42h1v1h-1zM104 42h1v1h-1zM49 43h1v1h-1zM106 43h1v1h-1zM50 44h1v1h-1zM53 44h1v1h-1zM107 44h2v1h-2zM52 45h1v1h-1zM90 45h1v1h-1zM92 45h1v1h-1zM51 46h1v1h-1zM91 46h1v1h-1zM113 46h1v1h-1zM56 47h1v1h-1zM70 47h1v1h-1zM73 47h1v1h-1zM79 47h1v1h-1zM94 47h1v1h-1zM100 47h1v1h-1zM113 47h1v1h-1zM51 48h1v1h-1zM56 48h1v1h-1zM71 48h1v1h-1zM73 48h1v1h-1zM100 48h1v1h-1zM49 49h1v1h-1zM48 50h1v1h-1zM65 50h2v1h-2zM68 50h1v1h-1zM78 50h1v1h-1zM98 50h2v1h-2zM46 51h1v1h-1zM49 51h1v1h-1zM55 51h1v1h-1zM73 51h1v1h-1zM82 51h1v1h-1zM89 51h1v1h-1zM98 51h1v1h-1zM47 52h1v1h-1zM84 52h1v1h-1zM87 52h1v1h-1zM95 52h2v1h-2zM24 53h1v1h-1zM84 53h1v1h-1zM27 54h1v1h-1zM38 54h1v1h-1zM40 54h1v1h-1zM54 54h1v1h-1zM58 54h1v1h-1zM21 55h1v1h-1zM23 55h1v1h-1zM42 55h1v1h-1zM53 55h1v1h-1zM31 56h1v1h-1zM41 56h1v1h-1zM49 56h1v1h-1zM51 56h1v1h-1zM72 56h1v1h-1zM76 56h1v1h-1zM100 56h1v1h-1zM31 57h2v1h-2zM100 57h1v1h-1zM14 58h1v1h-1zM16 58h1v1h-1zM22 58h1v1h-1zM31 58h1v1h-1zM40 58h1v1h-1zM48 58h1v1h-1zM56 58h1v1h-1zM58 58h1v1h-1zM74 58h1v1h-1zM76 58h1v1h-1zM82 58h1v1h-1zM102 58h1v1h-1zM11 59h1v1h-1zM20 59h1v1h-1zM38 59h1v1h-1zM50 59h1v1h-1zM54 59h1v1h-1zM80 59h1v1h-1zM103 59h1v1h-1zM38 60h1v1h-1zM52 60h1v1h-1zM61 60h1v1h-1zM64 60h1v1h-1zM70 60h1v1h-1zM20 61h1v1h-1zM32 61h1v1h-1zM47 61h2v1h-2zM54 61h1v1h-1zM58 61h1v1h-1zM60 61h1v1h-1zM71 61h2v1h-2zM36 62h1v1h-1zM38 62h1v1h-1zM62 62h1v1h-1zM67 62h1v1h-1zM69 62h2v1h-2zM28 63h1v1h-1zM33 63h1v1h-1zM55 63h1v1h-1zM65 63h1v1h-1zM68 63h1v1h-1zM73 63h1v1h-1zM88 63h1v1h-1zM19 64h1v1h-1zM23 64h1v1h-1zM28 64h1v1h-1zM42 64h1v1h-1zM51 64h3v1h-3zM55 64h1v1h-1zM57 64h1v1h-1zM75 64h1v1h-1zM77 64h2v1h-2zM104 64h2v1h-2zM10 65h1v1h-1zM19 65h2v1h-2zM25 65h1v1h-1zM37 65h1v1h-1zM40 65h1v1h-1zM56 65h1v1h-1zM62 65h1v1h-1zM66 65h2v1h-2zM17 66h1v1h-1zM23 66h1v1h-1zM38 66h1v1h-1zM55 66h1v1h-1zM66 66h2v1h-2zM73 66h1v1h-1zM75 66h1v1h-1zM78 66h1v1h-1zM80 66h1v1h-1zM28 67h1v1h-1zM69 67h1v1h-1zM71 67h1v1h-1zM73 67h1v1h-1zM80 67h3v1h-3zM15 68h1v1h-1zM21 68h1v1h-1zM31 68h1v1h-1zM48 68h1v1h-1zM61 68h1v1h-1zM65 68h1v1h-1zM75 68h1v1h-1zM61 69h1v1h-1zM65 69h1v1h-1zM70 69h1v1h-1zM80 69h1v1h-1zM50 70h1v1h-1zM67 70h1v1h-1zM46 71h1v1h-1zM49 71h1v1h-1zM51 71h1v1h-1zM58 71h1v1h-1zM63 71h1v1h-1zM72 71h1v1h-1zM58 72h1v1h-1zM73 72h3v1h-3zM49 73h1v1h-1zM58 73h1v1h-1zM61 73h1v1h-1zM49 74h1v1h-1zM58 74h1v1h-1zM61 74h1v1h-1zM63 74h1v1h-1zM74 74h1v1h-1zM51 75h1v1h-1zM68 75h1v1h-1zM59 76h1v1h-1zM62 76h1v1h-1zM63 77h2v1h-2zM71 77h1v1h-1zM68 78h1v1h-1zM53 80h1v1h-1zM59 80h1v1h-1zM61 80h1v1h-1zM55 81h1v1h-1zM41 112h1v1h-1zM39 115h1v1h-1z"/><path fill="#ff0300" d="M34 27h1v1h-1zM42 27h1v1h-1zM34 28h3v1h-3zM40 28h1v1h-1zM37 29h1v1h-1zM42 29h1v1h-1zM35 30h1v1h-1zM41 30h1v1h-1zM37 31h1v1h-1zM44 32h1v1h-1zM42 33h1v1h-1zM45 33h1v1h-1zM46 34h1v1h-1zM48 34h1v1h-1zM44 35h1v1h-1zM115 36h1v1h-1zM53 37h1v1h-1zM114 37h1v1h-1zM49 38h1v1h-1zM55 38h1v1h-1zM57 38h1v1h-1zM48 39h1v1h-1zM54 39h2v1h-2zM57 39h1v1h-1zM106 39h1v1h-1zM113 39h1v1h-1zM48 40h1v1h-1zM57 40h1v1h-1zM113 40h1v1h-1zM119 40h1v1h-1zM109 41h1v1h-1zM119 41h1v1h-1zM50 42h1v1h-1zM55 42h1v1h-1zM89 42h1v1h-1zM103 42h1v1h-1zM114 42h1v1h-1zM120 42h1v1h-1zM53 43h1v1h-1zM55 43h1v1h-1zM57 43h1v1h-1zM63 43h1v1h-1zM60 44h1v1h-1zM88 44h1v1h-1zM102 44h1v1h-1zM104 44h1v1h-1zM122 44h1v1h-1zM49 45h1v1h-1zM88 45h1v1h-1zM112 45h1v1h-1zM57 46h1v1h-1zM59 46h1v1h-1zM70 46h1v1h-1zM106 46h1v1h-1zM54 47h1v1h-1zM71 47h1v1h-1zM80 47h1v1h-1zM53 48h1v1h-1zM63 48h1v1h-1zM66 48h1v1h-1zM93 48h1v1h-1zM96 48h1v1h-1zM102 48h1v1h-1zM44 49h1v1h-1zM54 49h1v1h-1zM65 49h1v1h-1zM72 49h1v1h-1zM79 49h1v1h-1zM92 49h1v1h-1zM50 50h1v1h-1zM53 50h1v1h-1zM79 50h1v1h-1zM81 50h1v1h-1zM86 50h1v1h-1zM97 50h1v1h-1zM48 51h1v1h-1zM94 51h1v1h-1zM83 52h1v1h-1zM86 52h1v1h-1zM89 52h1v1h-1zM44 53h1v1h-1zM51 53h2v1h-2zM87 53h1v1h-1zM21 54h1v1h-1zM28 54h1v1h-1zM39 54h1v1h-1zM55 54h2v1h-2zM48 55h2v1h-2zM54 55h1v1h-1zM73 55h1v1h-1zM77 55h1v1h-1zM79 55h1v1h-1zM15 56h1v1h-1zM23 56h1v1h-1zM26 56h1v1h-1zM42 56h1v1h-1zM52 56h1v1h-1zM54 56h1v1h-1zM46 57h1v1h-1zM50 57h1v1h-1zM74 57h1v1h-1zM78 57h1v1h-1zM10 58h1v1h-1zM17 58h1v1h-1zM35 58h1v1h-1zM54 58h1v1h-1zM57 58h1v1h-1zM73 58h1v1h-1zM77 58h2v1h-2zM10 59h1v1h-1zM39 59h1v1h-1zM57 59h1v1h-1zM70 59h1v1h-1zM73 59h1v1h-1zM17 60h1v1h-1zM33 60h1v1h-1zM36 60h1v1h-1zM40 60h1v1h-1zM48 60h1v1h-1zM56 60h1v1h-1zM58 60h1v1h-1zM60 60h1v1h-1zM71 60h1v1h-1zM16 61h3v1h-3zM24 61h1v1h-1zM35 61h1v1h-1zM37 61h1v1h-1zM39 61h1v1h-1zM68 61h2v1h-2zM100 61h1v1h-1zM53 62h1v1h-1zM55 62h2v1h-2zM24 63h1v1h-1zM26 63h1v1h-1zM37 63h1v1h-1zM45 63h1v1h-1zM48 63h1v1h-1zM63 63h1v1h-1zM67 63h1v1h-1zM16 64h2v1h-2zM21 64h1v1h-1zM37 64h2v1h-2zM40 64h1v1h-1zM50 64h1v1h-1zM56 64h1v1h-1zM89 64h1v1h-1zM12 65h1v1h-1zM16 65h1v1h-1zM21 65h1v1h-1zM33 65h1v1h-1zM35 65h1v1h-1zM49 65h2v1h-2zM78 65h1v1h-1zM88 65h1v1h-1zM12 66h1v1h-1zM18 66h1v1h-1zM31 66h1v1h-1zM63 66h1v1h-1zM65 66h1v1h-1zM88 66h3v1h-3zM36 67h1v1h-1zM67 67h1v1h-1zM76 67h2v1h-2zM79 67h1v1h-1zM14 68h1v1h-1zM47 68h1v1h-1zM67 68h1v1h-1zM70 68h1v1h-1zM78 68h1v1h-1zM16 69h1v1h-1zM19 69h1v1h-1zM51 69h1v1h-1zM54 69h1v1h-1zM64 69h1v1h-1zM75 69h1v1h-1zM77 69h1v1h-1zM18 70h1v1h-1zM56 70h1v1h-1zM77 70h1v1h-1zM47 71h1v1h-1zM57 71h1v1h-1zM59 71h1v1h-1zM76 71h1v1h-1zM47 72h1v1h-1zM54 72h1v1h-1zM59 72h1v1h-1zM66 72h1v1h-1zM53 74h1v1h-1zM58 75h1v1h-1zM61 75h1v1h-1zM47 76h1v1h-1zM63 76h1v1h-1zM71 76h1v1h-1zM56 77h1v1h-1zM69 77h1v1h-1zM53 78h1v1h-1zM65 78h1v1h-1zM58 79h1v1h-1zM70 79h1v1h-1zM52 80h1v1h-1zM53 81h1v1h-1zM54 82h1v1h-1zM41 115h1v1h-1z"/><path fill="#9e0000" d="M41 35h1v1h-1zM113 36h1v1h-1zM112 37h1v1h-1zM107 38h1v1h-1zM107 39h1v1h-1zM120 40h1v1h-1zM86 41h1v1h-1zM102 41h1v1h-1zM53 42h1v1h-1zM111 42h1v1h-1zM115 42h1v1h-1zM71 43h1v1h-1zM114 43h1v1h-1zM64 44h1v1h-1zM66 44h1v1h-1zM68 44h2v1h-2zM111 44h1v1h-1zM68 45h2v1h-2zM89 45h1v1h-1zM95 45h1v1h-1zM74 46h1v1h-1zM89 46h1v1h-1zM98 46h2v1h-2zM63 47h2v1h-2zM66 47h1v1h-1zM76 47h1v1h-1zM78 47h1v1h-1zM82 47h1v1h-1zM88 47h1v1h-1zM98 47h1v1h-1zM69 48h1v1h-1zM85 48h1v1h-1zM87 48h1v1h-1zM52 49h1v1h-1zM85 49h1v1h-1zM73 50h1v1h-1zM76 51h1v1h-1zM19 54h1v1h-1zM75 54h1v1h-1zM17 55h1v1h-1zM20 55h1v1h-1zM45 55h1v1h-1zM17 56h1v1h-1zM19 56h1v1h-1zM15 57h1v1h-1zM18 57h1v1h-1zM52 57h1v1h-1zM11 58h1v1h-1zM18 58h2v1h-2zM38 58h2v1h-2zM75 58h1v1h-1zM37 59h1v1h-1zM40 59h1v1h-1zM44 60h1v1h-1zM41 61h1v1h-1zM38 63h1v1h-1zM36 64h1v1h-1zM41 64h1v1h-1zM76 64h1v1h-1zM90 64h1v1h-1zM64 65h1v1h-1zM86 65h1v1h-1zM14 66h1v1h-1zM16 66h1v1h-1zM69 66h1v1h-1zM64 67h1v1h-1zM18 68h1v1h-1zM52 68h1v1h-1zM25 70h1v1h-1zM55 71h1v1h-1zM26 72h1v1h-1zM56 72h1v1h-1zM24 73h1v1h-1zM54 73h1v1h-1zM25 74h3v1h-3zM25 75h1v1h-1zM52 75h2v1h-2zM26 76h3v1h-3zM52 76h1v1h-1zM61 76h1v1h-1zM26 77h3v1h-3zM53 77h1v1h-1zM27 78h2v1h-2zM56 78h1v1h-1zM28 79h1v1h-1zM26 80h1v1h-1zM29 80h1v1h-1zM28 81h2v1h-2zM26 82h5v1h-5zM27 84h3v1h-3zM28 85h2v1h-2zM27 86h1v1h-1zM29 86h1v1h-1zM29 87h1v1h-1zM28 88h1v1h-1zM30 88h1v1h-1zM30 89h1v1h-1zM32 89h1v1h-1zM29 91h1v1h-1zM31 91h2v1h-2zM31 92h3v1h-3zM30 93h1v1h-1zM32 93h2v1h-2zM32 94h1v1h-1zM31 96h3v1h-3zM32 97h4v1h-4zM32 98h4v1h-4zM32 99h1v1h-1zM34 99h2v1h-2zM32 100h3v1h-3zM36 101h2v1h-2zM33 102h2v1h-2zM36 102h1v1h-1zM34 103h2v1h-2zM37 103h1v1h-1zM34 104h2v1h-2zM36 105h1v1h-1zM35 106h1v1h-1zM39 106h1v1h-1zM36 107h3v1h-3zM40 108h1v1h-1zM38 109h3v1h-3zM38 111h1v1h-1zM41 111h1v1h-1zM39 112h1v1h-1zM39 113h1v1h-1zM40 114h1v1h-1z"/><path fill="#840000" d="M112 35h1v1h-1zM110 36h1v1h-1zM112 36h1v1h-1zM110 37h1v1h-1zM109 38h1v1h-1zM117 39h1v1h-1zM109 40h1v1h-1zM52 41h1v1h-1zM120 41h1v1h-1zM51 42h1v1h-1zM112 42h1v1h-1zM119 42h1v1h-1zM51 43h2v1h-2zM66 43h4v1h-4zM112 43h1v1h-1zM116 43h1v1h-1zM118 43h1v1h-1zM52 44h1v1h-1zM63 44h1v1h-1zM65 44h1v1h-1zM70 44h2v1h-2zM86 44h2v1h-2zM112 44h3v1h-3zM65 45h3v1h-3zM86 45h1v1h-1zM94 45h1v1h-1zM96 45h3v1h-3zM113 45h1v1h-1zM116 45h1v1h-1zM62 46h2v1h-2zM67 46h3v1h-3zM76 46h1v1h-1zM86 46h3v1h-3zM90 46h1v1h-1zM92 46h1v1h-1zM95 46h2v1h-2zM62 47h1v1h-1zM65 47h1v1h-1zM69 47h1v1h-1zM83 47h5v1h-5zM90 47h1v1h-1zM96 47h2v1h-2zM84 48h1v1h-1zM86 48h1v1h-1zM89 48h1v1h-1zM92 48h1v1h-1zM75 49h1v1h-1zM83 49h1v1h-1zM86 49h2v1h-2zM94 49h1v1h-1zM87 50h1v1h-1zM75 53h1v1h-1zM18 55h1v1h-1zM75 55h1v1h-1zM40 56h1v1h-1zM44 56h1v1h-1zM14 57h1v1h-1zM19 57h1v1h-1zM34 57h2v1h-2zM37 57h1v1h-1zM43 57h1v1h-1zM45 57h1v1h-1zM12 58h1v1h-1zM15 58h1v1h-1zM36 58h1v1h-1zM45 58h2v1h-2zM34 59h1v1h-1zM43 59h3v1h-3zM10 60h1v1h-1zM43 60h1v1h-1zM45 60h2v1h-2zM42 61h1v1h-1zM45 61h1v1h-1zM40 62h2v1h-2zM43 62h1v1h-1zM58 62h1v1h-1zM76 62h1v1h-1zM39 64h1v1h-1zM68 65h1v1h-1zM70 66h1v1h-1zM13 67h1v1h-1zM15 67h1v1h-1zM17 67h1v1h-1zM16 68h1v1h-1zM19 68h1v1h-1zM68 68h1v1h-1zM15 69h1v1h-1zM18 69h1v1h-1zM48 69h1v1h-1zM17 70h1v1h-1zM26 70h1v1h-1zM53 70h1v1h-1zM25 71h2v1h-2zM52 71h2v1h-2zM56 71h1v1h-1zM25 72h1v1h-1zM55 72h1v1h-1zM57 72h1v1h-1zM25 73h3v1h-3zM52 73h2v1h-2zM57 73h1v1h-1zM24 74h1v1h-1zM52 74h1v1h-1zM54 74h2v1h-2zM26 75h3v1h-3zM49 75h1v1h-1zM54 75h1v1h-1zM56 75h1v1h-1zM25 76h1v1h-1zM53 76h2v1h-2zM56 76h1v1h-1zM25 77h1v1h-1zM29 77h1v1h-1zM52 77h1v1h-1zM25 78h2v1h-2zM25 79h3v1h-3zM29 79h1v1h-1zM53 79h1v1h-1zM25 80h1v1h-1zM27 80h2v1h-2zM26 81h2v1h-2zM30 81h1v1h-1zM26 83h4v1h-4zM30 84h2v1h-2zM27 85h1v1h-1zM30 85h1v1h-1zM28 86h1v1h-1zM30 86h1v1h-1zM27 87h2v1h-2zM30 87h1v1h-1zM27 88h1v1h-1zM29 88h1v1h-1zM31 88h1v1h-1zM28 89h2v1h-2zM31 89h1v1h-1zM28 90h4v1h-4zM30 91h1v1h-1zM29 92h2v1h-2zM31 93h1v1h-1zM31 94h1v1h-1zM33 94h2v1h-2zM31 95h4v1h-4zM34 96h1v1h-1zM36 97h1v1h-1zM33 99h1v1h-1zM35 100h1v1h-1zM33 101h3v1h-3zM35 102h1v1h-1zM36 103h1v1h-1zM36 104h2v1h-2zM34 105h2v1h-2zM37 105h1v1h-1zM36 106h3v1h-3zM39 107h1v1h-1zM37 108h3v1h-3zM37 109h1v1h-1zM37 110h5v1h-5zM39 111h2v1h-2zM38 112h1v1h-1zM38 113h1v1h-1zM39 114h1v1h-1z"/><path fill="#0038ff" d="M39 84h1v1h-1z"/></g><path d="M70.8 0V684.9M172.4 0V684.9M274.0 0V684.9M375.6 0V684.9M477.2 0V684.9M578.8 0V684.9M0 609.0H680.5M0 502.1H680.5M0 395.2H680.5M0 288.2H680.5M0 181.2H680.5M0 74.3H680.5" stroke="#000" stroke-opacity=".115" stroke-width="1.4" fill="none"/><path d="M70.8 0v7.5M70.8 684.9v-7.5M172.4 0v7.5M172.4 684.9v-7.5M274.0 0v7.5M274.0 684.9v-7.5M375.6 0v7.5M375.6 684.9v-7.5M477.2 0v7.5M477.2 684.9v-7.5M578.8 0v7.5M578.8 684.9v-7.5M680.4 0v7.5M680.4 684.9v-7.5M0 609.0h7.5M680.5 609.0h-7.5M0 502.1h7.5M680.5 502.1h-7.5M0 395.2h7.5M680.5 395.2h-7.5M0 288.2h7.5M680.5 288.2h-7.5M0 181.2h7.5M680.5 181.2h-7.5M0 74.3h7.5M680.5 74.3h-7.5" stroke="#303030" stroke-width="1.6" fill="none"/><rect x="0" y="0" width="680.5" height="684.9" fill="none" stroke="#303030" stroke-width="1.8"/><text class="t" x="71.8" y="723.0" text-anchor="middle">70E</text><text class="t" x="173.4" y="723.0" text-anchor="middle">75E</text><text class="t" x="275.0" y="723.0" text-anchor="middle">80E</text><text class="t" x="376.6" y="723.0" text-anchor="middle">85E</text><text class="t" x="478.2" y="723.0" text-anchor="middle">90E</text><text class="t" x="579.8" y="723.0" text-anchor="middle">95E</text><text class="t" x="681.4" y="723.0" text-anchor="middle">100E</text><text class="t" x="-10.7" y="618.9" text-anchor="end">10N</text><text class="t" x="-10.7" y="512.0" text-anchor="end">15N</text><text class="t" x="-10.7" y="405.0" text-anchor="end">20N</text><text class="t" x="-10.7" y="298.1" text-anchor="end">25N</text><text class="t" x="-10.7" y="191.1" text-anchor="end">30N</text><text class="t" x="-10.7" y="84.2" text-anchor="end">35N</text><g stroke="#000" fill="none"><circle cx="526.7" cy="132.0" r="31.2" stroke-width="2.7"/><path d="M526.7 100.8V163.2" stroke-width="3"/><path d="M525.5 102.4L496.1 130.4M527.9 102.4L557.3 129.4" stroke-width="3.4"/></g><text x="526.7" y="96.0" text-anchor="middle" style="font:bold 16.5px 'Liberation Sans',sans-serif">N</text></g><rect x="1891.2" y="23.6" width="58.6" height="686.0" fill="url(#jet)" stroke="#303030" stroke-width="1.3"/><path d="M1949.8 595.3h-7.5M1949.8 480.9h-7.5M1949.8 366.6h-7.5M1949.8 252.3h-7.5M1949.8 137.9h-7.5" stroke="#303030" stroke-width="1.5" fill="none"/><text class="t" font-size="26.8" x="1961.1" y="719.5">0</text><text class="t" font-size="26.8" x="1961.1" y="605.1">10</text><text class="t" font-size="26.8" x="1961.1" y="490.8">20</text><text class="t" font-size="26.8" x="1961.1" y="376.5">30</text><text class="t" font-size="26.8" x="1961.1" y="262.1">40</text><text class="t" font-size="26.8" x="1961.1" y="147.8">50</text><text class="t" font-size="26.8" x="1961.1" y="33.5">60</text><text x="1555.0" y="839.3" text-anchor="middle" style="font:bold 38.5px 'Liberation Serif',serif">(b)</text><g transform="translate(82.5 915.9)" font-size="25.0"><g transform="translate(-0.32 -0.17) scale(5.08000 5.34750)" shape-rendering="crispEdges" stroke="none"><path fill="#001eff" d="M32 4h4v1h-4zM31 5h4v1h-4zM30 6h2v1h-2zM28 7h1v1h-1zM50 9h5v1h-5zM45 10h2v1h-2zM50 10h6v1h-6zM45 11h3v1h-3zM49 11h7v1h-7zM45 12h10v1h-10zM29 13h1v1h-1zM47 13h8v1h-8zM27 14h7v1h-7zM52 14h3v1h-3zM30 15h5v1h-5zM52 15h2v1h-2zM32 16h3v1h-3zM52 16h1v1h-1zM32 17h4v1h-4zM32 18h4v1h-4zM32 19h5v1h-5zM50 19h2v1h-2zM32 20h6v1h-6zM50 20h2v1h-2zM32 21h9v1h-9zM45 21h8v1h-8zM32 22h3v1h-3zM36 22h6v1h-6zM44 22h9v1h-9zM33 23h2v1h-2zM36 23h15v1h-15zM33 24h1v1h-1zM35 24h14v1h-14zM33 25h14v1h-14zM49 25h1v1h-1zM32 26h4v1h-4zM37 26h2v1h-2zM41 26h6v1h-6zM32 27h3v1h-3zM36 27h12v1h-12zM50 27h1v1h-1zM32 28h2v1h-2zM38 28h11v1h-11zM50 28h3v1h-3zM35 29h1v1h-1zM38 29h11v1h-11zM53 29h2v1h-2zM30 30h1v1h-1zM37 30h2v1h-2zM40 30h1v1h-1zM42 30h7v1h-7zM55 30h1v1h-1zM29 31h1v1h-1zM42 31h2v1h-2zM45 31h4v1h-4zM55 31h3v1h-3zM28 32h3v1h-3zM45 32h1v1h-1zM47 32h1v1h-1zM55 32h4v1h-4zM29 33h1v1h-1zM44 33h1v1h-1zM46 33h2v1h-2zM56 33h1v1h-1zM44 34h3v1h-3zM49 34h1v1h-1zM31 35h1v1h-1zM44 35h1v1h-1zM31 36h1v1h-1zM36 36h1v1h-1zM45 36h1v1h-1zM45 37h2v1h-2zM23 38h1v1h-1zM25 38h1v1h-1zM27 38h2v1h-2zM42 38h1v1h-1zM45 38h1v1h-1zM48 38h1v1h-1zM48 39h1v1h-1zM59 39h1v1h-1zM23 40h1v1h-1zM32 40h2v1h-2zM37 40h1v1h-1zM42 40h1v1h-1zM21 41h1v1h-1zM37 41h2v1h-2zM45 41h1v1h-1zM62 41h1v1h-1zM23 42h1v1h-1zM30 42h1v1h-1zM32 42h1v1h-1zM36 42h2v1h-2zM53 42h1v1h-1zM63 42h1v1h-1zM65 42h1v1h-1zM23 43h1v1h-1zM28 43h2v1h-2zM31 43h7v1h-7zM39 43h1v1h-1zM41 43h1v1h-1zM44 43h1v1h-1zM47 43h1v1h-1zM54 43h1v1h-1zM63 43h3v1h-3zM67 43h5v1h-5zM28 44h1v1h-1zM30 44h5v1h-5zM38 44h1v1h-1zM40 44h1v1h-1zM46 44h1v1h-1zM51 44h2v1h-2zM56 44h1v1h-1zM62 44h1v1h-1zM64 44h3v1h-3zM68 44h3v1h-3zM72 44h2v1h-2zM35 45h4v1h-4zM40 45h3v1h-3zM44 45h1v1h-1zM47 45h1v1h-1zM51 45h1v1h-1zM53 45h3v1h-3zM57 45h1v1h-1zM63 45h1v1h-1zM65 45h4v1h-4zM70 45h7v1h-7zM36 46h2v1h-2zM43 46h1v1h-1zM45 46h1v1h-1zM52 46h1v1h-1zM54 46h1v1h-1zM56 46h1v1h-1zM62 46h3v1h-3zM66 46h3v1h-3zM70 46h1v1h-1zM73 46h3v1h-3zM77 46h1v1h-1zM52 47h1v1h-1zM55 47h2v1h-2zM58 47h2v1h-2zM62 47h12v1h-12zM91 47h1v1h-1zM52 48h1v1h-1zM54 48h1v1h-1zM59 48h6v1h-6zM67 48h2v1h-2zM71 48h1v1h-1zM86 48h1v1h-1zM106 48h2v1h-2zM52 49h4v1h-4zM57 49h2v1h-2zM60 49h3v1h-3zM69 49h2v1h-2zM72 49h1v1h-1zM83 49h1v1h-1zM85 49h2v1h-2zM105 49h2v1h-2zM109 49h2v1h-2zM51 50h1v1h-1zM53 50h2v1h-2zM57 50h1v1h-1zM60 50h1v1h-1zM63 50h1v1h-1zM70 50h1v1h-1zM73 50h1v1h-1zM81 50h1v1h-1zM83 50h1v1h-1zM86 50h1v1h-1zM106 50h1v1h-1zM111 50h2v1h-2zM50 51h1v1h-1zM53 51h1v1h-1zM56 51h1v1h-1zM68 51h1v1h-1zM81 51h8v1h-8zM105 51h3v1h-3zM109 51h1v1h-1zM112 51h1v1h-1zM43 52h1v1h-1zM51 52h2v1h-2zM62 52h2v1h-2zM70 52h2v1h-2zM78 52h2v1h-2zM81 52h5v1h-5zM87 52h2v1h-2zM108 52h1v1h-1zM110 52h2v1h-2zM113 52h1v1h-1zM42 53h3v1h-3zM49 53h1v1h-1zM52 53h1v1h-1zM66 53h1v1h-1zM79 53h1v1h-1zM81 53h2v1h-2zM84 53h3v1h-3zM111 53h1v1h-1zM42 54h1v1h-1zM50 54h3v1h-3zM55 54h1v1h-1zM60 54h1v1h-1zM64 54h3v1h-3zM68 54h1v1h-1zM71 54h1v1h-1zM78 54h1v1h-1zM80 54h2v1h-2zM83 54h4v1h-4zM112 54h1v1h-1zM65 55h2v1h-2zM68 55h1v1h-1zM72 55h1v1h-1zM74 55h1v1h-1zM78 55h11v1h-11zM44 56h1v1h-1zM51 56h1v1h-1zM54 56h1v1h-1zM57 56h1v1h-1zM65 56h1v1h-1zM67 56h1v1h-1zM75 56h12v1h-12zM52 57h1v1h-1zM58 57h1v1h-1zM61 57h1v1h-1zM65 57h1v1h-1zM69 57h1v1h-1zM72 57h1v1h-1zM76 57h9v1h-9zM57 58h1v1h-1zM60 58h1v1h-1zM62 58h2v1h-2zM65 58h2v1h-2zM76 58h10v1h-10zM88 58h1v1h-1zM52 59h1v1h-1zM55 59h1v1h-1zM58 59h3v1h-3zM63 59h1v1h-1zM65 59h3v1h-3zM77 59h7v1h-7zM54 60h3v1h-3zM59 60h1v1h-1zM61 60h1v1h-1zM64 60h3v1h-3zM77 60h1v1h-1zM79 60h3v1h-3zM83 60h1v1h-1zM87 60h1v1h-1zM89 60h1v1h-1zM53 61h1v1h-1zM56 61h1v1h-1zM60 61h6v1h-6zM67 61h1v1h-1zM77 61h2v1h-2zM82 61h2v1h-2zM57 62h4v1h-4zM62 62h7v1h-7zM78 62h2v1h-2zM81 62h2v1h-2zM84 62h1v1h-1zM44 63h2v1h-2zM47 63h1v1h-1zM52 63h1v1h-1zM56 63h2v1h-2zM59 63h3v1h-3zM64 63h2v1h-2zM77 63h3v1h-3zM84 63h1v1h-1zM86 63h1v1h-1zM89 63h1v1h-1zM46 64h2v1h-2zM52 64h2v1h-2zM59 64h2v1h-2zM62 64h4v1h-4zM78 64h2v1h-2zM84 64h1v1h-1zM86 64h2v1h-2zM45 65h1v1h-1zM52 65h1v1h-1zM60 65h3v1h-3zM64 65h1v1h-1zM67 65h1v1h-1zM77 65h3v1h-3zM87 65h1v1h-1zM45 66h2v1h-2zM51 66h2v1h-2zM56 66h2v1h-2zM59 66h1v1h-1zM61 66h2v1h-2zM64 66h4v1h-4zM79 66h1v1h-1zM86 66h4v1h-4zM44 67h1v1h-1zM49 67h5v1h-5zM56 67h1v1h-1zM59 67h6v1h-6zM66 67h1v1h-1zM78 67h3v1h-3zM44 68h1v1h-1zM46 68h3v1h-3zM50 68h1v1h-1zM52 68h2v1h-2zM55 68h1v1h-1zM58 68h9v1h-9zM69 68h2v1h-2zM79 68h2v1h-2zM47 69h2v1h-2zM51 69h2v1h-2zM54 69h1v1h-1zM60 69h5v1h-5zM70 69h1v1h-1zM79 69h2v1h-2zM47 70h5v1h-5zM58 70h3v1h-3zM62 70h4v1h-4zM68 70h1v1h-1zM70 70h1v1h-1zM80 70h2v1h-2zM48 71h1v1h-1zM50 71h3v1h-3zM61 71h5v1h-5zM67 71h5v1h-5zM73 71h1v1h-1zM80 71h2v1h-2zM49 72h1v1h-1zM52 72h1v1h-1zM59 72h2v1h-2zM62 72h2v1h-2zM65 72h3v1h-3zM69 72h2v1h-2zM72 72h1v1h-1zM48 73h2v1h-2zM58 73h2v1h-2zM61 73h7v1h-7zM71 73h3v1h-3zM46 74h3v1h-3zM50 74h1v1h-1zM57 74h1v1h-1zM60 74h1v1h-1zM62 74h8v1h-8zM71 74h2v1h-2zM38 75h2v1h-2zM45 75h1v1h-1zM48 75h3v1h-3zM54 75h1v1h-1zM57 75h1v1h-1zM61 75h11v1h-11zM35 76h3v1h-3zM39 76h5v1h-5zM45 76h11v1h-11zM60 76h4v1h-4zM65 76h3v1h-3zM73 76h1v1h-1zM35 77h9v1h-9zM46 77h2v1h-2zM49 77h6v1h-6zM61 77h2v1h-2zM65 77h2v1h-2zM69 77h3v1h-3zM36 78h3v1h-3zM40 78h3v1h-3zM46 78h2v1h-2zM50 78h3v1h-3zM54 78h2v1h-2zM61 78h2v1h-2zM64 78h2v1h-2zM67 78h4v1h-4zM36 79h1v1h-1zM38 79h3v1h-3zM42 79h3v1h-3zM46 79h1v1h-1zM49 79h4v1h-4zM54 79h1v1h-1zM58 79h1v1h-1zM63 79h8v1h-8zM33 80h4v1h-4zM38 80h1v1h-1zM40 80h2v1h-2zM43 80h4v1h-4zM50 80h1v1h-1zM52 80h2v1h-2zM55 80h1v1h-1zM67 80h1v1h-1zM69 80h1v1h-1zM32 81h3v1h-3zM36 81h2v1h-2zM39 81h8v1h-8zM50 81h2v1h-2zM55 81h1v1h-1zM63 81h1v1h-1zM66 81h1v1h-1zM30 82h6v1h-6zM37 82h3v1h-3zM42 82h1v1h-1zM44 82h1v1h-1zM46 82h1v1h-1zM48 82h2v1h-2zM51 82h1v1h-1zM54 82h1v1h-1zM64 82h2v1h-2zM67 82h1v1h-1zM29 83h5v1h-5zM35 83h1v1h-1zM40 83h1v1h-1zM42 83h5v1h-5zM48 83h5v1h-5zM55 83h1v1h-1zM30 84h5v1h-5zM39 84h1v1h-1zM41 84h4v1h-4zM46 84h4v1h-4zM51 84h1v1h-1zM59 84h1v1h-1zM31 85h2v1h-2zM38 85h1v1h-1zM41 85h8v1h-8zM50 85h1v1h-1zM56 85h1v1h-1zM28 86h7v1h-7zM38 86h2v1h-2zM42 86h2v1h-2zM45 86h3v1h-3zM51 86h1v1h-1zM55 86h1v1h-1zM57 86h1v1h-1zM59 86h1v1h-1zM28 87h1v1h-1zM30 87h1v1h-1zM32 87h1v1h-1zM38 87h2v1h-2zM42 87h1v1h-1zM44 87h5v1h-5zM54 87h7v1h-7zM62 87h1v1h-1zM32 88h3v1h-3zM38 88h5v1h-5zM44 88h6v1h-6zM54 88h1v1h-1zM56 88h1v1h-1zM58 88h1v1h-1zM31 89h3v1h-3zM37 89h2v1h-2zM40 89h4v1h-4zM47 89h2v1h-2zM54 89h1v1h-1zM56 89h1v1h-1zM58 89h1v1h-1zM28 90h2v1h-2zM31 90h2v1h-2zM36 90h1v1h-1zM38 90h8v1h-8zM51 90h1v1h-1zM54 90h2v1h-2zM57 90h1v1h-1zM29 91h3v1h-3zM34 91h2v1h-2zM38 91h2v1h-2zM42 91h5v1h-5zM54 91h1v1h-1zM29 92h1v1h-1zM31 92h2v1h-2zM35 92h1v1h-1zM45 92h3v1h-3zM54 92h1v1h-1zM32 93h1v1h-1zM34 93h1v1h-1zM42 93h4v1h-4zM31 94h1v1h-1zM33 94h4v1h-4zM41 94h1v1h-1zM44 94h2v1h-2zM54 94h1v1h-1zM31 95h7v1h-7zM43 95h4v1h-4zM48 95h1v1h-1zM50 95h1v1h-1zM52 95h3v1h-3zM31 96h7v1h-7zM39 96h1v1h-1zM41 96h1v1h-1zM43 96h4v1h-4zM48 96h5v1h-5zM54 96h1v1h-1zM34 97h1v1h-1zM36 97h3v1h-3zM40 97h1v1h-1zM42 97h13v1h-13zM36 98h7v1h-7zM44 98h11v1h-11zM33 99h1v1h-1zM36 99h2v1h-2zM39 99h6v1h-6zM46 99h3v1h-3zM51 99h2v1h-2zM36 100h9v1h-9zM46 100h3v1h-3zM54 100h1v1h-1zM33 101h3v1h-3zM37 101h7v1h-7zM54 101h1v1h-1zM34 102h3v1h-3zM38 102h1v1h-1zM40 102h8v1h-8zM49 102h2v1h-2zM34 103h2v1h-2zM37 103h2v1h-2zM43 103h5v1h-5zM50 103h2v1h-2zM34 104h4v1h-4zM39 104h7v1h-7zM50 104h1v1h-1zM34 105h1v1h-1zM37 105h1v1h-1zM39 105h5v1h-5zM46 105h2v1h-2zM50 105h2v1h-2zM36 106h5v1h-5zM42 106h2v1h-2zM51 106h3v1h-3zM37 107h2v1h-2zM40 107h1v1h-1zM43 107h1v1h-1zM52 107h1v1h-1zM37 108h2v1h-2zM52 108h1v1h-1zM37 109h2v1h-2zM53 109h1v1h-1zM37 110h2v1h-2zM42 110h1v1h-1zM38 112h1v1h-1zM41 112h1v1h-1zM40 113h1v1h-1zM42 114h1v1h-1zM39 115h2v1h-2zM40 116h1v1h-1zM42 116h1v1h-1zM40 117h2v1h-2zM40 118h2v1h-2zM41 119h2v1h-2zM42 120h1v1h-1zM44 120h1v1h-1z"/><path fill="#0000ba" d="M28 5h1v1h-1z"/><path fill="#0000ea" d="M29 5h1v1h-1zM28 6h1v1h-1zM32 31h1v1h-1zM34 31h3v1h-3zM33 32h3v1h-3zM32 33h6v1h-6zM32 34h1v1h-1zM34 34h1v1h-1zM36 34h2v1h-2zM33 35h1v1h-1zM36 35h1v1h-1zM38 35h1v1h-1zM37 36h1v1h-1zM53 36h2v1h-2zM38 37h1v1h-1zM54 37h1v1h-1zM53 38h1v1h-1zM24 39h1v1h-1zM37 39h1v1h-1zM51 39h1v1h-1zM55 39h1v1h-1zM58 42h1v1h-1zM87 42h2v1h-2zM58 43h1v1h-1zM86 43h1v1h-1zM24 44h1v1h-1zM58 44h2v1h-2zM87 44h1v1h-1zM90 45h1v1h-1zM82 46h1v1h-1zM91 46h1v1h-1zM82 47h1v1h-1zM84 47h1v1h-1zM91 48h1v1h-1zM81 49h1v1h-1zM76 51h1v1h-1zM70 58h1v1h-1zM72 59h1v1h-1zM74 59h1v1h-1zM68 60h1v1h-1zM74 60h2v1h-2zM43 61h1v1h-1zM69 61h1v1h-1zM72 61h2v1h-2zM73 62h1v1h-1zM72 63h2v1h-2zM70 64h2v1h-2zM71 65h1v1h-1zM72 67h1v1h-1zM75 67h1v1h-1zM56 69h1v1h-1zM75 69h2v1h-2zM54 70h1v1h-1zM57 70h1v1h-1zM77 70h1v1h-1zM77 72h1v1h-1zM62 86h1v1h-1z"/><path fill="#0003ff" d="M30 5h1v1h-1zM29 6h1v1h-1zM27 7h1v1h-1zM48 9h2v1h-2zM47 10h3v1h-3zM48 11h1v1h-1zM27 15h3v1h-3zM28 16h4v1h-4zM28 17h4v1h-4zM28 18h4v1h-4zM28 19h4v1h-4zM28 20h4v1h-4zM29 21h3v1h-3zM35 22h1v1h-1zM35 23h1v1h-1zM32 25h1v1h-1zM47 25h2v1h-2zM47 26h3v1h-3zM35 27h1v1h-1zM48 27h2v1h-2zM34 28h4v1h-4zM49 28h1v1h-1zM31 29h4v1h-4zM36 29h2v1h-2zM49 29h4v1h-4zM31 30h4v1h-4zM36 30h1v1h-1zM39 30h1v1h-1zM41 30h1v1h-1zM49 30h6v1h-6zM30 31h2v1h-2zM33 31h1v1h-1zM37 31h5v1h-5zM44 31h1v1h-1zM49 31h6v1h-6zM32 32h1v1h-1zM36 32h8v1h-8zM46 32h1v1h-1zM48 32h7v1h-7zM30 33h2v1h-2zM38 33h6v1h-6zM45 33h1v1h-1zM48 33h8v1h-8zM30 34h2v1h-2zM33 34h1v1h-1zM35 34h1v1h-1zM38 34h6v1h-6zM47 34h2v1h-2zM50 34h6v1h-6zM32 35h1v1h-1zM34 35h2v1h-2zM37 35h1v1h-1zM40 35h4v1h-4zM45 35h11v1h-11zM29 36h2v1h-2zM33 36h3v1h-3zM38 36h7v1h-7zM46 36h7v1h-7zM55 36h1v1h-1zM28 37h10v1h-10zM39 37h6v1h-6zM47 37h4v1h-4zM52 37h2v1h-2zM24 38h1v1h-1zM26 38h1v1h-1zM29 38h13v1h-13zM43 38h2v1h-2zM46 38h2v1h-2zM49 38h4v1h-4zM54 38h4v1h-4zM25 39h12v1h-12zM38 39h2v1h-2zM41 39h1v1h-1zM43 39h5v1h-5zM49 39h2v1h-2zM52 39h3v1h-3zM56 39h3v1h-3zM24 40h8v1h-8zM34 40h3v1h-3zM38 40h1v1h-1zM41 40h1v1h-1zM43 40h18v1h-18zM88 40h2v1h-2zM23 41h14v1h-14zM42 41h3v1h-3zM47 41h3v1h-3zM52 41h2v1h-2zM55 41h1v1h-1zM57 41h5v1h-5zM63 41h1v1h-1zM86 41h4v1h-4zM22 42h1v1h-1zM24 42h6v1h-6zM31 42h1v1h-1zM33 42h3v1h-3zM38 42h1v1h-1zM43 42h3v1h-3zM56 42h2v1h-2zM59 42h4v1h-4zM64 42h1v1h-1zM86 42h1v1h-1zM89 42h1v1h-1zM22 43h1v1h-1zM25 43h3v1h-3zM30 43h1v1h-1zM38 43h1v1h-1zM42 43h2v1h-2zM46 43h1v1h-1zM56 43h2v1h-2zM59 43h4v1h-4zM87 43h3v1h-3zM23 44h1v1h-1zM26 44h2v1h-2zM29 44h1v1h-1zM36 44h1v1h-1zM39 44h1v1h-1zM41 44h4v1h-4zM55 44h1v1h-1zM57 44h1v1h-1zM60 44h2v1h-2zM63 44h1v1h-1zM67 44h1v1h-1zM71 44h1v1h-1zM86 44h1v1h-1zM88 44h2v1h-2zM39 45h1v1h-1zM43 45h1v1h-1zM46 45h1v1h-1zM56 45h1v1h-1zM58 45h5v1h-5zM64 45h1v1h-1zM69 45h1v1h-1zM86 45h4v1h-4zM91 45h1v1h-1zM38 46h5v1h-5zM55 46h1v1h-1zM58 46h4v1h-4zM65 46h1v1h-1zM69 46h1v1h-1zM72 46h1v1h-1zM76 46h1v1h-1zM78 46h3v1h-3zM86 46h5v1h-5zM54 47h1v1h-1zM57 47h1v1h-1zM60 47h2v1h-2zM74 47h8v1h-8zM83 47h1v1h-1zM85 47h6v1h-6zM55 48h4v1h-4zM70 48h1v1h-1zM72 48h14v1h-14zM87 48h1v1h-1zM89 48h2v1h-2zM56 49h1v1h-1zM59 49h1v1h-1zM71 49h1v1h-1zM73 49h8v1h-8zM82 49h1v1h-1zM84 49h1v1h-1zM87 49h1v1h-1zM107 49h2v1h-2zM68 50h1v1h-1zM71 50h2v1h-2zM75 50h2v1h-2zM78 50h3v1h-3zM82 50h1v1h-1zM84 50h2v1h-2zM87 50h1v1h-1zM107 50h4v1h-4zM57 51h1v1h-1zM70 51h2v1h-2zM73 51h3v1h-3zM77 51h4v1h-4zM89 51h1v1h-1zM108 51h1v1h-1zM110 51h2v1h-2zM53 52h1v1h-1zM69 52h1v1h-1zM72 52h6v1h-6zM80 52h1v1h-1zM86 52h1v1h-1zM89 52h1v1h-1zM112 52h1v1h-1zM50 53h2v1h-2zM53 53h1v1h-1zM59 53h1v1h-1zM70 53h7v1h-7zM78 53h1v1h-1zM80 53h1v1h-1zM83 53h1v1h-1zM87 53h1v1h-1zM112 53h1v1h-1zM43 54h1v1h-1zM54 54h1v1h-1zM67 54h1v1h-1zM69 54h2v1h-2zM72 54h6v1h-6zM79 54h1v1h-1zM42 55h1v1h-1zM51 55h2v1h-2zM55 55h2v1h-2zM67 55h1v1h-1zM69 55h3v1h-3zM73 55h1v1h-1zM75 55h3v1h-3zM43 56h1v1h-1zM53 56h1v1h-1zM56 56h1v1h-1zM66 56h1v1h-1zM68 56h7v1h-7zM87 56h2v1h-2zM43 57h2v1h-2zM53 57h3v1h-3zM57 57h1v1h-1zM66 57h3v1h-3zM70 57h2v1h-2zM73 57h3v1h-3zM85 57h4v1h-4zM44 58h1v1h-1zM52 58h1v1h-1zM54 58h3v1h-3zM58 58h1v1h-1zM68 58h2v1h-2zM71 58h5v1h-5zM86 58h2v1h-2zM44 59h3v1h-3zM53 59h2v1h-2zM56 59h2v1h-2zM68 59h4v1h-4zM73 59h1v1h-1zM75 59h2v1h-2zM84 59h6v1h-6zM44 60h3v1h-3zM52 60h1v1h-1zM67 60h1v1h-1zM69 60h5v1h-5zM76 60h1v1h-1zM84 60h3v1h-3zM88 60h1v1h-1zM45 61h2v1h-2zM55 61h1v1h-1zM57 61h2v1h-2zM68 61h1v1h-1zM70 61h2v1h-2zM74 61h3v1h-3zM84 61h6v1h-6zM43 62h4v1h-4zM52 62h3v1h-3zM56 62h1v1h-1zM69 62h4v1h-4zM74 62h1v1h-1zM76 62h2v1h-2zM85 62h6v1h-6zM43 63h1v1h-1zM46 63h1v1h-1zM53 63h1v1h-1zM55 63h1v1h-1zM58 63h1v1h-1zM66 63h6v1h-6zM74 63h1v1h-1zM76 63h1v1h-1zM85 63h1v1h-1zM87 63h2v1h-2zM90 63h1v1h-1zM43 64h3v1h-3zM54 64h5v1h-5zM61 64h1v1h-1zM66 64h4v1h-4zM72 64h6v1h-6zM88 64h3v1h-3zM44 65h1v1h-1zM53 65h7v1h-7zM63 65h1v1h-1zM65 65h2v1h-2zM68 65h3v1h-3zM72 65h5v1h-5zM88 65h1v1h-1zM90 65h1v1h-1zM53 66h3v1h-3zM58 66h1v1h-1zM60 66h1v1h-1zM68 66h11v1h-11zM90 66h1v1h-1zM45 67h1v1h-1zM54 67h2v1h-2zM57 67h2v1h-2zM67 67h5v1h-5zM73 67h2v1h-2zM76 67h2v1h-2zM43 68h1v1h-1zM45 68h1v1h-1zM54 68h1v1h-1zM56 68h2v1h-2zM67 68h2v1h-2zM71 68h4v1h-4zM76 68h3v1h-3zM44 69h3v1h-3zM53 69h1v1h-1zM55 69h1v1h-1zM57 69h3v1h-3zM65 69h5v1h-5zM71 69h4v1h-4zM77 69h2v1h-2zM45 70h2v1h-2zM52 70h2v1h-2zM55 70h2v1h-2zM66 70h2v1h-2zM69 70h1v1h-1zM71 70h6v1h-6zM78 70h2v1h-2zM45 71h3v1h-3zM53 71h8v1h-8zM66 71h1v1h-1zM72 71h1v1h-1zM74 71h6v1h-6zM46 72h2v1h-2zM50 72h2v1h-2zM53 72h6v1h-6zM68 72h1v1h-1zM71 72h1v1h-1zM73 72h2v1h-2zM76 72h1v1h-1zM78 72h3v1h-3zM46 73h2v1h-2zM50 73h8v1h-8zM60 73h1v1h-1zM69 73h1v1h-1zM74 73h6v1h-6zM45 74h1v1h-1zM49 74h1v1h-1zM52 74h1v1h-1zM54 74h3v1h-3zM58 74h2v1h-2zM70 74h1v1h-1zM73 74h4v1h-4zM40 75h5v1h-5zM46 75h2v1h-2zM51 75h3v1h-3zM55 75h2v1h-2zM58 75h3v1h-3zM72 75h3v1h-3zM38 76h1v1h-1zM44 76h1v1h-1zM56 76h4v1h-4zM69 76h2v1h-2zM55 77h4v1h-4zM60 77h1v1h-1zM72 77h1v1h-1zM53 78h1v1h-1zM56 78h2v1h-2zM59 78h2v1h-2zM63 78h1v1h-1zM71 78h1v1h-1zM37 79h1v1h-1zM53 79h1v1h-1zM55 79h3v1h-3zM59 79h4v1h-4zM56 80h11v1h-11zM31 81h1v1h-1zM52 81h3v1h-3zM56 81h2v1h-2zM59 81h4v1h-4zM64 81h2v1h-2zM67 81h2v1h-2zM52 82h2v1h-2zM55 82h6v1h-6zM62 82h2v1h-2zM53 83h2v1h-2zM56 83h10v1h-10zM50 84h1v1h-1zM52 84h7v1h-7zM60 84h5v1h-5zM30 85h1v1h-1zM51 85h5v1h-5zM57 85h7v1h-7zM48 86h3v1h-3zM52 86h3v1h-3zM58 86h1v1h-1zM60 86h2v1h-2zM29 87h1v1h-1zM31 87h1v1h-1zM49 87h1v1h-1zM51 87h3v1h-3zM61 87h1v1h-1zM29 88h3v1h-3zM50 88h4v1h-4zM28 89h3v1h-3zM45 89h2v1h-2zM49 89h5v1h-5zM55 89h1v1h-1zM30 90h1v1h-1zM48 90h3v1h-3zM52 90h2v1h-2zM47 91h3v1h-3zM51 91h3v1h-3zM48 92h5v1h-5zM48 93h7v1h-7zM46 94h8v1h-8zM47 95h1v1h-1zM49 95h1v1h-1zM51 95h1v1h-1zM53 96h1v1h-1zM32 97h2v1h-2zM35 97h1v1h-1zM32 98h4v1h-4zM43 98h1v1h-1zM32 99h1v1h-1zM34 99h2v1h-2zM38 99h1v1h-1zM32 100h4v1h-4zM45 100h1v1h-1zM36 101h1v1h-1zM33 102h1v1h-1zM41 103h2v1h-2z"/><path fill="#0038ff" d="M35 5h2v1h-2zM32 6h6v1h-6zM29 7h3v1h-3zM36 7h4v1h-4zM27 8h2v1h-2zM37 8h5v1h-5zM26 9h1v1h-1zM38 9h5v1h-5zM26 10h1v1h-1zM38 10h6v1h-6zM37 11h8v1h-8zM29 12h3v1h-3zM36 12h9v1h-9zM30 13h17v1h-17zM34 14h7v1h-7zM46 14h6v1h-6zM35 15h5v1h-5zM49 15h3v1h-3zM35 16h4v1h-4zM50 16h2v1h-2zM36 17h3v1h-3zM50 17h1v1h-1zM36 18h3v1h-3zM49 18h2v1h-2zM37 19h4v1h-4zM47 19h3v1h-3zM38 20h12v1h-12zM41 21h4v1h-4zM42 22h2v1h-2zM36 26h1v1h-1zM39 26h2v1h-2zM39 35h1v1h-1zM56 41h1v1h-1zM66 43h1v1h-1zM72 43h1v1h-1zM37 44h1v1h-1zM32 45h3v1h-3zM57 46h1v1h-1zM71 46h1v1h-1zM104 46h1v1h-1zM107 47h1v1h-1zM110 47h1v1h-1zM102 48h4v1h-4zM108 48h2v1h-2zM103 49h2v1h-2zM111 49h1v1h-1zM74 50h1v1h-1zM104 50h2v1h-2zM113 50h1v1h-1zM61 51h1v1h-1zM63 51h1v1h-1zM104 51h1v1h-1zM113 51h1v1h-1zM106 52h2v1h-2zM109 52h1v1h-1zM77 53h1v1h-1zM109 53h2v1h-2zM82 54h1v1h-1zM111 54h1v1h-1zM111 55h1v1h-1zM61 58h1v1h-1zM67 58h1v1h-1zM61 59h1v1h-1zM64 59h1v1h-1zM58 60h1v1h-1zM60 60h1v1h-1zM62 60h1v1h-1zM82 60h1v1h-1zM59 61h1v1h-1zM79 61h3v1h-3zM61 62h1v1h-1zM80 62h1v1h-1zM62 63h2v1h-2zM80 63h4v1h-4zM80 64h4v1h-4zM85 64h1v1h-1zM80 65h7v1h-7zM89 65h1v1h-1zM63 66h1v1h-1zM80 66h6v1h-6zM81 67h1v1h-1zM51 68h1v1h-1zM81 68h1v1h-1zM50 69h1v1h-1zM81 69h1v1h-1zM61 70h1v1h-1zM64 72h1v1h-1zM75 72h1v1h-1zM68 73h1v1h-1zM70 73h1v1h-1zM61 74h1v1h-1zM64 76h1v1h-1zM44 77h2v1h-2zM48 77h1v1h-1zM63 77h2v1h-2zM67 77h2v1h-2zM39 78h1v1h-1zM43 78h1v1h-1zM45 78h1v1h-1zM48 78h2v1h-2zM35 79h1v1h-1zM45 79h1v1h-1zM47 79h2v1h-2zM37 80h1v1h-1zM39 80h1v1h-1zM42 80h1v1h-1zM47 80h1v1h-1zM51 80h1v1h-1zM35 81h1v1h-1zM38 81h1v1h-1zM47 81h3v1h-3zM36 82h1v1h-1zM41 82h1v1h-1zM43 82h1v1h-1zM45 82h1v1h-1zM47 82h1v1h-1zM50 82h1v1h-1zM34 83h1v1h-1zM36 83h4v1h-4zM41 83h1v1h-1zM47 83h1v1h-1zM35 84h4v1h-4zM40 84h1v1h-1zM45 84h1v1h-1zM33 85h5v1h-5zM39 85h2v1h-2zM36 86h2v1h-2zM40 86h2v1h-2zM33 87h5v1h-5zM41 87h1v1h-1zM43 87h1v1h-1zM35 88h3v1h-3zM43 88h1v1h-1zM34 89h1v1h-1zM36 89h1v1h-1zM44 89h1v1h-1zM57 89h1v1h-1zM33 90h3v1h-3zM37 90h1v1h-1zM32 91h2v1h-2zM36 91h2v1h-2zM40 91h2v1h-2zM33 92h2v1h-2zM36 92h9v1h-9zM30 93h2v1h-2zM33 93h1v1h-1zM35 93h7v1h-7zM46 93h1v1h-1zM32 94h1v1h-1zM37 94h4v1h-4zM42 94h2v1h-2zM38 95h5v1h-5zM38 96h1v1h-1zM40 96h1v1h-1zM42 96h1v1h-1zM39 97h1v1h-1zM41 97h1v1h-1zM55 98h1v1h-1zM49 99h2v1h-2zM53 99h3v1h-3zM49 100h5v1h-5zM55 100h1v1h-1zM46 101h1v1h-1zM48 101h3v1h-3zM52 101h2v1h-2zM37 102h1v1h-1zM39 102h1v1h-1zM48 102h1v1h-1zM51 102h4v1h-4zM36 103h1v1h-1zM39 103h2v1h-2zM48 103h2v1h-2zM53 103h2v1h-2zM38 104h1v1h-1zM46 104h2v1h-2zM49 104h1v1h-1zM52 104h2v1h-2zM35 105h2v1h-2zM38 105h1v1h-1zM44 105h2v1h-2zM48 105h2v1h-2zM52 105h2v1h-2zM35 106h1v1h-1zM41 106h1v1h-1zM44 106h7v1h-7zM36 107h1v1h-1zM39 107h1v1h-1zM41 107h2v1h-2zM46 107h6v1h-6zM53 107h1v1h-1zM39 108h5v1h-5zM45 108h1v1h-1zM49 108h3v1h-3zM53 108h1v1h-1zM39 109h4v1h-4zM44 109h1v1h-1zM49 109h4v1h-4zM39 110h3v1h-3zM43 110h1v1h-1zM50 110h4v1h-4zM38 111h4v1h-4zM43 111h2v1h-2zM49 111h1v1h-1zM52 111h2v1h-2zM39 112h2v1h-2zM42 112h2v1h-2zM45 112h1v1h-1zM47 112h1v1h-1zM49 112h3v1h-3zM38 113h2v1h-2zM41 113h4v1h-4zM40 114h1v1h-1zM43 114h2v1h-2zM48 114h1v1h-1zM41 115h3v1h-3zM45 115h1v1h-1zM48 115h2v1h-2zM51 115h1v1h-1zM39 116h1v1h-1zM41 116h1v1h-1zM43 116h3v1h-3zM47 116h1v1h-1zM51 116h1v1h-1zM42 117h4v1h-4zM42 118h5v1h-5zM43 119h3v1h-3zM43 120h1v1h-1zM45 120h1v1h-1z"/><path fill="#0000d2" d="M26 6h2v1h-2z"/><path fill="#808080" d="M24 7h3v1h-3zM24 8h3v1h-3zM24 9h2v1h-2zM27 33h2v1h-2zM26 34h4v1h-4zM26 35h5v1h-5zM25 36h4v1h-4zM119 36h2v1h-2zM23 37h5v1h-5zM120 37h1v1h-1zM22 39h2v1h-2zM21 40h2v1h-2zM39 40h2v1h-2zM14 41h3v1h-3zM18 41h3v1h-3zM22 41h1v1h-1zM39 41h2v1h-2zM46 41h1v1h-1zM50 41h2v1h-2zM54 41h1v1h-1zM14 42h8v1h-8zM39 42h4v1h-4zM46 42h7v1h-7zM54 42h2v1h-2zM12 43h10v1h-10zM45 43h1v1h-1zM48 43h6v1h-6zM55 43h1v1h-1zM12 44h11v1h-11zM45 44h1v1h-1zM47 44h4v1h-4zM53 44h2v1h-2zM12 45h20v1h-20zM45 45h1v1h-1zM48 45h3v1h-3zM52 45h1v1h-1zM12 46h24v1h-24zM44 46h1v1h-1zM46 46h6v1h-6zM53 46h1v1h-1zM14 47h38v1h-38zM53 47h1v1h-1zM14 48h38v1h-38zM65 48h2v1h-2zM14 49h38v1h-38zM63 49h5v1h-5zM15 50h36v1h-36zM52 50h1v1h-1zM55 50h2v1h-2zM58 50h2v1h-2zM61 50h2v1h-2zM64 50h4v1h-4zM69 50h1v1h-1zM16 51h34v1h-34zM52 51h1v1h-1zM54 51h2v1h-2zM58 51h3v1h-3zM62 51h1v1h-1zM64 51h4v1h-4zM69 51h1v1h-1zM17 52h26v1h-26zM44 52h7v1h-7zM54 52h8v1h-8zM64 52h5v1h-5zM17 53h25v1h-25zM45 53h4v1h-4zM54 53h5v1h-5zM60 53h6v1h-6zM67 53h3v1h-3zM18 54h24v1h-24zM44 54h6v1h-6zM53 54h1v1h-1zM56 54h4v1h-4zM61 54h3v1h-3zM9 55h1v1h-1zM11 55h2v1h-2zM14 55h28v1h-28zM43 55h8v1h-8zM53 55h2v1h-2zM57 55h8v1h-8zM9 56h34v1h-34zM45 56h6v1h-6zM52 56h1v1h-1zM55 56h1v1h-1zM58 56h7v1h-7zM6 57h37v1h-37zM45 57h7v1h-7zM56 57h1v1h-1zM59 57h2v1h-2zM62 57h3v1h-3zM99 57h1v1h-1zM6 58h38v1h-38zM46 58h6v1h-6zM53 58h1v1h-1zM59 58h1v1h-1zM64 58h1v1h-1zM98 58h1v1h-1zM7 59h37v1h-37zM47 59h5v1h-5zM8 60h36v1h-36zM47 60h5v1h-5zM53 60h1v1h-1zM10 61h33v1h-33zM44 61h1v1h-1zM47 61h6v1h-6zM54 61h1v1h-1zM13 62h30v1h-30zM47 62h5v1h-5zM106 62h1v1h-1zM9 63h34v1h-34zM48 63h4v1h-4zM54 63h1v1h-1zM106 63h1v1h-1zM9 64h34v1h-34zM48 64h4v1h-4zM106 64h1v1h-1zM10 65h34v1h-34zM46 65h6v1h-6zM106 65h1v1h-1zM11 66h34v1h-34zM47 66h4v1h-4zM12 67h11v1h-11zM24 67h20v1h-20zM46 67h3v1h-3zM13 68h10v1h-10zM24 68h19v1h-19zM49 68h1v1h-1zM14 69h7v1h-7zM25 69h19v1h-19zM49 69h1v1h-1zM17 70h2v1h-2zM25 70h20v1h-20zM25 71h20v1h-20zM25 72h21v1h-21zM24 73h22v1h-22zM24 74h21v1h-21zM25 75h13v1h-13zM25 76h10v1h-10zM25 77h10v1h-10zM25 78h11v1h-11zM25 79h10v1h-10zM25 80h8v1h-8zM26 81h5v1h-5zM26 82h4v1h-4zM26 83h3v1h-3zM27 84h3v1h-3zM27 85h3v1h-3zM27 86h1v1h-1zM27 87h1v1h-1zM27 88h2v1h-2z"/><path fill="#0052ff" d="M32 7h4v1h-4zM29 8h3v1h-3zM35 8h2v1h-2zM27 9h3v1h-3zM36 9h2v1h-2zM27 10h3v1h-3zM36 10h2v1h-2zM28 11h9v1h-9zM32 12h4v1h-4zM41 14h5v1h-5zM40 15h2v1h-2zM46 15h3v1h-3zM39 16h2v1h-2zM48 16h2v1h-2zM39 17h2v1h-2zM48 17h2v1h-2zM39 18h3v1h-3zM46 18h3v1h-3zM41 19h6v1h-6zM44 32h1v1h-1zM109 40h1v1h-1zM41 41h1v1h-1zM104 43h1v1h-1zM35 44h1v1h-1zM92 45h1v1h-1zM102 45h1v1h-1zM104 45h2v1h-2zM102 46h2v1h-2zM105 46h3v1h-3zM110 46h2v1h-2zM102 47h5v1h-5zM108 47h2v1h-2zM53 48h1v1h-1zM110 48h3v1h-3zM102 49h1v1h-1zM112 49h2v1h-2zM77 50h1v1h-1zM102 50h2v1h-2zM114 50h1v1h-1zM72 51h1v1h-1zM102 51h2v1h-2zM103 52h3v1h-3zM105 53h1v1h-1zM107 53h2v1h-2zM109 54h2v1h-2zM110 55h1v1h-1zM111 56h1v1h-1zM110 57h1v1h-1zM45 58h1v1h-1zM75 62h1v1h-1zM75 63h1v1h-1zM82 67h1v1h-1zM49 71h1v1h-1zM51 74h1v1h-1zM53 74h1v1h-1zM72 76h1v1h-1zM61 82h1v1h-1zM35 86h1v1h-1zM63 86h1v1h-1zM35 89h1v1h-1zM50 91h1v1h-1zM30 92h1v1h-1zM47 93h1v1h-1zM47 96h1v1h-1zM44 101h1v1h-1zM48 104h1v1h-1zM44 107h2v1h-2zM44 108h1v1h-1zM46 108h3v1h-3zM43 109h1v1h-1zM45 109h3v1h-3zM45 110h5v1h-5zM46 111h3v1h-3zM50 111h2v1h-2zM44 112h1v1h-1zM46 112h1v1h-1zM48 112h1v1h-1zM45 113h6v1h-6zM45 114h3v1h-3zM49 114h1v1h-1zM44 115h1v1h-1zM46 115h2v1h-2zM50 115h1v1h-1zM46 116h1v1h-1zM48 116h2v1h-2zM46 117h1v1h-1zM46 119h1v1h-1z"/><path fill="#006cff" d="M32 8h3v1h-3zM30 9h6v1h-6zM30 10h6v1h-6zM42 15h4v1h-4zM41 16h7v1h-7zM41 17h7v1h-7zM42 18h4v1h-4zM34 24h1v1h-1zM35 30h1v1h-1zM32 36h1v1h-1zM110 36h4v1h-4zM51 37h1v1h-1zM110 37h4v1h-4zM108 38h4v1h-4zM113 38h1v1h-1zM40 39h1v1h-1zM42 39h1v1h-1zM108 39h1v1h-1zM110 39h3v1h-3zM104 40h1v1h-1zM110 40h2v1h-2zM116 40h1v1h-1zM100 41h2v1h-2zM104 41h1v1h-1zM106 41h1v1h-1zM108 41h2v1h-2zM100 42h8v1h-8zM109 42h3v1h-3zM24 43h1v1h-1zM40 43h1v1h-1zM101 43h3v1h-3zM105 43h1v1h-1zM107 43h1v1h-1zM110 43h3v1h-3zM118 43h1v1h-1zM25 44h1v1h-1zM102 44h4v1h-4zM109 44h1v1h-1zM112 44h1v1h-1zM99 45h1v1h-1zM103 45h1v1h-1zM106 45h3v1h-3zM110 45h1v1h-1zM92 46h1v1h-1zM99 46h3v1h-3zM108 46h2v1h-2zM98 47h4v1h-4zM111 47h2v1h-2zM92 48h1v1h-1zM100 48h2v1h-2zM113 48h2v1h-2zM68 49h1v1h-1zM92 49h1v1h-1zM100 49h2v1h-2zM114 49h1v1h-1zM99 50h3v1h-3zM99 51h3v1h-3zM102 52h1v1h-1zM103 53h2v1h-2zM106 53h1v1h-1zM103 54h1v1h-1zM106 54h3v1h-3zM101 55h2v1h-2zM106 55h1v1h-1zM108 55h2v1h-2zM110 56h1v1h-1zM62 59h1v1h-1zM66 61h1v1h-1zM75 68h1v1h-1zM48 72h1v1h-1zM61 72h1v1h-1zM68 76h1v1h-1zM59 77h1v1h-1zM44 78h1v1h-1zM58 78h1v1h-1zM41 79h1v1h-1zM48 80h2v1h-2zM68 80h1v1h-1zM58 81h1v1h-1zM66 82h1v1h-1zM56 86h1v1h-1zM50 87h1v1h-1zM46 90h1v1h-1zM53 92h1v1h-1zM45 99h1v1h-1zM47 101h1v1h-1zM51 101h1v1h-1zM52 103h1v1h-1zM39 114h1v1h-1z"/><path fill="#0087ff" d="M31 32h1v1h-1zM112 35h1v1h-1zM116 35h3v1h-3zM114 36h1v1h-1zM116 36h2v1h-2zM114 37h4v1h-4zM107 38h1v1h-1zM112 38h1v1h-1zM115 38h4v1h-4zM106 39h2v1h-2zM109 39h1v1h-1zM113 39h5v1h-5zM105 40h4v1h-4zM112 40h4v1h-4zM117 40h2v1h-2zM102 41h2v1h-2zM105 41h1v1h-1zM107 41h1v1h-1zM110 41h9v1h-9zM108 42h1v1h-1zM112 42h4v1h-4zM118 42h1v1h-1zM106 43h1v1h-1zM108 43h2v1h-2zM113 43h3v1h-3zM117 43h1v1h-1zM119 43h1v1h-1zM106 44h3v1h-3zM110 44h2v1h-2zM113 44h2v1h-2zM116 44h3v1h-3zM121 44h2v1h-2zM94 45h2v1h-2zM97 45h2v1h-2zM100 45h2v1h-2zM109 45h1v1h-1zM111 45h3v1h-3zM115 45h1v1h-1zM117 45h1v1h-1zM93 46h1v1h-1zM97 46h2v1h-2zM113 46h1v1h-1zM115 46h1v1h-1zM92 47h2v1h-2zM97 47h1v1h-1zM113 47h2v1h-2zM69 48h1v1h-1zM94 48h1v1h-1zM97 48h3v1h-3zM93 49h1v1h-1zM97 49h3v1h-3zM93 50h1v1h-1zM97 50h2v1h-2zM51 51h1v1h-1zM97 51h2v1h-2zM101 52h1v1h-1zM104 54h2v1h-2zM103 55h3v1h-3zM107 55h1v1h-1zM99 56h3v1h-3zM103 56h1v1h-1zM106 56h4v1h-4zM106 57h1v1h-1zM108 57h2v1h-2zM107 58h1v1h-1zM99 59h2v1h-2zM107 59h1v1h-1zM57 60h1v1h-1zM63 60h1v1h-1zM78 60h1v1h-1zM99 60h1v1h-1zM55 62h1v1h-1zM83 62h1v1h-1zM65 67h1v1h-1zM71 76h1v1h-1zM54 80h1v1h-1zM40 82h1v1h-1zM49 85h1v1h-1zM44 86h1v1h-1zM55 88h1v1h-1zM57 88h1v1h-1zM39 89h1v1h-1zM47 90h1v1h-1zM45 101h1v1h-1zM42 111h1v1h-1zM45 111h1v1h-1z"/><path fill="#00a1ff" d="M119 35h1v1h-1zM115 36h1v1h-1zM118 36h1v1h-1zM118 37h2v1h-2zM114 38h1v1h-1zM119 38h1v1h-1zM118 39h3v1h-3zM119 40h1v1h-1zM119 41h1v1h-1zM116 42h2v1h-2zM119 42h1v1h-1zM116 43h1v1h-1zM120 43h2v1h-2zM115 44h1v1h-1zM96 45h1v1h-1zM114 45h1v1h-1zM116 45h1v1h-1zM94 46h1v1h-1zM96 46h1v1h-1zM112 46h1v1h-1zM114 46h1v1h-1zM94 47h3v1h-3zM93 48h1v1h-1zM96 48h1v1h-1zM94 49h3v1h-3zM94 50h3v1h-3zM93 51h4v1h-4zM95 52h1v1h-1zM99 52h2v1h-2zM102 56h1v1h-1zM104 56h2v1h-2zM100 57h6v1h-6zM107 57h1v1h-1zM99 58h2v1h-2zM102 58h1v1h-1zM104 58h3v1h-3zM101 59h1v1h-1zM105 59h2v1h-2zM100 60h1v1h-1zM105 60h3v1h-3zM100 61h1v1h-1zM105 61h2v1h-2zM104 64h2v1h-2zM66 78h1v1h-1zM40 87h1v1h-1zM51 104h1v1h-1zM48 109h1v1h-1z"/><path fill="#0bf" d="M120 38h1v1h-1zM121 39h1v1h-1zM120 40h1v1h-1zM120 41h1v1h-1zM120 42h1v1h-1zM122 43h1v1h-1zM95 46h1v1h-1zM95 48h1v1h-1zM97 52h2v1h-2zM101 58h1v1h-1zM103 58h1v1h-1zM103 59h2v1h-2zM101 60h1v1h-1zM104 60h1v1h-1zM104 62h1v1h-1zM104 63h1v1h-1zM44 110h1v1h-1zM41 114h1v1h-1z"/><path fill="#00d5ff" d="M122 39h1v1h-1zM123 40h1v1h-1zM121 42h2v1h-2zM96 52h1v1h-1zM103 60h1v1h-1zM104 61h1v1h-1z"/><path fill="#00efff" d="M121 40h2v1h-2zM121 41h3v1h-3z"/><path fill="#f1fd06" d="M105 62h1v1h-1zM105 63h1v1h-1z"/></g><path d="M70.8 0V685.0M172.4 0V685.0M274.0 0V685.0M375.6 0V685.0M477.2 0V685.0M578.8 0V685.0M0 609.5H680.5M0 502.5H680.5M0 395.6H680.5M0 288.6H680.5M0 181.7H680.5M0 74.7H680.5" stroke="#000" stroke-opacity=".115" stroke-width="1.4" fill="none"/><path d="M70.8 0v7.5M70.8 685.0v-7.5M172.4 0v7.5M172.4 685.0v-7.5M274.0 0v7.5M274.0 685.0v-7.5M375.6 0v7.5M375.6 685.0v-7.5M477.2 0v7.5M477.2 685.0v-7.5M578.8 0v7.5M578.8 685.0v-7.5M680.4 0v7.5M680.4 685.0v-7.5M0 609.5h7.5M680.5 609.5h-7.5M0 502.5h7.5M680.5 502.5h-7.5M0 395.6h7.5M680.5 395.6h-7.5M0 288.6h7.5M680.5 288.6h-7.5M0 181.7h7.5M680.5 181.7h-7.5M0 74.7h7.5M680.5 74.7h-7.5" stroke="#303030" stroke-width="1.6" fill="none"/><rect x="0" y="0" width="680.5" height="685.0" fill="none" stroke="#303030" stroke-width="1.8"/><text class="t" x="71.8" y="720.5" text-anchor="middle">70E</text><text class="t" x="173.4" y="720.5" text-anchor="middle">75E</text><text class="t" x="275.0" y="720.5" text-anchor="middle">80E</text><text class="t" x="376.6" y="720.5" text-anchor="middle">85E</text><text class="t" x="478.2" y="720.5" text-anchor="middle">90E</text><text class="t" x="579.8" y="720.5" text-anchor="middle">95E</text><text class="t" x="681.4" y="720.5" text-anchor="middle">100E</text><text class="t" x="-10.0" y="618.7" text-anchor="end">10N</text><text class="t" x="-10.0" y="511.7" text-anchor="end">15N</text><text class="t" x="-10.0" y="404.8" text-anchor="end">20N</text><text class="t" x="-10.0" y="297.8" text-anchor="end">25N</text><text class="t" x="-10.0" y="190.8" text-anchor="end">30N</text><text class="t" x="-10.0" y="83.9" text-anchor="end">35N</text><g stroke="#000" fill="none"><circle cx="525.1" cy="128.1" r="31.2" stroke-width="2.7"/><path d="M525.1 96.9V159.3" stroke-width="3"/><path d="M523.9 98.5L494.5 126.5M526.3 98.5L555.7 125.5" stroke-width="3.4"/></g><text x="525.1" y="92.1" text-anchor="middle" style="font:bold 16.5px 'Liberation Sans',sans-serif">N</text></g><rect x="822.4" y="916.5" width="53.8" height="684.3" fill="url(#jet)" stroke="#303030" stroke-width="1.3"/><path d="M876.2 1486.8h-7.5M876.2 1372.7h-7.5M876.2 1258.7h-7.5M876.2 1144.6h-7.5M876.2 1030.5h-7.5" stroke="#303030" stroke-width="1.5" fill="none"/><text class="t" font-size="25.0" x="886.7" y="1610.0">0</text><text class="t" font-size="25.0" x="886.7" y="1496.0">10</text><text class="t" font-size="25.0" x="886.7" y="1381.9">20</text><text class="t" font-size="25.0" x="886.7" y="1267.9">30</text><text class="t" font-size="25.0" x="886.7" y="1153.8">40</text><text class="t" font-size="25.0" x="886.7" y="1039.8">50</text><text class="t" font-size="25.0" x="886.7" y="925.7">60</text><text x="489.0" y="1730.7" text-anchor="middle" style="font:bold 38.5px 'Liberation Serif',serif">(c)</text><g transform="translate(1148.3 915.9)" font-size="25.0"><g transform="translate(-0.32 -0.17) scale(5.08000 5.34750)" shape-rendering="crispEdges" stroke="none"><path fill="#00f8dc" d="M32 4h2v1h-2zM35 4h1v1h-1zM31 5h3v1h-3zM35 5h1v1h-1zM32 6h1v1h-1zM52 9h1v1h-1zM29 10h1v1h-1zM51 10h2v1h-2zM47 11h1v1h-1zM51 11h3v1h-3zM55 11h1v1h-1zM48 12h7v1h-7zM48 14h1v1h-1zM51 14h1v1h-1zM53 14h1v1h-1zM51 15h1v1h-1zM51 16h2v1h-2zM49 18h1v1h-1zM49 19h2v1h-2zM40 20h1v1h-1zM51 20h1v1h-1zM40 21h4v1h-4zM38 22h1v1h-1zM40 22h4v1h-4zM52 22h1v1h-1zM38 23h3v1h-3zM42 23h1v1h-1zM47 23h1v1h-1zM49 23h1v1h-1zM40 24h2v1h-2zM38 25h1v1h-1zM40 25h3v1h-3zM38 26h2v1h-2zM42 27h1v1h-1zM88 40h2v1h-2zM88 41h1v1h-1zM88 42h2v1h-2zM110 46h1v1h-1zM108 47h2v1h-2zM111 47h1v1h-1zM107 48h1v1h-1zM109 48h1v1h-1zM106 49h1v1h-1zM114 49h1v1h-1zM113 50h1v1h-1zM106 53h1v1h-1zM107 54h1v1h-1zM109 56h1v1h-1zM111 56h1v1h-1zM43 111h1v1h-1zM41 112h1v1h-1zM43 112h1v1h-1z"/><path fill="#00f3c2" d="M34 4h1v1h-1zM34 5h1v1h-1zM33 6h2v1h-2zM50 9h1v1h-1zM49 11h2v1h-2zM54 11h1v1h-1zM47 12h1v1h-1zM47 13h1v1h-1zM52 13h3v1h-3zM47 14h1v1h-1zM54 14h1v1h-1zM48 15h1v1h-1zM52 15h2v1h-2zM49 16h1v1h-1zM40 19h1v1h-1zM39 20h1v1h-1zM41 20h1v1h-1zM50 20h1v1h-1zM38 21h1v1h-1zM45 21h1v1h-1zM51 21h2v1h-2zM39 22h1v1h-1zM46 22h3v1h-3zM41 23h1v1h-1zM50 23h1v1h-1zM38 24h2v1h-2zM86 42h1v1h-1zM88 43h2v1h-2zM109 46h1v1h-1zM107 47h1v1h-1zM110 47h1v1h-1zM113 47h1v1h-1zM105 48h2v1h-2zM114 48h1v1h-1zM105 49h1v1h-1zM105 51h1v1h-1zM106 54h1v1h-1zM107 55h1v1h-1zM109 57h1v1h-1zM37 105h1v1h-1zM41 106h1v1h-1zM43 115h1v1h-1zM43 117h1v1h-1zM45 120h1v1h-1z"/><path fill="#0003ff" d="M28 5h1v1h-1zM28 6h1v1h-1zM28 7h1v1h-1z"/><path fill="#006cff" d="M29 5h1v1h-1zM29 6h1v1h-1zM29 7h1v1h-1zM29 8h1v1h-1zM27 9h1v1h-1zM43 118h1v1h-1z"/><path fill="#00efff" d="M30 5h1v1h-1zM31 6h1v1h-1zM31 7h1v1h-1zM30 9h1v1h-1zM26 10h2v1h-2zM50 14h1v1h-1zM49 15h1v1h-1zM43 23h2v1h-2zM44 24h1v1h-1zM43 25h1v1h-1zM46 25h4v1h-4zM40 26h1v1h-1zM43 26h4v1h-4zM48 26h2v1h-2zM43 27h2v1h-2zM46 27h4v1h-4zM43 28h1v1h-1zM46 28h1v1h-1zM45 29h1v1h-1zM48 30h1v1h-1zM47 31h3v1h-3zM57 31h1v1h-1zM48 32h1v1h-1zM50 32h1v1h-1zM54 32h1v1h-1zM57 32h1v1h-1zM49 33h1v1h-1zM54 33h2v1h-2zM55 34h1v1h-1zM108 48h1v1h-1zM110 48h1v1h-1zM109 49h1v1h-1zM113 49h1v1h-1zM110 50h1v1h-1zM114 50h1v1h-1zM112 51h2v1h-2zM109 52h1v1h-1zM111 52h1v1h-1zM113 52h1v1h-1zM108 53h3v1h-3zM112 53h1v1h-1zM111 54h1v1h-1zM110 55h1v1h-1zM81 62h1v1h-1zM41 110h1v1h-1zM41 113h1v1h-1zM42 116h1v1h-1z"/><path fill="#00efa3" d="M36 5h1v1h-1zM35 6h1v1h-1zM37 6h1v1h-1zM33 7h1v1h-1zM32 8h1v1h-1zM49 9h1v1h-1zM51 9h1v1h-1zM46 10h5v1h-5zM46 11h1v1h-1zM48 11h1v1h-1zM46 12h1v1h-1zM46 13h1v1h-1zM47 15h1v1h-1zM48 16h1v1h-1zM48 17h2v1h-2zM42 18h1v1h-1zM48 18h1v1h-1zM39 19h1v1h-1zM41 19h2v1h-2zM42 20h6v1h-6zM46 21h5v1h-5zM37 22h1v1h-1zM49 22h3v1h-3zM35 24h3v1h-3zM37 25h1v1h-1zM86 41h2v1h-2zM87 42h1v1h-1zM87 44h1v1h-1zM108 45h2v1h-2zM111 45h1v1h-1zM107 46h2v1h-2zM111 46h3v1h-3zM106 47h1v1h-1zM112 47h1v1h-1zM113 48h1v1h-1zM103 49h1v1h-1zM104 50h2v1h-2zM105 52h1v1h-1zM107 57h2v1h-2zM77 67h1v1h-1zM43 113h1v1h-1z"/><path fill="#0000ba" d="M26 6h1v1h-1z"/><path fill="#0000d2" d="M27 6h1v1h-1z"/><path fill="#00d5ff" d="M30 6h1v1h-1zM30 7h1v1h-1zM45 27h1v1h-1zM50 27h1v1h-1zM45 28h1v1h-1zM47 28h2v1h-2zM50 28h1v1h-1zM46 29h6v1h-6zM45 30h3v1h-3zM49 30h3v1h-3zM55 30h1v1h-1zM51 31h1v1h-1zM53 31h2v1h-2zM56 31h1v1h-1zM55 32h2v1h-2zM53 33h1v1h-1zM56 33h1v1h-1zM53 34h2v1h-2zM110 49h3v1h-3zM107 50h3v1h-3zM106 51h2v1h-2zM109 51h3v1h-3zM107 52h2v1h-2zM110 52h1v1h-1zM109 54h1v1h-1zM80 61h1v1h-1zM82 61h1v1h-1zM80 62h1v1h-1zM83 62h1v1h-1zM69 75h1v1h-1zM40 105h1v1h-1zM39 107h1v1h-1zM42 111h1v1h-1zM42 112h1v1h-1zM44 119h1v1h-1z"/><path fill="#00ed7c" d="M36 6h1v1h-1zM34 7h1v1h-1zM36 7h1v1h-1zM38 7h2v1h-2zM33 8h1v1h-1zM31 9h1v1h-1zM48 9h1v1h-1zM42 11h1v1h-1zM44 11h2v1h-2zM44 12h2v1h-2zM45 13h1v1h-1zM46 14h1v1h-1zM47 16h1v1h-1zM41 18h1v1h-1zM43 18h1v1h-1zM38 19h1v1h-1zM43 19h4v1h-4zM38 20h1v1h-1zM49 20h1v1h-1zM37 21h1v1h-1zM37 23h1v1h-1zM88 44h2v1h-2zM108 44h1v1h-1zM106 45h2v1h-2zM110 45h1v1h-1zM113 45h1v1h-1zM106 46h1v1h-1zM104 47h2v1h-2zM114 47h1v1h-1zM103 48h2v1h-2zM104 49h1v1h-1zM107 56h1v1h-1zM110 57h1v1h-1zM41 107h1v1h-1zM41 111h1v1h-1zM42 113h1v1h-1z"/><path fill="#808080" d="M24 7h3v1h-3zM24 8h3v1h-3zM24 9h2v1h-2zM42 17h6v1h-6zM45 18h3v1h-3zM47 19h2v1h-2zM48 20h1v1h-1zM29 21h1v1h-1zM33 24h2v1h-2zM32 25h5v1h-5zM32 26h6v1h-6zM32 27h8v1h-8zM32 28h9v1h-9zM31 29h12v1h-12zM30 30h15v1h-15zM29 31h17v1h-17zM28 32h20v1h-20zM27 33h22v1h-22zM26 34h25v1h-25zM26 35h27v1h-27zM25 36h29v1h-29zM119 36h2v1h-2zM23 37h32v1h-32zM120 37h1v1h-1zM23 38h35v1h-35zM107 38h1v1h-1zM22 39h38v1h-38zM21 40h40v1h-40zM14 41h3v1h-3zM18 41h46v1h-46zM14 42h52v1h-52zM12 43h61v1h-61zM12 44h62v1h-62zM12 45h65v1h-65zM12 46h69v1h-69zM82 46h1v1h-1zM14 47h72v1h-72zM14 48h72v1h-72zM14 49h72v1h-72zM15 50h71v1h-71zM16 51h70v1h-70zM17 52h69v1h-69zM17 53h71v1h-71zM18 54h69v1h-69zM9 55h1v1h-1zM11 55h2v1h-2zM14 55h75v1h-75zM9 56h80v1h-80zM6 57h83v1h-83zM99 57h1v1h-1zM6 58h83v1h-83zM98 58h1v1h-1zM7 59h83v1h-83zM8 60h82v1h-82zM10 61h70v1h-70zM83 61h7v1h-7zM13 62h67v1h-67zM84 62h7v1h-7zM104 62h3v1h-3zM9 63h82v1h-82zM104 63h3v1h-3zM9 64h82v1h-82zM104 64h3v1h-3zM10 65h81v1h-81zM106 65h1v1h-1zM11 66h80v1h-80zM12 67h11v1h-11zM24 67h53v1h-53zM79 67h4v1h-4zM13 68h10v1h-10zM24 68h53v1h-53zM78 68h4v1h-4zM14 69h7v1h-7zM25 69h57v1h-57zM17 70h2v1h-2zM25 70h57v1h-57zM25 71h57v1h-57zM25 72h56v1h-56zM24 73h56v1h-56zM24 74h45v1h-45zM71 74h6v1h-6zM25 75h44v1h-44zM71 75h4v1h-4zM25 76h49v1h-49zM25 77h48v1h-48zM25 78h47v1h-47zM25 79h46v1h-46zM25 80h38v1h-38zM64 80h6v1h-6zM26 81h43v1h-43zM26 82h42v1h-42zM26 83h40v1h-40zM27 84h38v1h-38zM27 85h37v1h-37zM27 86h37v1h-37zM27 87h36v1h-36zM27 88h32v1h-32zM28 89h31v1h-31zM28 90h28v1h-28zM57 90h1v1h-1zM29 91h26v1h-26zM29 92h26v1h-26zM30 93h25v1h-25zM31 94h24v1h-24zM31 95h24v1h-24zM31 96h24v1h-24zM32 97h23v1h-23zM32 98h24v1h-24zM32 99h24v1h-24zM32 100h24v1h-24zM33 101h22v1h-22zM35 102h20v1h-20zM36 103h19v1h-19zM42 104h12v1h-12zM42 105h12v1h-12zM42 106h12v1h-12zM42 107h12v1h-12zM41 108h13v1h-13zM42 109h12v1h-12zM42 110h12v1h-12zM44 111h10v1h-10zM44 112h8v1h-8zM44 113h7v1h-7zM45 114h5v1h-5zM45 115h7v1h-7zM43 116h7v1h-7zM51 116h1v1h-1zM44 117h3v1h-3zM44 118h3v1h-3zM45 119h2v1h-2z"/><path fill="#0000ea" d="M27 7h1v1h-1z"/><path fill="#00fdf5" d="M32 7h1v1h-1zM31 8h1v1h-1zM53 9h2v1h-2zM28 10h1v1h-1zM53 10h3v1h-3zM48 13h4v1h-4zM49 14h1v1h-1zM52 14h1v1h-1zM50 15h1v1h-1zM50 16h1v1h-1zM50 17h1v1h-1zM50 18h1v1h-1zM51 19h1v1h-1zM39 21h1v1h-1zM44 21h1v1h-1zM44 22h2v1h-2zM45 23h2v1h-2zM48 23h1v1h-1zM42 24h2v1h-2zM45 24h4v1h-4zM39 25h1v1h-1zM44 25h2v1h-2zM41 26h2v1h-2zM47 26h1v1h-1zM40 27h2v1h-2zM41 28h2v1h-2zM44 28h1v1h-1zM43 29h2v1h-2zM46 31h1v1h-1zM50 31h1v1h-1zM49 32h1v1h-1zM58 32h1v1h-1zM89 41h1v1h-1zM111 48h2v1h-2zM107 49h2v1h-2zM106 50h1v1h-1zM106 52h1v1h-1zM112 52h1v1h-1zM107 53h1v1h-1zM111 53h1v1h-1zM108 54h1v1h-1zM110 54h1v1h-1zM112 54h1v1h-1zM108 55h2v1h-2zM111 55h1v1h-1zM108 56h1v1h-1zM110 56h1v1h-1zM78 67h1v1h-1zM70 74h1v1h-1zM70 75h1v1h-1zM38 104h1v1h-1zM41 104h1v1h-1zM38 105h1v1h-1zM41 105h1v1h-1zM39 106h2v1h-2zM40 107h1v1h-1zM41 109h1v1h-1z"/><path fill="#31ee5f" d="M35 7h1v1h-1zM37 7h1v1h-1zM34 8h1v1h-1zM38 8h4v1h-4zM41 9h2v1h-2zM30 10h1v1h-1zM42 10h2v1h-2zM45 10h1v1h-1zM41 11h1v1h-1zM43 11h1v1h-1zM42 12h2v1h-2zM42 13h1v1h-1zM45 14h1v1h-1zM45 15h2v1h-2zM45 16h2v1h-2zM40 17h1v1h-1zM38 18h3v1h-3zM35 23h2v1h-2zM86 43h2v1h-2zM106 43h1v1h-1zM109 43h1v1h-1zM107 44h1v1h-1zM109 44h1v1h-1zM111 44h1v1h-1zM88 45h2v1h-2zM112 45h1v1h-1zM114 46h1v1h-1zM104 51h1v1h-1zM89 52h1v1h-1zM104 52h1v1h-1zM105 53h1v1h-1zM106 55h1v1h-1zM107 58h1v1h-1zM34 102h1v1h-1zM38 109h1v1h-1zM37 110h1v1h-1zM41 114h1v1h-1z"/><path fill="#001eff" d="M27 8h1v1h-1z"/><path fill="#0052ff" d="M28 8h1v1h-1zM26 9h1v1h-1zM39 104h2v1h-2z"/><path fill="#0bf" d="M30 8h1v1h-1zM29 9h1v1h-1zM49 28h1v1h-1zM51 28h1v1h-1zM52 29h1v1h-1zM52 30h3v1h-3zM55 31h1v1h-1zM51 32h3v1h-3zM50 33h3v1h-3zM51 34h1v1h-1zM53 35h1v1h-1zM55 35h1v1h-1zM111 50h2v1h-2zM108 51h1v1h-1zM82 62h1v1h-1zM77 68h1v1h-1zM63 80h1v1h-1zM39 105h1v1h-1zM40 110h1v1h-1zM44 115h1v1h-1z"/><path fill="#77f245" d="M35 8h2v1h-2zM32 9h2v1h-2zM37 9h1v1h-1zM40 9h1v1h-1zM35 10h1v1h-1zM40 10h2v1h-2zM35 11h1v1h-1zM40 11h1v1h-1zM34 12h2v1h-2zM41 12h1v1h-1zM34 13h1v1h-1zM41 13h1v1h-1zM43 13h2v1h-2zM33 14h1v1h-1zM42 14h1v1h-1zM44 14h1v1h-1zM31 15h1v1h-1zM43 15h2v1h-2zM41 16h1v1h-1zM43 16h1v1h-1zM37 17h2v1h-2zM41 17h1v1h-1zM37 18h1v1h-1zM37 19h1v1h-1zM37 20h1v1h-1zM105 40h2v1h-2zM106 42h1v1h-1zM107 43h2v1h-2zM113 43h1v1h-1zM106 44h1v1h-1zM110 44h1v1h-1zM112 44h1v1h-1zM86 45h1v1h-1zM90 45h1v1h-1zM115 45h1v1h-1zM88 46h2v1h-2zM104 46h2v1h-2zM103 47h1v1h-1zM103 50h1v1h-1zM106 56h1v1h-1zM106 58h1v1h-1zM38 106h1v1h-1zM39 111h1v1h-1zM40 114h1v1h-1zM44 114h1v1h-1zM42 120h1v1h-1z"/><path fill="#a5f526" d="M37 8h1v1h-1zM34 9h3v1h-3zM38 9h2v1h-2zM31 10h1v1h-1zM36 10h1v1h-1zM38 10h2v1h-2zM28 11h2v1h-2zM34 11h1v1h-1zM36 11h1v1h-1zM36 12h1v1h-1zM39 12h2v1h-2zM32 13h2v1h-2zM35 13h2v1h-2zM39 13h2v1h-2zM32 14h1v1h-1zM34 14h3v1h-3zM39 14h1v1h-1zM41 14h1v1h-1zM30 15h1v1h-1zM32 15h1v1h-1zM34 15h4v1h-4zM41 15h2v1h-2zM34 16h1v1h-1zM37 16h1v1h-1zM42 16h1v1h-1zM44 16h1v1h-1zM36 17h1v1h-1zM39 17h1v1h-1zM36 18h1v1h-1zM44 18h1v1h-1zM28 20h1v1h-1zM36 22h1v1h-1zM34 23h1v1h-1zM106 39h1v1h-1zM107 40h1v1h-1zM108 41h1v1h-1zM107 42h2v1h-2zM112 42h1v1h-1zM114 42h1v1h-1zM105 43h1v1h-1zM110 43h2v1h-2zM114 43h1v1h-1zM86 44h1v1h-1zM104 44h2v1h-2zM113 44h2v1h-2zM87 45h1v1h-1zM105 45h1v1h-1zM114 45h1v1h-1zM116 45h1v1h-1zM87 46h1v1h-1zM115 46h1v1h-1zM102 49h1v1h-1zM103 51h1v1h-1zM105 54h1v1h-1zM106 57h1v1h-1zM35 104h1v1h-1zM37 107h1v1h-1zM42 119h1v1h-1zM43 120h1v1h-1z"/><path fill="#0087ff" d="M28 9h1v1h-1zM81 61h1v1h-1zM69 74h1v1h-1zM42 114h1v1h-1zM42 115h1v1h-1z"/><path fill="#f1fd06" d="M32 10h1v1h-1zM30 11h2v1h-2zM29 12h3v1h-3zM30 13h2v1h-2zM37 13h2v1h-2zM27 14h4v1h-4zM29 15h1v1h-1zM31 17h4v1h-4zM28 18h1v1h-1zM31 18h2v1h-2zM36 19h1v1h-1zM29 20h3v1h-3zM30 21h1v1h-1zM35 22h1v1h-1zM33 23h1v1h-1zM107 39h2v1h-2zM104 40h1v1h-1zM100 41h1v1h-1zM103 41h1v1h-1zM105 41h1v1h-1zM109 41h2v1h-2zM113 41h1v1h-1zM109 42h3v1h-3zM113 42h1v1h-1zM115 42h1v1h-1zM104 43h1v1h-1zM115 43h2v1h-2zM103 44h1v1h-1zM115 44h2v1h-2zM103 46h1v1h-1zM87 47h1v1h-1zM89 47h1v1h-1zM86 49h2v1h-2zM86 51h1v1h-1zM102 51h1v1h-1zM88 52h1v1h-1zM103 52h1v1h-1zM104 53h1v1h-1zM39 112h1v1h-1zM39 114h1v1h-1zM39 116h1v1h-1zM40 118h1v1h-1z"/><path fill="#ccf915" d="M33 10h2v1h-2zM37 10h1v1h-1zM33 11h1v1h-1zM37 11h3v1h-3zM32 12h2v1h-2zM37 12h2v1h-2zM31 14h1v1h-1zM37 14h2v1h-2zM40 14h1v1h-1zM43 14h1v1h-1zM27 15h2v1h-2zM33 15h1v1h-1zM38 15h3v1h-3zM28 16h6v1h-6zM35 16h2v1h-2zM38 16h3v1h-3zM28 17h3v1h-3zM35 17h1v1h-1zM29 18h2v1h-2zM28 19h2v1h-2zM36 21h1v1h-1zM108 40h1v1h-1zM104 41h1v1h-1zM106 41h2v1h-2zM103 42h1v1h-1zM105 42h1v1h-1zM112 43h1v1h-1zM103 45h2v1h-2zM86 46h1v1h-1zM90 46h1v1h-1zM88 47h1v1h-1zM102 47h1v1h-1zM102 48h1v1h-1zM102 50h1v1h-1zM89 51h1v1h-1zM107 59h1v1h-1zM38 111h1v1h-1zM44 120h1v1h-1z"/><path fill="#ffef00" d="M32 11h1v1h-1zM29 13h1v1h-1zM35 18h1v1h-1zM30 19h3v1h-3zM35 19h1v1h-1zM31 21h1v1h-1zM112 37h1v1h-1zM108 38h1v1h-1zM110 38h1v1h-1zM110 39h1v1h-1zM109 40h2v1h-2zM112 40h1v1h-1zM101 41h2v1h-2zM111 41h2v1h-2zM114 41h1v1h-1zM104 42h1v1h-1zM116 42h1v1h-1zM103 43h1v1h-1zM102 44h1v1h-1zM117 44h1v1h-1zM99 45h1v1h-1zM102 45h1v1h-1zM102 46h1v1h-1zM86 47h1v1h-1zM90 47h1v1h-1zM87 48h1v1h-1zM89 48h1v1h-1zM101 49h1v1h-1zM86 50h2v1h-2zM87 51h2v1h-2zM86 52h2v1h-2zM105 55h1v1h-1zM105 57h1v1h-1zM106 59h1v1h-1zM35 106h1v1h-1zM38 110h1v1h-1zM38 113h1v1h-1zM42 118h1v1h-1z"/><path fill="#fb0" d="M33 18h1v1h-1zM33 19h2v1h-2zM32 20h1v1h-1zM35 20h1v1h-1zM32 21h1v1h-1zM35 21h1v1h-1zM32 22h1v1h-1zM110 36h2v1h-2zM113 37h1v1h-1zM109 38h1v1h-1zM113 38h1v1h-1zM101 42h1v1h-1zM117 43h1v1h-1zM97 45h1v1h-1zM101 45h1v1h-1zM98 46h3v1h-3zM92 49h1v1h-1zM93 51h1v1h-1zM36 104h1v1h-1zM36 105h1v1h-1zM38 108h1v1h-1zM37 109h1v1h-1zM38 112h1v1h-1zM39 113h1v1h-1zM39 115h1v1h-1zM41 115h1v1h-1zM41 116h1v1h-1zM40 117h1v1h-1zM41 119h1v1h-1z"/><path fill="#ffd500" d="M34 18h1v1h-1zM36 20h1v1h-1zM34 22h1v1h-1zM112 36h1v1h-1zM111 37h1v1h-1zM111 38h2v1h-2zM109 39h1v1h-1zM111 39h2v1h-2zM111 40h1v1h-1zM115 41h1v1h-1zM100 42h1v1h-1zM102 42h1v1h-1zM101 43h2v1h-2zM91 45h1v1h-1zM98 45h1v1h-1zM100 45h1v1h-1zM117 45h1v1h-1zM101 46h1v1h-1zM101 47h1v1h-1zM86 48h1v1h-1zM101 48h1v1h-1zM102 52h1v1h-1zM105 56h1v1h-1zM105 58h1v1h-1zM107 60h1v1h-1zM35 105h1v1h-1zM36 106h2v1h-2zM37 108h1v1h-1zM39 109h1v1h-1zM39 110h1v1h-1zM40 116h1v1h-1zM42 117h1v1h-1zM43 119h1v1h-1z"/><path fill="#ff8700" d="M33 20h2v1h-2zM113 36h2v1h-2zM114 38h1v1h-1zM114 39h1v1h-1zM116 39h1v1h-1zM117 42h2v1h-2zM92 45h1v1h-1zM97 47h2v1h-2zM96 48h1v1h-1zM99 48h2v1h-2zM97 49h2v1h-2zM100 49h1v1h-1zM94 51h1v1h-1zM101 51h1v1h-1zM95 52h1v1h-1zM104 55h1v1h-1zM104 56h1v1h-1zM105 59h1v1h-1zM33 102h1v1h-1zM34 103h1v1h-1zM34 104h1v1h-1zM34 105h1v1h-1zM36 107h1v1h-1zM40 115h1v1h-1z"/><path fill="#ffa100" d="M33 21h2v1h-2zM33 22h1v1h-1zM112 35h1v1h-1zM110 37h1v1h-1zM114 37h1v1h-1zM113 39h1v1h-1zM113 40h2v1h-2zM116 41h1v1h-1zM118 43h1v1h-1zM118 44h1v1h-1zM96 45h1v1h-1zM91 46h1v1h-1zM96 46h2v1h-2zM91 47h1v1h-1zM99 47h2v1h-2zM90 48h2v1h-2zM93 50h1v1h-1zM95 50h2v1h-2zM101 50h1v1h-1zM95 51h1v1h-1zM103 53h1v1h-1zM104 54h1v1h-1z"/><path fill="#00a1ff" d="M52 28h1v1h-1zM53 29h2v1h-2zM52 31h1v1h-1zM52 34h1v1h-1zM54 35h1v1h-1zM54 36h2v1h-2zM37 104h1v1h-1zM40 108h1v1h-1zM40 109h1v1h-1z"/><path fill="#ff1e00" d="M116 35h2v1h-2zM117 37h1v1h-1zM118 38h1v1h-1zM119 39h2v1h-2zM117 40h2v1h-2zM120 41h1v1h-1zM120 42h2v1h-2zM121 43h2v1h-2zM121 44h1v1h-1zM94 45h1v1h-1zM93 46h2v1h-2zM93 48h1v1h-1zM99 51h2v1h-2zM96 52h1v1h-1zM103 55h1v1h-1zM103 56h1v1h-1zM104 59h1v1h-1z"/><path fill="#ff0300" d="M118 35h1v1h-1zM117 36h2v1h-2zM118 37h1v1h-1zM120 38h1v1h-1zM117 39h2v1h-2zM121 40h1v1h-1zM121 41h3v1h-3zM122 42h1v1h-1zM93 47h1v1h-1zM98 51h1v1h-1zM101 55h2v1h-2zM102 56h1v1h-1zM103 57h1v1h-1zM103 58h1v1h-1z"/><path fill="#d20000" d="M119 35h1v1h-1zM120 40h1v1h-1zM99 56h1v1h-1zM100 57h1v1h-1zM102 57h1v1h-1zM103 60h1v1h-1z"/><path fill="#ff6c00" d="M115 36h1v1h-1zM115 37h1v1h-1zM116 38h1v1h-1zM115 40h2v1h-2zM117 41h2v1h-2zM119 42h1v1h-1zM95 46h1v1h-1zM98 48h1v1h-1zM94 49h3v1h-3zM94 50h1v1h-1zM97 50h2v1h-2zM103 54h1v1h-1zM104 57h1v1h-1zM104 58h1v1h-1zM106 60h1v1h-1zM106 61h1v1h-1zM40 113h1v1h-1z"/><path fill="#ff3800" d="M116 36h1v1h-1zM116 37h1v1h-1zM117 38h1v1h-1zM119 38h1v1h-1zM115 39h1v1h-1zM119 40h1v1h-1zM120 43h1v1h-1zM122 44h1v1h-1zM92 46h1v1h-1zM94 48h1v1h-1zM93 49h1v1h-1zM96 51h2v1h-2zM104 61h2v1h-2zM35 103h1v1h-1zM38 107h1v1h-1zM39 108h1v1h-1zM40 111h1v1h-1zM40 112h1v1h-1zM41 117h1v1h-1z"/><path fill="#ea0000" d="M119 37h1v1h-1zM121 39h2v1h-2zM122 40h2v1h-2zM100 56h2v1h-2zM103 59h1v1h-1zM104 60h1v1h-1zM100 61h1v1h-1z"/><path fill="#ff5200" d="M115 38h1v1h-1zM119 41h1v1h-1zM119 43h1v1h-1zM95 45h1v1h-1zM92 47h1v1h-1zM94 47h3v1h-3zM92 48h1v1h-1zM95 48h1v1h-1zM97 48h1v1h-1zM99 49h1v1h-1zM99 50h2v1h-2zM105 60h1v1h-1zM41 118h1v1h-1z"/><path fill="#840000" d="M97 52h2v1h-2zM100 52h2v1h-2z"/><path fill="#9e0000" d="M99 52h1v1h-1zM101 57h1v1h-1zM99 58h1v1h-1zM102 58h1v1h-1zM100 59h2v1h-2zM99 60h1v1h-1zM101 60h1v1h-1z"/><path fill="#b80000" d="M100 58h2v1h-2zM99 59h1v1h-1zM100 60h1v1h-1z"/><path fill="#0038ff" d="M43 114h1v1h-1z"/></g><path d="M70.8 0V685.0M172.4 0V685.0M274.0 0V685.0M375.6 0V685.0M477.2 0V685.0M578.8 0V685.0M0 609.5H680.5M0 502.5H680.5M0 395.6H680.5M0 288.6H680.5M0 181.7H680.5M0 74.7H680.5" stroke="#000" stroke-opacity=".115" stroke-width="1.4" fill="none"/><path d="M70.8 0v7.5M70.8 685.0v-7.5M172.4 0v7.5M172.4 685.0v-7.5M274.0 0v7.5M274.0 685.0v-7.5M375.6 0v7.5M375.6 685.0v-7.5M477.2 0v7.5M477.2 685.0v-7.5M578.8 0v7.5M578.8 685.0v-7.5M680.4 0v7.5M680.4 685.0v-7.5M0 609.5h7.5M680.5 609.5h-7.5M0 502.5h7.5M680.5 502.5h-7.5M0 395.6h7.5M680.5 395.6h-7.5M0 288.6h7.5M680.5 288.6h-7.5M0 181.7h7.5M680.5 181.7h-7.5M0 74.7h7.5M680.5 74.7h-7.5" stroke="#303030" stroke-width="1.6" fill="none"/><rect x="0" y="0" width="680.5" height="685.0" fill="none" stroke="#303030" stroke-width="1.8"/><text class="t" x="71.8" y="720.5" text-anchor="middle">70E</text><text class="t" x="173.4" y="720.5" text-anchor="middle">75E</text><text class="t" x="275.0" y="720.5" text-anchor="middle">80E</text><text class="t" x="376.6" y="720.5" text-anchor="middle">85E</text><text class="t" x="478.2" y="720.5" text-anchor="middle">90E</text><text class="t" x="579.8" y="720.5" text-anchor="middle">95E</text><text class="t" x="681.4" y="720.5" text-anchor="middle">100E</text><text class="t" x="-10.0" y="618.7" text-anchor="end">10N</text><text class="t" x="-10.0" y="511.7" text-anchor="end">15N</text><text class="t" x="-10.0" y="404.8" text-anchor="end">20N</text><text class="t" x="-10.0" y="297.8" text-anchor="end">25N</text><text class="t" x="-10.0" y="190.8" text-anchor="end">30N</text><text class="t" x="-10.0" y="83.9" text-anchor="end">35N</text><g stroke="#000" fill="none"><circle cx="535.5" cy="128.1" r="31.2" stroke-width="2.7"/><path d="M535.5 96.9V159.3" stroke-width="3"/><path d="M534.3 98.5L504.9 126.5M536.7 98.5L566.1 125.5" stroke-width="3.4"/></g><text x="535.5" y="92.1" text-anchor="middle" style="font:bold 16.5px 'Liberation Sans',sans-serif">N</text></g><rect x="1888.2" y="916.3" width="54.3" height="684.3" fill="url(#jet)" stroke="#303030" stroke-width="1.3"/><path d="M1942.5 1486.5h-7.5M1942.5 1372.5h-7.5M1942.5 1258.4h-7.5M1942.5 1144.4h-7.5M1942.5 1030.3h-7.5" stroke="#303030" stroke-width="1.5" fill="none"/><text class="t" font-size="25.0" x="1953.0" y="1609.8">0</text><text class="t" font-size="25.0" x="1953.0" y="1495.8">10</text><text class="t" font-size="25.0" x="1953.0" y="1381.7">20</text><text class="t" font-size="25.0" x="1953.0" y="1267.6">30</text><text class="t" font-size="25.0" x="1953.0" y="1153.6">40</text><text class="t" font-size="25.0" x="1953.0" y="1039.5">50</text><text class="t" font-size="25.0" x="1953.0" y="925.5">60</text><text x="1555.0" y="1730.7" text-anchor="middle" style="font:bold 38.5px 'Liberation Serif',serif">(d)</text><g transform="translate(82.5 1807.7)" font-size="25.0"><g transform="translate(-0.32 0.93) scale(5.08000 5.34750)" shape-rendering="crispEdges" stroke="none"><path fill="#0003ff" d="M32 4h2v1h-2zM35 4h1v1h-1zM29 5h1v1h-1zM34 5h2v1h-2zM30 6h1v1h-1zM32 6h1v1h-1zM37 6h1v1h-1zM29 7h1v1h-1zM31 7h2v1h-2zM34 7h1v1h-1zM27 8h1v1h-1zM29 8h3v1h-3zM35 8h1v1h-1zM41 8h1v1h-1zM27 9h2v1h-2zM30 9h3v1h-3zM34 9h1v1h-1zM38 9h5v1h-5zM49 9h3v1h-3zM53 9h2v1h-2zM28 10h1v1h-1zM32 10h1v1h-1zM39 10h1v1h-1zM41 10h1v1h-1zM43 10h1v1h-1zM45 10h5v1h-5zM51 10h3v1h-3zM55 10h1v1h-1zM30 11h2v1h-2zM33 11h1v1h-1zM41 11h7v1h-7zM51 11h5v1h-5zM29 12h5v1h-5zM35 12h1v1h-1zM38 12h7v1h-7zM46 12h5v1h-5zM52 12h2v1h-2zM29 13h2v1h-2zM32 13h2v1h-2zM35 13h1v1h-1zM37 13h1v1h-1zM40 13h5v1h-5zM46 13h4v1h-4zM53 13h2v1h-2zM27 14h3v1h-3zM31 14h1v1h-1zM34 14h2v1h-2zM37 14h1v1h-1zM39 14h2v1h-2zM42 14h2v1h-2zM45 14h3v1h-3zM50 14h2v1h-2zM53 14h1v1h-1zM27 15h1v1h-1zM32 15h1v1h-1zM34 15h7v1h-7zM42 15h6v1h-6zM49 15h5v1h-5zM29 16h1v1h-1zM33 16h10v1h-10zM44 16h2v1h-2zM47 16h2v1h-2zM50 16h3v1h-3zM35 17h1v1h-1zM38 17h4v1h-4zM49 17h2v1h-2zM29 18h2v1h-2zM32 18h2v1h-2zM35 18h4v1h-4zM40 18h1v1h-1zM43 18h2v1h-2zM49 18h2v1h-2zM28 19h5v1h-5zM34 19h2v1h-2zM37 19h2v1h-2zM40 19h1v1h-1zM42 19h1v1h-1zM44 19h3v1h-3zM51 19h1v1h-1zM29 20h1v1h-1zM31 20h5v1h-5zM38 20h2v1h-2zM44 20h2v1h-2zM49 20h3v1h-3zM34 21h2v1h-2zM37 21h1v1h-1zM40 21h1v1h-1zM42 21h3v1h-3zM51 21h2v1h-2zM34 22h2v1h-2zM37 22h3v1h-3zM41 22h4v1h-4zM36 23h7v1h-7zM37 24h3v1h-3zM39 25h3v1h-3zM40 26h1v1h-1zM42 26h1v1h-1zM43 27h1v1h-1zM43 28h1v1h-1zM44 29h1v1h-1zM45 30h2v1h-2zM46 31h1v1h-1zM48 31h1v1h-1zM57 31h1v1h-1zM48 32h3v1h-3zM55 32h4v1h-4zM50 33h2v1h-2zM53 33h4v1h-4zM53 34h3v1h-3zM107 38h1v1h-1zM102 41h2v1h-2zM105 41h3v1h-3zM103 42h1v1h-1zM105 42h3v1h-3zM104 43h2v1h-2zM107 43h4v1h-4zM107 44h3v1h-3zM104 45h9v1h-9zM110 46h1v1h-1zM110 47h2v1h-2zM111 48h1v1h-1zM113 48h2v1h-2zM110 49h3v1h-3zM111 50h2v1h-2zM109 51h1v1h-1zM111 51h1v1h-1zM104 52h1v1h-1zM111 52h3v1h-3zM104 53h2v1h-2zM110 53h1v1h-1zM112 53h1v1h-1zM61 55h1v1h-1zM59 60h1v1h-1zM99 60h2v1h-2zM100 61h1v1h-1zM65 65h1v1h-1zM50 66h1v1h-1zM61 66h1v1h-1zM46 69h1v1h-1zM34 70h1v1h-1zM36 72h1v1h-1zM46 72h1v1h-1zM34 74h1v1h-1zM36 74h1v1h-1zM39 74h1v1h-1zM39 75h1v1h-1zM34 76h1v1h-1zM37 76h2v1h-2zM42 76h2v1h-2zM37 77h2v1h-2zM40 77h1v1h-1zM43 77h2v1h-2zM59 77h1v1h-1zM25 78h1v1h-1zM37 78h1v1h-1zM39 78h1v1h-1zM25 79h1v1h-1zM41 79h3v1h-3zM58 79h2v1h-2zM43 80h1v1h-1zM46 81h1v1h-1zM44 82h1v1h-1zM46 83h1v1h-1zM50 84h1v1h-1zM45 86h1v1h-1zM48 86h1v1h-1zM45 87h1v1h-1zM47 87h1v1h-1zM35 89h1v1h-1zM40 91h1v1h-1zM31 92h2v1h-2zM37 92h1v1h-1zM43 92h1v1h-1zM31 93h2v1h-2zM32 94h2v1h-2zM49 96h1v1h-1zM47 98h1v1h-1zM45 102h1v1h-1zM40 107h1v1h-1zM42 109h1v1h-1zM44 109h1v1h-1zM44 111h1v1h-1zM46 111h1v1h-1zM46 112h1v1h-1zM49 113h1v1h-1zM48 114h1v1h-1z"/><path fill="#001eff" d="M34 4h1v1h-1zM30 5h4v1h-4zM36 5h1v1h-1zM31 6h1v1h-1zM33 6h4v1h-4zM30 7h1v1h-1zM33 7h1v1h-1zM35 7h5v1h-5zM28 8h1v1h-1zM32 8h3v1h-3zM36 8h5v1h-5zM26 9h1v1h-1zM29 9h1v1h-1zM33 9h1v1h-1zM36 9h1v1h-1zM26 10h2v1h-2zM29 10h3v1h-3zM33 10h6v1h-6zM40 10h1v1h-1zM42 10h1v1h-1zM28 11h2v1h-2zM32 11h1v1h-1zM34 11h7v1h-7zM48 11h1v1h-1zM34 12h1v1h-1zM36 12h2v1h-2zM45 12h1v1h-1zM51 12h1v1h-1zM54 12h1v1h-1zM34 13h1v1h-1zM36 13h1v1h-1zM38 13h2v1h-2zM45 13h1v1h-1zM50 13h3v1h-3zM36 14h1v1h-1zM38 14h1v1h-1zM44 14h1v1h-1zM52 14h1v1h-1zM54 14h1v1h-1zM49 16h1v1h-1zM48 17h1v1h-1zM39 18h1v1h-1zM42 18h1v1h-1zM39 19h1v1h-1zM41 19h1v1h-1zM43 19h1v1h-1zM28 20h1v1h-1zM30 20h1v1h-1zM40 20h4v1h-4zM30 21h4v1h-4zM39 21h1v1h-1zM41 21h1v1h-1zM32 22h2v1h-2zM40 22h1v1h-1zM34 23h2v1h-2zM35 24h2v1h-2zM37 25h2v1h-2zM38 26h2v1h-2zM40 27h3v1h-3zM41 28h2v1h-2zM43 29h1v1h-1zM49 33h1v1h-1zM51 34h2v1h-2zM53 35h3v1h-3zM112 35h1v1h-1zM118 35h2v1h-2zM110 36h1v1h-1zM116 36h2v1h-2zM115 37h3v1h-3zM109 38h2v1h-2zM107 39h2v1h-2zM111 39h1v1h-1zM113 39h5v1h-5zM88 40h1v1h-1zM104 40h7v1h-7zM113 40h2v1h-2zM86 41h1v1h-1zM88 41h2v1h-2zM100 41h2v1h-2zM104 41h1v1h-1zM108 41h3v1h-3zM113 41h1v1h-1zM87 42h2v1h-2zM100 42h3v1h-3zM104 42h1v1h-1zM108 42h5v1h-5zM86 43h3v1h-3zM101 43h3v1h-3zM111 43h2v1h-2zM88 44h2v1h-2zM102 44h5v1h-5zM110 44h5v1h-5zM88 45h3v1h-3zM100 45h4v1h-4zM113 45h1v1h-1zM87 46h5v1h-5zM102 46h3v1h-3zM107 46h3v1h-3zM112 46h3v1h-3zM102 47h3v1h-3zM107 47h3v1h-3zM112 47h3v1h-3zM89 48h1v1h-1zM102 48h2v1h-2zM105 48h1v1h-1zM107 48h4v1h-4zM112 48h1v1h-1zM69 49h1v1h-1zM76 49h1v1h-1zM86 49h2v1h-2zM106 49h1v1h-1zM109 49h1v1h-1zM113 49h2v1h-2zM68 50h1v1h-1zM70 50h1v1h-1zM85 50h1v1h-1zM96 50h1v1h-1zM103 50h1v1h-1zM107 50h4v1h-4zM113 50h2v1h-2zM82 51h1v1h-1zM94 51h2v1h-2zM102 51h7v1h-7zM110 51h1v1h-1zM112 51h2v1h-2zM68 52h1v1h-1zM71 52h1v1h-1zM96 52h1v1h-1zM103 52h1v1h-1zM105 52h6v1h-6zM69 53h1v1h-1zM103 53h1v1h-1zM106 53h3v1h-3zM111 53h1v1h-1zM66 54h2v1h-2zM69 54h2v1h-2zM103 54h10v1h-10zM65 55h3v1h-3zM103 55h1v1h-1zM105 55h2v1h-2zM109 55h1v1h-1zM61 56h2v1h-2zM65 56h1v1h-1zM67 56h1v1h-1zM69 56h1v1h-1zM99 56h3v1h-3zM104 56h4v1h-4zM111 56h1v1h-1zM66 57h2v1h-2zM100 57h1v1h-1zM104 57h1v1h-1zM106 57h2v1h-2zM109 57h1v1h-1zM59 58h3v1h-3zM64 58h1v1h-1zM67 58h1v1h-1zM70 58h1v1h-1zM105 58h1v1h-1zM107 58h1v1h-1zM58 59h1v1h-1zM60 59h1v1h-1zM63 59h1v1h-1zM68 59h2v1h-2zM99 59h2v1h-2zM107 59h1v1h-1zM48 60h1v1h-1zM52 60h1v1h-1zM67 60h1v1h-1zM107 60h1v1h-1zM57 61h2v1h-2zM60 61h1v1h-1zM62 61h1v1h-1zM64 61h1v1h-1zM49 62h3v1h-3zM57 62h1v1h-1zM63 62h1v1h-1zM65 62h4v1h-4zM50 63h1v1h-1zM55 63h5v1h-5zM61 63h1v1h-1zM64 63h2v1h-2zM67 63h2v1h-2zM70 63h1v1h-1zM59 64h4v1h-4zM66 64h1v1h-1zM105 64h1v1h-1zM49 65h1v1h-1zM54 65h2v1h-2zM58 65h4v1h-4zM63 65h2v1h-2zM66 65h2v1h-2zM70 65h1v1h-1zM37 66h1v1h-1zM47 66h2v1h-2zM51 66h1v1h-1zM53 66h1v1h-1zM59 66h1v1h-1zM37 67h1v1h-1zM45 67h1v1h-1zM47 67h1v1h-1zM51 67h4v1h-4zM57 67h3v1h-3zM64 67h1v1h-1zM68 67h1v1h-1zM49 68h1v1h-1zM51 68h1v1h-1zM54 68h3v1h-3zM58 68h1v1h-1zM61 68h1v1h-1zM67 68h1v1h-1zM31 69h1v1h-1zM47 69h5v1h-5zM56 69h1v1h-1zM58 69h2v1h-2zM62 69h1v1h-1zM29 70h1v1h-1zM33 70h1v1h-1zM46 70h3v1h-3zM52 70h1v1h-1zM54 70h2v1h-2zM61 70h1v1h-1zM32 71h1v1h-1zM35 71h2v1h-2zM45 71h2v1h-2zM48 71h1v1h-1zM58 71h2v1h-2zM30 72h2v1h-2zM37 72h1v1h-1zM40 72h1v1h-1zM44 72h1v1h-1zM55 72h1v1h-1zM65 72h1v1h-1zM75 72h2v1h-2zM31 73h5v1h-5zM37 73h5v1h-5zM43 73h2v1h-2zM48 73h1v1h-1zM58 73h1v1h-1zM62 73h1v1h-1zM24 74h1v1h-1zM32 74h1v1h-1zM35 74h1v1h-1zM37 74h1v1h-1zM40 74h1v1h-1zM42 74h1v1h-1zM44 74h2v1h-2zM48 74h1v1h-1zM52 74h1v1h-1zM56 74h1v1h-1zM58 74h2v1h-2zM61 74h1v1h-1zM65 74h2v1h-2zM33 75h2v1h-2zM36 75h3v1h-3zM40 75h2v1h-2zM43 75h3v1h-3zM47 75h1v1h-1zM53 75h1v1h-1zM59 75h1v1h-1zM62 75h1v1h-1zM69 75h1v1h-1zM25 76h1v1h-1zM31 76h1v1h-1zM33 76h1v1h-1zM35 76h2v1h-2zM39 76h3v1h-3zM44 76h3v1h-3zM49 76h1v1h-1zM58 76h1v1h-1zM60 76h2v1h-2zM25 77h1v1h-1zM35 77h2v1h-2zM39 77h1v1h-1zM42 77h1v1h-1zM45 77h2v1h-2zM48 77h1v1h-1zM58 77h1v1h-1zM61 77h1v1h-1zM64 77h1v1h-1zM66 77h1v1h-1zM33 78h1v1h-1zM35 78h2v1h-2zM38 78h1v1h-1zM40 78h2v1h-2zM43 78h3v1h-3zM47 78h2v1h-2zM55 78h2v1h-2zM58 78h3v1h-3zM62 78h3v1h-3zM66 78h1v1h-1zM38 79h2v1h-2zM44 79h2v1h-2zM51 79h1v1h-1zM54 79h2v1h-2zM57 79h1v1h-1zM60 79h1v1h-1zM62 79h3v1h-3zM32 80h1v1h-1zM35 80h1v1h-1zM39 80h4v1h-4zM44 80h4v1h-4zM55 80h1v1h-1zM59 80h1v1h-1zM61 80h2v1h-2zM64 80h1v1h-1zM40 81h1v1h-1zM42 81h1v1h-1zM45 81h1v1h-1zM47 81h1v1h-1zM50 81h1v1h-1zM55 81h3v1h-3zM59 81h1v1h-1zM62 81h1v1h-1zM64 81h1v1h-1zM41 82h1v1h-1zM43 82h1v1h-1zM45 82h2v1h-2zM48 82h2v1h-2zM51 82h1v1h-1zM43 83h1v1h-1zM45 83h1v1h-1zM48 83h1v1h-1zM50 83h1v1h-1zM55 83h1v1h-1zM60 83h1v1h-1zM41 84h9v1h-9zM52 84h2v1h-2zM43 85h1v1h-1zM45 85h5v1h-5zM53 85h1v1h-1zM43 86h2v1h-2zM46 86h2v1h-2zM39 87h1v1h-1zM41 87h4v1h-4zM48 87h1v1h-1zM33 88h1v1h-1zM41 88h1v1h-1zM46 88h1v1h-1zM48 88h1v1h-1zM53 88h1v1h-1zM31 89h3v1h-3zM37 89h1v1h-1zM40 89h6v1h-6zM50 89h1v1h-1zM31 90h6v1h-6zM40 90h2v1h-2zM43 90h2v1h-2zM46 90h1v1h-1zM48 90h1v1h-1zM29 91h2v1h-2zM33 91h2v1h-2zM36 91h2v1h-2zM41 91h2v1h-2zM44 91h1v1h-1zM47 91h1v1h-1zM29 92h2v1h-2zM33 92h4v1h-4zM39 92h4v1h-4zM45 92h1v1h-1zM47 92h1v1h-1zM49 92h1v1h-1zM30 93h1v1h-1zM33 93h1v1h-1zM35 93h1v1h-1zM37 93h1v1h-1zM39 93h3v1h-3zM45 93h1v1h-1zM47 93h4v1h-4zM31 94h1v1h-1zM39 94h1v1h-1zM46 94h2v1h-2zM50 94h1v1h-1zM31 95h1v1h-1zM35 95h1v1h-1zM44 95h2v1h-2zM47 95h2v1h-2zM50 95h1v1h-1zM31 96h1v1h-1zM36 96h1v1h-1zM45 96h1v1h-1zM47 96h1v1h-1zM50 96h2v1h-2zM35 97h1v1h-1zM41 97h1v1h-1zM43 97h3v1h-3zM47 97h1v1h-1zM50 97h1v1h-1zM43 98h3v1h-3zM48 98h4v1h-4zM41 99h2v1h-2zM45 99h3v1h-3zM49 99h3v1h-3zM42 100h2v1h-2zM49 100h3v1h-3zM38 101h1v1h-1zM44 101h1v1h-1zM49 101h1v1h-1zM41 102h3v1h-3zM50 102h1v1h-1zM39 103h1v1h-1zM42 103h1v1h-1zM50 103h1v1h-1zM38 104h1v1h-1zM40 104h1v1h-1zM42 104h1v1h-1zM39 105h1v1h-1zM41 105h2v1h-2zM37 106h3v1h-3zM41 106h1v1h-1zM43 106h1v1h-1zM38 107h1v1h-1zM41 107h3v1h-3zM38 108h5v1h-5zM45 108h1v1h-1zM47 108h1v1h-1zM49 108h1v1h-1zM41 109h1v1h-1zM43 109h1v1h-1zM47 109h2v1h-2zM37 110h1v1h-1zM40 110h1v1h-1zM44 110h5v1h-5zM41 111h1v1h-1zM43 111h1v1h-1zM47 111h1v1h-1zM49 111h1v1h-1zM38 112h2v1h-2zM43 112h3v1h-3zM47 112h1v1h-1zM49 112h2v1h-2zM39 113h1v1h-1zM45 113h1v1h-1zM47 113h2v1h-2zM50 113h1v1h-1zM46 114h2v1h-2zM48 115h2v1h-2zM51 115h1v1h-1zM47 116h2v1h-2z"/><path fill="#0000ea" d="M28 5h1v1h-1zM28 6h2v1h-2zM27 7h2v1h-2zM48 9h1v1h-1zM52 9h1v1h-1zM50 10h1v1h-1zM54 10h1v1h-1zM49 11h2v1h-2zM31 13h1v1h-1zM30 14h1v1h-1zM32 14h2v1h-2zM41 14h1v1h-1zM48 14h2v1h-2zM28 15h4v1h-4zM33 15h1v1h-1zM41 15h1v1h-1zM48 15h1v1h-1zM28 16h1v1h-1zM30 16h3v1h-3zM43 16h1v1h-1zM46 16h1v1h-1zM28 17h7v1h-7zM36 17h2v1h-2zM28 18h1v1h-1zM31 18h1v1h-1zM34 18h1v1h-1zM48 18h1v1h-1zM33 19h1v1h-1zM36 19h1v1h-1zM49 19h2v1h-2zM36 20h2v1h-2zM46 20h2v1h-2zM36 21h1v1h-1zM38 21h1v1h-1zM45 21h2v1h-2zM48 21h3v1h-3zM36 22h1v1h-1zM45 22h3v1h-3zM49 22h4v1h-4zM43 23h2v1h-2zM46 23h1v1h-1zM48 23h3v1h-3zM40 24h5v1h-5zM46 24h1v1h-1zM42 25h2v1h-2zM47 25h1v1h-1zM41 26h1v1h-1zM43 26h2v1h-2zM46 27h1v1h-1zM44 28h1v1h-1zM45 29h2v1h-2zM53 29h2v1h-2zM47 30h1v1h-1zM50 30h1v1h-1zM52 30h4v1h-4zM49 31h2v1h-2zM52 31h5v1h-5zM51 32h4v1h-4zM52 33h1v1h-1zM106 43h1v1h-1zM111 46h1v1h-1zM42 78h1v1h-1z"/><path fill="#0000d2" d="M26 6h2v1h-2zM47 21h1v1h-1zM48 22h1v1h-1zM45 23h1v1h-1zM47 23h1v1h-1zM45 24h1v1h-1zM47 24h2v1h-2zM44 25h3v1h-3zM48 25h2v1h-2zM45 26h5v1h-5zM44 27h2v1h-2zM47 27h1v1h-1zM45 28h8v1h-8zM47 29h2v1h-2zM50 29h3v1h-3zM48 30h2v1h-2zM51 30h1v1h-1zM51 31h1v1h-1z"/><path fill="#808080" d="M24 7h3v1h-3zM24 8h3v1h-3zM24 9h2v1h-2zM42 17h6v1h-6zM45 18h3v1h-3zM47 19h2v1h-2zM48 20h1v1h-1zM29 21h1v1h-1zM33 24h2v1h-2zM32 25h5v1h-5zM32 26h6v1h-6zM32 27h8v1h-8zM32 28h9v1h-9zM31 29h12v1h-12zM30 30h15v1h-15zM29 31h17v1h-17zM28 32h20v1h-20zM27 33h22v1h-22zM26 34h25v1h-25zM26 35h27v1h-27zM25 36h29v1h-29zM119 36h2v1h-2zM23 37h32v1h-32zM120 37h1v1h-1zM23 38h34v1h-34zM22 39h37v1h-37zM21 40h40v1h-40zM14 41h3v1h-3zM18 41h44v1h-44zM14 42h50v1h-50zM12 43h54v1h-54zM12 44h55v1h-55zM12 45h57v1h-57zM12 46h57v1h-57zM14 47h55v1h-55zM14 48h55v1h-55zM14 49h54v1h-54zM15 50h52v1h-52zM16 51h51v1h-51zM17 52h48v1h-48zM66 52h2v1h-2zM17 53h48v1h-48zM66 53h2v1h-2zM18 54h46v1h-46zM65 54h1v1h-1zM9 55h1v1h-1zM11 55h2v1h-2zM14 55h46v1h-46zM62 55h3v1h-3zM9 56h52v1h-52zM63 56h2v1h-2zM6 57h54v1h-54zM62 57h2v1h-2zM99 57h1v1h-1zM6 58h51v1h-51zM63 58h1v1h-1zM98 58h1v1h-1zM7 59h50v1h-50zM8 60h38v1h-38zM49 60h1v1h-1zM51 60h1v1h-1zM10 61h36v1h-36zM50 61h1v1h-1zM13 62h32v1h-32zM48 62h1v1h-1zM106 62h1v1h-1zM9 63h30v1h-30zM40 63h1v1h-1zM42 63h2v1h-2zM106 63h1v1h-1zM9 64h30v1h-30zM40 64h2v1h-2zM43 64h2v1h-2zM106 64h1v1h-1zM10 65h28v1h-28zM40 65h4v1h-4zM106 65h1v1h-1zM11 66h23v1h-23zM35 66h1v1h-1zM40 66h5v1h-5zM12 67h11v1h-11zM24 67h9v1h-9zM41 67h3v1h-3zM13 68h10v1h-10zM24 68h6v1h-6zM32 68h1v1h-1zM14 69h7v1h-7zM25 69h4v1h-4zM17 70h2v1h-2zM25 70h3v1h-3zM25 71h2v1h-2zM25 72h1v1h-1zM24 73h2v1h-2z"/><path fill="#0038ff" d="M35 9h1v1h-1zM37 9h1v1h-1zM41 18h1v1h-1zM33 23h1v1h-1zM47 31h1v1h-1zM117 35h1v1h-1zM54 36h2v1h-2zM111 36h5v1h-5zM118 36h1v1h-1zM110 37h5v1h-5zM118 37h2v1h-2zM57 38h1v1h-1zM108 38h1v1h-1zM111 38h10v1h-10zM59 39h1v1h-1zM106 39h1v1h-1zM109 39h2v1h-2zM112 39h1v1h-1zM118 39h1v1h-1zM89 40h1v1h-1zM111 40h2v1h-2zM115 40h1v1h-1zM117 40h1v1h-1zM62 41h2v1h-2zM87 41h1v1h-1zM111 41h2v1h-2zM114 41h4v1h-4zM64 42h2v1h-2zM86 42h1v1h-1zM89 42h1v1h-1zM113 42h4v1h-4zM67 43h1v1h-1zM70 43h1v1h-1zM89 43h1v1h-1zM113 43h2v1h-2zM73 44h1v1h-1zM86 44h2v1h-2zM115 44h1v1h-1zM118 44h1v1h-1zM121 44h1v1h-1zM72 45h1v1h-1zM76 45h1v1h-1zM87 45h1v1h-1zM91 45h2v1h-2zM94 45h5v1h-5zM114 45h4v1h-4zM69 46h1v1h-1zM73 46h1v1h-1zM75 46h1v1h-1zM86 46h1v1h-1zM100 46h2v1h-2zM105 46h2v1h-2zM115 46h1v1h-1zM70 47h1v1h-1zM84 47h8v1h-8zM100 47h2v1h-2zM105 47h2v1h-2zM69 48h3v1h-3zM74 48h2v1h-2zM84 48h4v1h-4zM90 48h2v1h-2zM99 48h3v1h-3zM104 48h1v1h-1zM106 48h1v1h-1zM71 49h1v1h-1zM74 49h2v1h-2zM77 49h1v1h-1zM84 49h1v1h-1zM92 49h1v1h-1zM97 49h7v1h-7zM105 49h1v1h-1zM107 49h2v1h-2zM67 50h1v1h-1zM69 50h1v1h-1zM71 50h1v1h-1zM73 50h1v1h-1zM77 50h1v1h-1zM83 50h2v1h-2zM86 50h2v1h-2zM93 50h3v1h-3zM97 50h1v1h-1zM100 50h3v1h-3zM104 50h3v1h-3zM67 51h4v1h-4zM77 51h1v1h-1zM79 51h1v1h-1zM81 51h1v1h-1zM83 51h1v1h-1zM85 51h4v1h-4zM93 51h1v1h-1zM96 51h3v1h-3zM65 52h1v1h-1zM69 52h2v1h-2zM73 52h1v1h-1zM78 52h7v1h-7zM86 52h1v1h-1zM88 52h1v1h-1zM95 52h1v1h-1zM97 52h1v1h-1zM101 52h2v1h-2zM65 53h1v1h-1zM68 53h1v1h-1zM70 53h2v1h-2zM78 53h1v1h-1zM80 53h1v1h-1zM82 53h4v1h-4zM109 53h1v1h-1zM64 54h1v1h-1zM68 54h1v1h-1zM71 54h1v1h-1zM73 54h1v1h-1zM78 54h1v1h-1zM80 54h1v1h-1zM60 55h1v1h-1zM68 55h5v1h-5zM78 55h1v1h-1zM81 55h1v1h-1zM84 55h2v1h-2zM101 55h2v1h-2zM104 55h1v1h-1zM107 55h2v1h-2zM110 55h2v1h-2zM68 56h1v1h-1zM70 56h2v1h-2zM82 56h1v1h-1zM84 56h1v1h-1zM102 56h2v1h-2zM108 56h3v1h-3zM60 57h2v1h-2zM64 57h2v1h-2zM68 57h4v1h-4zM101 57h3v1h-3zM105 57h1v1h-1zM108 57h1v1h-1zM110 57h1v1h-1zM57 58h2v1h-2zM62 58h1v1h-1zM65 58h2v1h-2zM68 58h2v1h-2zM71 58h1v1h-1zM87 58h1v1h-1zM99 58h2v1h-2zM104 58h1v1h-1zM106 58h1v1h-1zM57 59h1v1h-1zM59 59h1v1h-1zM61 59h2v1h-2zM64 59h4v1h-4zM70 59h3v1h-3zM84 59h1v1h-1zM105 59h2v1h-2zM46 60h2v1h-2zM50 60h1v1h-1zM53 60h5v1h-5zM60 60h7v1h-7zM68 60h4v1h-4zM85 60h1v1h-1zM101 60h1v1h-1zM105 60h2v1h-2zM48 61h2v1h-2zM51 61h2v1h-2zM54 61h3v1h-3zM59 61h1v1h-1zM61 61h1v1h-1zM63 61h1v1h-1zM65 61h7v1h-7zM106 61h1v1h-1zM45 62h1v1h-1zM53 62h4v1h-4zM58 62h5v1h-5zM64 62h1v1h-1zM69 62h4v1h-4zM88 62h3v1h-3zM39 63h1v1h-1zM48 63h1v1h-1zM52 63h3v1h-3zM60 63h1v1h-1zM63 63h1v1h-1zM66 63h1v1h-1zM69 63h1v1h-1zM71 63h1v1h-1zM73 63h1v1h-1zM89 63h1v1h-1zM45 64h1v1h-1zM47 64h6v1h-6zM54 64h5v1h-5zM63 64h3v1h-3zM67 64h7v1h-7zM88 64h1v1h-1zM90 64h1v1h-1zM104 64h1v1h-1zM39 65h1v1h-1zM45 65h1v1h-1zM47 65h2v1h-2zM50 65h2v1h-2zM53 65h1v1h-1zM56 65h2v1h-2zM68 65h1v1h-1zM72 65h1v1h-1zM87 65h1v1h-1zM89 65h2v1h-2zM34 66h1v1h-1zM36 66h1v1h-1zM39 66h1v1h-1zM45 66h2v1h-2zM49 66h1v1h-1zM52 66h1v1h-1zM54 66h2v1h-2zM57 66h2v1h-2zM60 66h1v1h-1zM62 66h4v1h-4zM67 66h1v1h-1zM69 66h1v1h-1zM71 66h1v1h-1zM73 66h1v1h-1zM83 66h1v1h-1zM90 66h1v1h-1zM38 67h2v1h-2zM44 67h1v1h-1zM46 67h1v1h-1zM48 67h3v1h-3zM55 67h2v1h-2zM60 67h2v1h-2zM63 67h1v1h-1zM66 67h2v1h-2zM70 67h1v1h-1zM72 67h2v1h-2zM30 68h1v1h-1zM34 68h1v1h-1zM36 68h1v1h-1zM40 68h3v1h-3zM44 68h5v1h-5zM50 68h1v1h-1zM52 68h2v1h-2zM59 68h2v1h-2zM62 68h5v1h-5zM68 68h2v1h-2zM72 68h1v1h-1zM30 69h1v1h-1zM32 69h5v1h-5zM38 69h2v1h-2zM41 69h5v1h-5zM52 69h4v1h-4zM57 69h1v1h-1zM61 69h1v1h-1zM63 69h1v1h-1zM65 69h2v1h-2zM68 69h1v1h-1zM28 70h1v1h-1zM31 70h2v1h-2zM35 70h2v1h-2zM38 70h7v1h-7zM49 70h3v1h-3zM53 70h1v1h-1zM56 70h4v1h-4zM62 70h1v1h-1zM64 70h2v1h-2zM68 70h4v1h-4zM28 71h1v1h-1zM30 71h1v1h-1zM33 71h2v1h-2zM38 71h3v1h-3zM43 71h2v1h-2zM47 71h1v1h-1zM49 71h6v1h-6zM56 71h2v1h-2zM60 71h2v1h-2zM63 71h1v1h-1zM66 71h3v1h-3zM70 71h3v1h-3zM75 71h1v1h-1zM26 72h1v1h-1zM32 72h1v1h-1zM34 72h1v1h-1zM38 72h2v1h-2zM41 72h3v1h-3zM45 72h1v1h-1zM48 72h5v1h-5zM54 72h1v1h-1zM56 72h7v1h-7zM70 72h4v1h-4zM77 72h1v1h-1zM26 73h1v1h-1zM28 73h3v1h-3zM36 73h1v1h-1zM42 73h1v1h-1zM45 73h3v1h-3zM49 73h2v1h-2zM52 73h1v1h-1zM54 73h1v1h-1zM56 73h2v1h-2zM59 73h3v1h-3zM63 73h2v1h-2zM66 73h1v1h-1zM68 73h3v1h-3zM72 73h1v1h-1zM74 73h2v1h-2zM25 74h1v1h-1zM27 74h1v1h-1zM29 74h2v1h-2zM33 74h1v1h-1zM38 74h1v1h-1zM41 74h1v1h-1zM43 74h1v1h-1zM46 74h2v1h-2zM49 74h3v1h-3zM53 74h3v1h-3zM60 74h1v1h-1zM67 74h4v1h-4zM72 74h1v1h-1zM25 75h2v1h-2zM30 75h3v1h-3zM35 75h1v1h-1zM42 75h1v1h-1zM48 75h1v1h-1zM50 75h1v1h-1zM54 75h1v1h-1zM58 75h1v1h-1zM60 75h1v1h-1zM65 75h2v1h-2zM68 75h1v1h-1zM71 75h1v1h-1zM26 76h2v1h-2zM30 76h1v1h-1zM32 76h1v1h-1zM47 76h2v1h-2zM50 76h2v1h-2zM53 76h2v1h-2zM56 76h1v1h-1zM59 76h1v1h-1zM62 76h2v1h-2zM65 76h5v1h-5zM30 77h2v1h-2zM33 77h1v1h-1zM41 77h1v1h-1zM47 77h1v1h-1zM49 77h1v1h-1zM51 77h2v1h-2zM55 77h3v1h-3zM60 77h1v1h-1zM62 77h2v1h-2zM65 77h1v1h-1zM67 77h3v1h-3zM31 78h2v1h-2zM34 78h1v1h-1zM46 78h1v1h-1zM49 78h2v1h-2zM52 78h1v1h-1zM54 78h1v1h-1zM57 78h1v1h-1zM61 78h1v1h-1zM65 78h1v1h-1zM67 78h2v1h-2zM26 79h1v1h-1zM34 79h4v1h-4zM46 79h1v1h-1zM48 79h3v1h-3zM52 79h2v1h-2zM56 79h1v1h-1zM61 79h1v1h-1zM65 79h3v1h-3zM25 80h2v1h-2zM33 80h1v1h-1zM36 80h2v1h-2zM48 80h4v1h-4zM53 80h2v1h-2zM56 80h3v1h-3zM60 80h1v1h-1zM65 80h2v1h-2zM26 81h1v1h-1zM30 81h3v1h-3zM37 81h3v1h-3zM41 81h1v1h-1zM43 81h2v1h-2zM48 81h1v1h-1zM51 81h4v1h-4zM58 81h1v1h-1zM60 81h2v1h-2zM63 81h1v1h-1zM36 82h1v1h-1zM40 82h1v1h-1zM42 82h1v1h-1zM47 82h1v1h-1zM52 82h3v1h-3zM56 82h6v1h-6zM40 83h1v1h-1zM42 83h1v1h-1zM47 83h1v1h-1zM49 83h1v1h-1zM51 83h4v1h-4zM56 83h3v1h-3zM62 83h1v1h-1zM51 84h1v1h-1zM54 84h2v1h-2zM57 84h1v1h-1zM61 84h1v1h-1zM41 85h2v1h-2zM44 85h1v1h-1zM50 85h3v1h-3zM54 85h3v1h-3zM37 86h2v1h-2zM41 86h2v1h-2zM49 86h3v1h-3zM53 86h2v1h-2zM56 86h1v1h-1zM58 86h1v1h-1zM60 86h1v1h-1zM31 87h1v1h-1zM38 87h1v1h-1zM46 87h1v1h-1zM49 87h4v1h-4zM56 87h1v1h-1zM31 88h2v1h-2zM34 88h1v1h-1zM37 88h4v1h-4zM42 88h4v1h-4zM47 88h1v1h-1zM49 88h1v1h-1zM51 88h2v1h-2zM28 89h1v1h-1zM34 89h1v1h-1zM36 89h1v1h-1zM38 89h2v1h-2zM46 89h4v1h-4zM51 89h2v1h-2zM28 90h2v1h-2zM37 90h3v1h-3zM42 90h1v1h-1zM45 90h1v1h-1zM47 90h1v1h-1zM49 90h3v1h-3zM57 90h1v1h-1zM35 91h1v1h-1zM38 91h2v1h-2zM43 91h1v1h-1zM45 91h1v1h-1zM48 91h1v1h-1zM50 91h1v1h-1zM44 92h1v1h-1zM46 92h1v1h-1zM48 92h1v1h-1zM50 92h1v1h-1zM36 93h1v1h-1zM38 93h1v1h-1zM42 93h3v1h-3zM46 93h1v1h-1zM51 93h1v1h-1zM34 94h5v1h-5zM40 94h6v1h-6zM48 94h2v1h-2zM32 95h3v1h-3zM37 95h1v1h-1zM42 95h2v1h-2zM46 95h1v1h-1zM49 95h1v1h-1zM51 95h1v1h-1zM32 96h1v1h-1zM35 96h1v1h-1zM42 96h3v1h-3zM46 96h1v1h-1zM48 96h1v1h-1zM32 97h1v1h-1zM34 97h1v1h-1zM37 97h3v1h-3zM42 97h1v1h-1zM46 97h1v1h-1zM48 97h2v1h-2zM32 98h2v1h-2zM35 98h1v1h-1zM40 98h1v1h-1zM46 98h1v1h-1zM52 98h1v1h-1zM39 99h1v1h-1zM43 99h2v1h-2zM48 99h1v1h-1zM52 99h1v1h-1zM33 100h1v1h-1zM36 100h2v1h-2zM39 100h3v1h-3zM44 100h5v1h-5zM40 101h4v1h-4zM46 101h2v1h-2zM50 101h1v1h-1zM35 102h1v1h-1zM39 102h2v1h-2zM44 102h1v1h-1zM47 102h3v1h-3zM35 103h4v1h-4zM40 103h2v1h-2zM43 103h1v1h-1zM47 103h3v1h-3zM36 104h1v1h-1zM39 104h1v1h-1zM41 104h1v1h-1zM43 104h1v1h-1zM45 104h1v1h-1zM47 104h1v1h-1zM49 104h1v1h-1zM35 105h1v1h-1zM37 105h2v1h-2zM40 105h1v1h-1zM43 105h7v1h-7zM35 106h2v1h-2zM40 106h1v1h-1zM42 106h1v1h-1zM44 106h3v1h-3zM48 106h2v1h-2zM37 107h1v1h-1zM39 107h1v1h-1zM44 107h6v1h-6zM43 108h2v1h-2zM46 108h1v1h-1zM37 109h2v1h-2zM40 109h1v1h-1zM45 109h2v1h-2zM49 109h2v1h-2zM38 110h1v1h-1zM41 110h3v1h-3zM49 110h2v1h-2zM38 111h3v1h-3zM42 111h1v1h-1zM45 111h1v1h-1zM48 111h1v1h-1zM50 111h2v1h-2zM40 112h1v1h-1zM42 112h1v1h-1zM51 112h1v1h-1zM38 113h1v1h-1zM40 113h3v1h-3zM44 113h1v1h-1zM46 113h1v1h-1zM45 114h1v1h-1zM49 114h1v1h-1zM45 115h3v1h-3zM50 115h1v1h-1zM49 116h1v1h-1zM51 116h1v1h-1zM46 117h1v1h-1z"/><path fill="#0000ba" d="M48 27h3v1h-3zM49 29h1v1h-1z"/><path fill="#0052ff" d="M116 35h1v1h-1zM119 39h3v1h-3zM116 40h1v1h-1zM118 40h1v1h-1zM123 40h1v1h-1zM118 41h1v1h-1zM117 42h3v1h-3zM66 43h1v1h-1zM68 43h2v1h-2zM115 43h5v1h-5zM121 43h1v1h-1zM67 44h5v1h-5zM116 44h2v1h-2zM122 44h1v1h-1zM69 45h1v1h-1zM71 45h1v1h-1zM73 45h3v1h-3zM99 45h1v1h-1zM70 46h3v1h-3zM76 46h2v1h-2zM82 46h1v1h-1zM92 46h4v1h-4zM97 46h3v1h-3zM69 47h1v1h-1zM71 47h7v1h-7zM81 47h3v1h-3zM92 47h1v1h-1zM95 47h1v1h-1zM98 47h2v1h-2zM72 48h1v1h-1zM76 48h2v1h-2zM79 48h2v1h-2zM82 48h2v1h-2zM92 48h1v1h-1zM98 48h1v1h-1zM70 49h1v1h-1zM72 49h2v1h-2zM78 49h1v1h-1zM80 49h4v1h-4zM93 49h4v1h-4zM104 49h1v1h-1zM72 50h1v1h-1zM74 50h3v1h-3zM78 50h2v1h-2zM81 50h2v1h-2zM98 50h1v1h-1zM72 51h5v1h-5zM78 51h1v1h-1zM80 51h1v1h-1zM89 51h1v1h-1zM99 51h1v1h-1zM101 51h1v1h-1zM72 52h1v1h-1zM75 52h3v1h-3zM85 52h1v1h-1zM98 52h1v1h-1zM73 53h2v1h-2zM76 53h2v1h-2zM79 53h1v1h-1zM81 53h1v1h-1zM86 53h2v1h-2zM72 54h1v1h-1zM74 54h1v1h-1zM77 54h1v1h-1zM79 54h1v1h-1zM81 54h6v1h-6zM73 55h1v1h-1zM75 55h1v1h-1zM79 55h2v1h-2zM82 55h2v1h-2zM86 55h1v1h-1zM66 56h1v1h-1zM72 56h2v1h-2zM77 56h2v1h-2zM80 56h2v1h-2zM85 56h1v1h-1zM88 56h1v1h-1zM72 57h1v1h-1zM74 57h1v1h-1zM77 57h3v1h-3zM81 57h2v1h-2zM84 57h1v1h-1zM88 57h1v1h-1zM74 58h1v1h-1zM82 58h1v1h-1zM84 58h2v1h-2zM101 58h1v1h-1zM73 59h2v1h-2zM83 59h1v1h-1zM85 59h1v1h-1zM87 59h2v1h-2zM101 59h1v1h-1zM104 59h1v1h-1zM58 60h1v1h-1zM84 60h1v1h-1zM86 60h4v1h-4zM46 61h2v1h-2zM53 61h1v1h-1zM72 61h3v1h-3zM85 61h3v1h-3zM89 61h1v1h-1zM105 61h1v1h-1zM46 62h2v1h-2zM52 62h1v1h-1zM73 62h1v1h-1zM75 62h1v1h-1zM82 62h1v1h-1zM85 62h2v1h-2zM41 63h1v1h-1zM44 63h4v1h-4zM49 63h1v1h-1zM62 63h1v1h-1zM72 63h1v1h-1zM74 63h1v1h-1zM76 63h1v1h-1zM84 63h1v1h-1zM87 63h2v1h-2zM90 63h1v1h-1zM104 63h1v1h-1zM39 64h1v1h-1zM42 64h1v1h-1zM46 64h1v1h-1zM53 64h1v1h-1zM74 64h1v1h-1zM77 64h1v1h-1zM89 64h1v1h-1zM38 65h1v1h-1zM46 65h1v1h-1zM52 65h1v1h-1zM62 65h1v1h-1zM69 65h1v1h-1zM71 65h1v1h-1zM73 65h1v1h-1zM75 65h3v1h-3zM81 65h1v1h-1zM88 65h1v1h-1zM38 66h1v1h-1zM56 66h1v1h-1zM68 66h1v1h-1zM72 66h1v1h-1zM74 66h1v1h-1zM76 66h1v1h-1zM79 66h1v1h-1zM89 66h1v1h-1zM33 67h4v1h-4zM40 67h1v1h-1zM62 67h1v1h-1zM65 67h1v1h-1zM69 67h1v1h-1zM71 67h1v1h-1zM74 67h3v1h-3zM81 67h2v1h-2zM31 68h1v1h-1zM33 68h1v1h-1zM35 68h1v1h-1zM37 68h3v1h-3zM43 68h1v1h-1zM70 68h2v1h-2zM74 68h2v1h-2zM78 68h1v1h-1zM37 69h1v1h-1zM40 69h1v1h-1zM60 69h1v1h-1zM67 69h1v1h-1zM69 69h1v1h-1zM71 69h1v1h-1zM73 69h2v1h-2zM76 69h2v1h-2zM37 70h1v1h-1zM45 70h1v1h-1zM63 70h1v1h-1zM66 70h2v1h-2zM72 70h4v1h-4zM78 70h1v1h-1zM27 71h1v1h-1zM29 71h1v1h-1zM31 71h1v1h-1zM37 71h1v1h-1zM41 71h1v1h-1zM55 71h1v1h-1zM62 71h1v1h-1zM64 71h2v1h-2zM69 71h1v1h-1zM73 71h2v1h-2zM76 71h3v1h-3zM29 72h1v1h-1zM33 72h1v1h-1zM35 72h1v1h-1zM53 72h1v1h-1zM63 72h2v1h-2zM66 72h4v1h-4zM74 72h1v1h-1zM27 73h1v1h-1zM55 73h1v1h-1zM65 73h1v1h-1zM71 73h1v1h-1zM73 73h1v1h-1zM76 73h1v1h-1zM28 74h1v1h-1zM31 74h1v1h-1zM62 74h3v1h-3zM71 74h1v1h-1zM27 75h1v1h-1zM29 75h1v1h-1zM51 75h2v1h-2zM55 75h2v1h-2zM61 75h1v1h-1zM63 75h2v1h-2zM67 75h1v1h-1zM70 75h1v1h-1zM28 76h2v1h-2zM55 76h1v1h-1zM57 76h1v1h-1zM70 76h2v1h-2zM26 77h2v1h-2zM32 77h1v1h-1zM50 77h1v1h-1zM53 77h1v1h-1zM28 78h3v1h-3zM51 78h1v1h-1zM53 78h1v1h-1zM29 79h5v1h-5zM40 79h1v1h-1zM68 79h1v1h-1zM27 80h1v1h-1zM29 80h3v1h-3zM34 80h1v1h-1zM38 80h1v1h-1zM52 80h1v1h-1zM67 80h1v1h-1zM34 81h1v1h-1zM36 81h1v1h-1zM65 81h2v1h-2zM30 82h2v1h-2zM33 82h3v1h-3zM37 82h3v1h-3zM50 82h1v1h-1zM63 82h2v1h-2zM26 83h1v1h-1zM33 83h2v1h-2zM38 83h2v1h-2zM59 83h1v1h-1zM61 83h1v1h-1zM63 83h1v1h-1zM31 84h1v1h-1zM34 84h1v1h-1zM37 84h4v1h-4zM58 84h2v1h-2zM30 85h4v1h-4zM35 85h3v1h-3zM40 85h1v1h-1zM58 85h3v1h-3zM31 86h1v1h-1zM33 86h4v1h-4zM40 86h1v1h-1zM55 86h1v1h-1zM57 86h1v1h-1zM59 86h1v1h-1zM32 87h4v1h-4zM37 87h1v1h-1zM40 87h1v1h-1zM53 87h3v1h-3zM58 87h2v1h-2zM27 88h1v1h-1zM29 88h1v1h-1zM35 88h2v1h-2zM50 88h1v1h-1zM54 88h2v1h-2zM29 89h2v1h-2zM53 89h1v1h-1zM32 91h1v1h-1zM49 91h1v1h-1zM38 92h1v1h-1zM51 92h1v1h-1zM51 94h1v1h-1zM38 95h2v1h-2zM34 96h1v1h-1zM37 96h3v1h-3zM41 96h1v1h-1zM33 97h1v1h-1zM36 97h1v1h-1zM40 97h1v1h-1zM51 97h2v1h-2zM34 98h1v1h-1zM36 98h1v1h-1zM38 98h2v1h-2zM41 98h2v1h-2zM32 99h7v1h-7zM40 99h1v1h-1zM34 100h2v1h-2zM38 100h1v1h-1zM52 100h1v1h-1zM33 101h5v1h-5zM39 101h1v1h-1zM45 101h1v1h-1zM48 101h1v1h-1zM51 101h1v1h-1zM33 102h1v1h-1zM36 102h3v1h-3zM46 102h1v1h-1zM51 102h1v1h-1zM34 103h1v1h-1zM45 103h2v1h-2zM51 103h1v1h-1zM34 104h2v1h-2zM37 104h1v1h-1zM44 104h1v1h-1zM46 104h1v1h-1zM48 104h1v1h-1zM34 105h1v1h-1zM36 105h1v1h-1zM50 105h1v1h-1zM47 106h1v1h-1zM50 106h1v1h-1zM37 108h1v1h-1zM51 108h1v1h-1zM39 110h1v1h-1zM51 110h1v1h-1zM52 111h2v1h-2zM48 112h1v1h-1zM43 113h1v1h-1zM39 114h6v1h-6zM39 115h1v1h-1zM41 115h1v1h-1zM44 115h1v1h-1zM39 116h2v1h-2zM45 116h2v1h-2zM46 119h1v1h-1z"/><path fill="#006cff" d="M122 39h1v1h-1zM119 40h1v1h-1zM119 41h1v1h-1zM123 41h1v1h-1zM71 43h2v1h-2zM120 43h1v1h-1zM122 43h1v1h-1zM72 44h1v1h-1zM70 45h1v1h-1zM86 45h1v1h-1zM74 46h1v1h-1zM78 46h3v1h-3zM96 46h1v1h-1zM78 47h1v1h-1zM80 47h1v1h-1zM93 47h2v1h-2zM96 47h2v1h-2zM81 48h1v1h-1zM93 48h5v1h-5zM79 49h1v1h-1zM85 49h1v1h-1zM80 50h1v1h-1zM99 50h1v1h-1zM100 51h1v1h-1zM74 52h1v1h-1zM99 52h2v1h-2zM75 53h1v1h-1zM76 54h1v1h-1zM74 55h1v1h-1zM76 55h2v1h-2zM87 55h2v1h-2zM74 56h2v1h-2zM79 56h1v1h-1zM83 56h1v1h-1zM86 56h2v1h-2zM73 57h1v1h-1zM76 57h1v1h-1zM80 57h1v1h-1zM83 57h1v1h-1zM85 57h3v1h-3zM72 58h2v1h-2zM75 58h1v1h-1zM81 58h1v1h-1zM83 58h1v1h-1zM86 58h1v1h-1zM88 58h1v1h-1zM102 58h2v1h-2zM81 59h2v1h-2zM86 59h1v1h-1zM89 59h1v1h-1zM73 60h1v1h-1zM75 60h1v1h-1zM82 60h2v1h-2zM104 60h1v1h-1zM77 61h1v1h-1zM82 61h3v1h-3zM88 61h1v1h-1zM104 61h1v1h-1zM74 62h1v1h-1zM78 62h1v1h-1zM81 62h1v1h-1zM83 62h1v1h-1zM104 62h1v1h-1zM75 63h1v1h-1zM77 63h1v1h-1zM79 63h4v1h-4zM85 63h2v1h-2zM75 64h2v1h-2zM78 64h4v1h-4zM83 64h5v1h-5zM44 65h1v1h-1zM74 65h1v1h-1zM78 65h2v1h-2zM83 65h3v1h-3zM75 66h1v1h-1zM77 66h2v1h-2zM80 66h3v1h-3zM86 66h3v1h-3zM77 67h4v1h-4zM57 68h1v1h-1zM76 68h2v1h-2zM29 69h1v1h-1zM64 69h1v1h-1zM72 69h1v1h-1zM75 69h1v1h-1zM78 69h1v1h-1zM79 71h1v1h-1zM28 72h1v1h-1zM78 72h1v1h-1zM77 73h1v1h-1zM26 74h1v1h-1zM74 74h1v1h-1zM46 75h1v1h-1zM72 75h1v1h-1zM64 76h1v1h-1zM28 77h1v1h-1zM34 77h1v1h-1zM27 78h1v1h-1zM27 79h2v1h-2zM28 80h1v1h-1zM63 80h1v1h-1zM27 81h3v1h-3zM33 81h1v1h-1zM26 82h1v1h-1zM28 82h2v1h-2zM32 82h1v1h-1zM62 82h1v1h-1zM65 82h1v1h-1zM28 83h2v1h-2zM31 83h2v1h-2zM36 83h2v1h-2zM44 83h1v1h-1zM29 84h2v1h-2zM32 84h2v1h-2zM36 84h1v1h-1zM62 84h1v1h-1zM27 85h1v1h-1zM29 85h1v1h-1zM34 85h1v1h-1zM38 85h2v1h-2zM61 85h1v1h-1zM29 86h2v1h-2zM32 86h1v1h-1zM39 86h1v1h-1zM61 86h1v1h-1zM29 87h2v1h-2zM57 87h1v1h-1zM60 87h1v1h-1zM28 88h1v1h-1zM30 88h1v1h-1zM55 89h1v1h-1zM30 90h1v1h-1zM52 90h1v1h-1zM31 91h1v1h-1zM51 91h1v1h-1zM53 98h1v1h-1zM32 100h1v1h-1zM34 102h1v1h-1zM44 103h1v1h-1zM50 104h1v1h-1zM51 106h1v1h-1zM36 107h1v1h-1zM50 107h2v1h-2zM50 108h1v1h-1zM39 109h1v1h-1zM52 110h1v1h-1zM40 115h1v1h-1zM42 115h1v1h-1zM43 116h1v1h-1zM42 117h1v1h-1zM44 117h2v1h-2zM40 118h1v1h-1zM45 118h2v1h-2zM45 119h1v1h-1zM44 120h2v1h-2z"/><path fill="#0087ff" d="M120 40h1v1h-1zM122 40h1v1h-1zM120 41h1v1h-1zM122 41h1v1h-1zM120 42h3v1h-3zM79 47h1v1h-1zM68 49h1v1h-1zM71 51h1v1h-1zM87 52h1v1h-1zM89 52h1v1h-1zM75 54h1v1h-1zM76 56h1v1h-1zM75 57h1v1h-1zM76 58h5v1h-5zM75 59h6v1h-6zM103 59h1v1h-1zM74 60h1v1h-1zM76 60h6v1h-6zM78 61h4v1h-4zM76 62h2v1h-2zM79 62h1v1h-1zM87 62h1v1h-1zM51 63h1v1h-1zM78 63h1v1h-1zM83 63h1v1h-1zM82 64h1v1h-1zM82 65h1v1h-1zM86 65h1v1h-1zM66 66h1v1h-1zM84 66h2v1h-2zM79 69h1v1h-1zM30 70h1v1h-1zM76 70h1v1h-1zM79 70h1v1h-1zM42 71h1v1h-1zM27 72h1v1h-1zM47 72h1v1h-1zM51 73h1v1h-1zM53 73h1v1h-1zM73 74h1v1h-1zM75 74h1v1h-1zM49 75h1v1h-1zM57 75h1v1h-1zM70 77h1v1h-1zM69 78h2v1h-2zM47 79h1v1h-1zM66 82h1v1h-1zM27 83h1v1h-1zM27 84h2v1h-2zM35 84h1v1h-1zM56 84h1v1h-1zM60 84h1v1h-1zM63 84h1v1h-1zM57 85h1v1h-1zM63 85h1v1h-1zM27 86h2v1h-2zM52 86h1v1h-1zM27 87h2v1h-2zM53 90h1v1h-1zM52 92h1v1h-1zM34 93h1v1h-1zM52 93h1v1h-1zM52 94h1v1h-1zM40 95h2v1h-2zM52 95h1v1h-1zM52 96h1v1h-1zM53 99h1v1h-1zM52 101h1v1h-1zM52 102h1v1h-1zM51 104h1v1h-1zM51 105h1v1h-1zM48 108h1v1h-1zM51 109h2v1h-2zM53 110h1v1h-1zM41 112h1v1h-1zM43 115h1v1h-1zM41 116h2v1h-2zM44 116h1v1h-1zM40 117h2v1h-2zM43 117h1v1h-1zM44 118h1v1h-1zM41 119h1v1h-1zM43 119h2v1h-2zM42 120h2v1h-2z"/><path fill="#00a1ff" d="M121 40h1v1h-1zM121 41h1v1h-1zM84 51h1v1h-1zM103 60h1v1h-1zM76 61h1v1h-1zM70 66h1v1h-1zM73 68h1v1h-1zM79 68h1v1h-1zM70 69h1v1h-1zM60 70h1v1h-1zM79 72h1v1h-1zM78 73h1v1h-1zM57 74h1v1h-1zM52 76h1v1h-1zM72 76h1v1h-1zM29 77h1v1h-1zM54 77h1v1h-1zM71 77h1v1h-1zM26 78h1v1h-1zM71 78h1v1h-1zM68 80h1v1h-1zM35 81h1v1h-1zM49 81h1v1h-1zM67 81h1v1h-1zM55 82h1v1h-1zM30 83h1v1h-1zM41 83h1v1h-1zM64 83h2v1h-2zM28 85h1v1h-1zM62 85h1v1h-1zM62 86h1v1h-1zM36 87h1v1h-1zM56 88h1v1h-1zM54 89h1v1h-1zM56 89h1v1h-1zM46 91h1v1h-1zM52 91h1v1h-1zM36 95h1v1h-1zM33 96h1v1h-1zM40 96h1v1h-1zM37 98h1v1h-1zM53 100h1v1h-1zM52 103h1v1h-1zM52 108h1v1h-1zM41 118h3v1h-3zM42 119h1v1h-1z"/><path fill="#0bf" d="M73 48h1v1h-1zM78 48h1v1h-1zM72 53h1v1h-1zM72 60h1v1h-1zM75 61h1v1h-1zM80 65h1v1h-1zM80 68h1v1h-1zM80 69h1v1h-1zM77 70h1v1h-1zM80 70h1v1h-1zM80 71h1v1h-1zM80 72h1v1h-1zM67 73h1v1h-1zM79 73h1v1h-1zM28 75h1v1h-1zM73 76h1v1h-1zM72 77h1v1h-1zM69 79h2v1h-2zM68 81h1v1h-1zM27 82h1v1h-1zM67 82h1v1h-1zM35 83h1v1h-1zM64 84h1v1h-1zM63 86h1v1h-1zM53 109h1v1h-1z"/><path fill="#00d5ff" d="M80 62h1v1h-1zM84 62h1v1h-1zM81 71h1v1h-1zM76 74h1v1h-1zM74 75h1v1h-1zM61 87h1v1h-1zM54 90h1v1h-1zM53 93h1v1h-1zM53 95h1v1h-1zM53 97h1v1h-1zM54 98h1v1h-1zM52 107h1v1h-1zM53 108h1v1h-1z"/><path fill="#f1fd06" d="M105 62h1v1h-1zM105 63h1v1h-1z"/><path fill="#00efff" d="M81 68h1v1h-1zM81 69h1v1h-1zM81 70h1v1h-1zM55 90h1v1h-1zM53 91h1v1h-1zM53 96h1v1h-1zM54 99h1v1h-1zM54 100h1v1h-1zM53 101h1v1h-1zM53 102h1v1h-1zM53 103h1v1h-1zM52 104h1v1h-1zM52 106h1v1h-1zM53 107h1v1h-1z"/><path fill="#00f8dc" d="M73 75h1v1h-1zM54 92h1v1h-1zM54 94h1v1h-1zM54 96h1v1h-1zM55 100h1v1h-1zM54 102h1v1h-1zM54 103h1v1h-1z"/><path fill="#00fdf5" d="M69 80h1v1h-1zM62 87h1v1h-1zM57 88h1v1h-1zM54 91h1v1h-1zM53 94h1v1h-1zM54 95h1v1h-1zM54 97h1v1h-1zM55 98h1v1h-1zM55 99h1v1h-1zM52 105h1v1h-1z"/><path fill="#00f3c2" d="M58 88h1v1h-1zM54 93h1v1h-1zM54 101h1v1h-1zM53 104h1v1h-1zM53 105h1v1h-1z"/><path fill="#00ed7c" d="M57 89h2v1h-2zM53 92h1v1h-1zM53 106h1v1h-1z"/></g><path d="M70.8 0V686.0M172.4 0V686.0M274.0 0V686.0M375.6 0V686.0M477.2 0V686.0M578.8 0V686.0M0 610.5H680.5M0 503.6H680.5M0 396.7H680.5M0 289.7H680.5M0 182.8H680.5M0 75.8H680.5" stroke="#000" stroke-opacity=".115" stroke-width="1.4" fill="none"/><path d="M70.8 0v7.5M70.8 686.0v-7.5M172.4 0v7.5M172.4 686.0v-7.5M274.0 0v7.5M274.0 686.0v-7.5M375.6 0v7.5M375.6 686.0v-7.5M477.2 0v7.5M477.2 686.0v-7.5M578.8 0v7.5M578.8 686.0v-7.5M680.4 0v7.5M680.4 686.0v-7.5M0 610.5h7.5M680.5 610.5h-7.5M0 503.6h7.5M680.5 503.6h-7.5M0 396.7h7.5M680.5 396.7h-7.5M0 289.7h7.5M680.5 289.7h-7.5M0 182.8h7.5M680.5 182.8h-7.5M0 75.8h7.5M680.5 75.8h-7.5" stroke="#303030" stroke-width="1.6" fill="none"/><rect x="0" y="0" width="680.5" height="686.0" fill="none" stroke="#303030" stroke-width="1.8"/><text class="t" x="71.8" y="721.5" text-anchor="middle">70E</text><text class="t" x="173.4" y="721.5" text-anchor="middle">75E</text><text class="t" x="275.0" y="721.5" text-anchor="middle">80E</text><text class="t" x="376.6" y="721.5" text-anchor="middle">85E</text><text class="t" x="478.2" y="721.5" text-anchor="middle">90E</text><text class="t" x="579.8" y="721.5" text-anchor="middle">95E</text><text class="t" x="681.4" y="721.5" text-anchor="middle">100E</text><text class="t" x="-10.0" y="619.8" text-anchor="end">10N</text><text class="t" x="-10.0" y="512.8" text-anchor="end">15N</text><text class="t" x="-10.0" y="405.9" text-anchor="end">20N</text><text class="t" x="-10.0" y="298.9" text-anchor="end">25N</text><text class="t" x="-10.0" y="191.9" text-anchor="end">30N</text><text class="t" x="-10.0" y="85.0" text-anchor="end">35N</text><g stroke="#000" fill="none"><circle cx="525.1" cy="123.3" r="31.2" stroke-width="2.7"/><path d="M525.1 92.1V154.5" stroke-width="3"/><path d="M523.9 93.7L494.5 121.7M526.3 93.7L555.7 120.7" stroke-width="3.4"/></g><text x="525.1" y="87.3" text-anchor="middle" style="font:bold 16.5px 'Liberation Sans',sans-serif">N</text></g><rect x="822.4" y="1807.8" width="53.8" height="684.3" fill="url(#jet)" stroke="#303030" stroke-width="1.3"/><path d="M876.2 2378.1h-7.5M876.2 2264.0h-7.5M876.2 2149.9h-7.5M876.2 2035.9h-7.5M876.2 1921.8h-7.5" stroke="#303030" stroke-width="1.5" fill="none"/><text class="t" font-size="25.0" x="886.7" y="2501.3">0</text><text class="t" font-size="25.0" x="886.7" y="2387.2">10</text><text class="t" font-size="25.0" x="886.7" y="2273.2">20</text><text class="t" font-size="25.0" x="886.7" y="2159.1">30</text><text class="t" font-size="25.0" x="886.7" y="2045.1">40</text><text class="t" font-size="25.0" x="886.7" y="1931.0">50</text><text class="t" font-size="25.0" x="886.7" y="1817.0">60</text><text x="489.0" y="2590.0" text-anchor="middle" style="font:bold 38.5px 'Liberation Serif',serif">(e)</text><g transform="translate(1148.4 1807.9)" font-size="25.0"><g transform="translate(-0.32 0.53) scale(5.08000 5.34750)" shape-rendering="crispEdges" stroke="none"><path fill="#808080" d="M32 4h4v1h-4zM28 5h9v1h-9zM26 6h12v1h-12zM24 7h16v1h-16zM24 8h18v1h-18zM24 9h19v1h-19zM48 9h7v1h-7zM26 10h18v1h-18zM45 10h11v1h-11zM28 11h28v1h-28zM29 12h26v1h-26zM29 13h26v1h-26zM27 14h28v1h-28zM27 15h27v1h-27zM28 16h25v1h-25zM28 17h23v1h-23zM28 18h23v1h-23zM28 19h24v1h-24zM28 20h24v1h-24zM29 21h24v1h-24zM32 22h21v1h-21zM33 23h18v1h-18zM33 24h16v1h-16zM32 25h18v1h-18zM32 26h18v1h-18zM32 27h19v1h-19zM32 28h21v1h-21zM31 29h24v1h-24zM30 30h26v1h-26zM29 31h29v1h-29zM28 32h31v1h-31zM27 33h30v1h-30zM26 34h30v1h-30zM26 35h30v1h-30zM112 35h1v1h-1zM116 35h4v1h-4zM25 36h31v1h-31zM110 36h11v1h-11zM23 37h32v1h-32zM110 37h11v1h-11zM23 38h35v1h-35zM107 38h14v1h-14zM22 39h38v1h-38zM106 39h17v1h-17zM21 40h40v1h-40zM88 40h2v1h-2zM104 40h20v1h-20zM14 41h3v1h-3zM18 41h46v1h-46zM86 41h4v1h-4zM100 41h24v1h-24zM14 42h52v1h-52zM86 42h4v1h-4zM100 42h23v1h-23zM12 43h61v1h-61zM86 43h4v1h-4zM101 43h22v1h-22zM12 44h62v1h-62zM86 44h4v1h-4zM102 44h17v1h-17zM121 44h2v1h-2zM12 45h65v1h-65zM86 45h7v1h-7zM94 45h24v1h-24zM12 46h69v1h-69zM82 46h1v1h-1zM86 46h30v1h-30zM14 47h101v1h-101zM14 48h74v1h-74zM89 48h26v1h-26zM14 49h74v1h-74zM92 49h23v1h-23zM15 50h73v1h-73zM93 50h22v1h-22zM16 51h74v1h-74zM93 51h21v1h-21zM17 52h73v1h-73zM95 52h19v1h-19zM17 53h71v1h-71zM103 53h10v1h-10zM18 54h69v1h-69zM103 54h10v1h-10zM9 55h1v1h-1zM11 55h2v1h-2zM14 55h75v1h-75zM101 55h11v1h-11zM9 56h80v1h-80zM99 56h13v1h-13zM6 57h83v1h-83zM99 57h12v1h-12zM6 58h83v1h-83zM98 58h10v1h-10zM7 59h83v1h-83zM99 59h3v1h-3zM103 59h5v1h-5zM8 60h82v1h-82zM99 60h3v1h-3zM103 60h5v1h-5zM10 61h80v1h-80zM100 61h1v1h-1zM104 61h3v1h-3zM13 62h78v1h-78zM104 62h3v1h-3zM9 63h82v1h-82zM104 63h3v1h-3zM9 64h82v1h-82zM104 64h3v1h-3zM10 65h81v1h-81zM106 65h1v1h-1zM11 66h80v1h-80zM12 67h11v1h-11zM24 67h59v1h-59zM13 68h10v1h-10zM24 68h58v1h-58zM14 69h7v1h-7zM25 69h57v1h-57zM17 70h2v1h-2zM25 70h57v1h-57zM25 71h57v1h-57zM25 72h56v1h-56zM24 73h56v1h-56zM24 74h53v1h-53zM25 75h50v1h-50zM25 76h49v1h-49zM25 77h48v1h-48zM25 78h47v1h-47zM25 79h46v1h-46zM25 80h45v1h-45zM26 81h43v1h-43zM26 82h42v1h-42zM26 83h40v1h-40zM27 84h38v1h-38zM27 85h37v1h-37zM27 86h37v1h-37zM27 87h36v1h-36zM27 88h32v1h-32zM28 89h31v1h-31zM28 90h28v1h-28zM57 90h1v1h-1zM29 91h26v1h-26zM29 92h26v1h-26zM30 93h25v1h-25zM31 94h21v1h-21zM53 94h2v1h-2zM31 95h21v1h-21zM31 96h21v1h-21zM32 97h20v1h-20zM32 98h19v1h-19zM32 99h18v1h-18zM33 100h17v1h-17zM34 101h15v1h-15zM51 101h1v1h-1zM36 102h12v1h-12zM37 103h10v1h-10zM38 104h7v1h-7zM39 105h4v1h-4zM40 106h1v1h-1zM41 107h1v1h-1zM43 107h2v1h-2zM49 107h1v1h-1zM38 108h1v1h-1zM43 108h1v1h-1zM47 108h1v1h-1zM46 109h1v1h-1zM48 109h2v1h-2zM40 110h1v1h-1zM42 110h1v1h-1zM45 111h1v1h-1zM49 111h1v1h-1zM40 112h1v1h-1zM48 112h2v1h-2zM41 115h2v1h-2z"/><path fill="#840000" d="M52 94h1v1h-1zM52 95h3v1h-3zM52 96h3v1h-3zM52 97h3v1h-3zM53 98h3v1h-3zM53 99h3v1h-3zM52 100h4v1h-4zM52 101h3v1h-3zM52 102h3v1h-3zM52 103h3v1h-3zM51 104h3v1h-3zM50 105h4v1h-4zM50 106h4v1h-4zM50 107h4v1h-4zM50 108h4v1h-4zM50 109h4v1h-4zM50 110h4v1h-4zM50 111h4v1h-4z"/><path fill="#ff8700" d="M51 98h1v1h-1zM50 101h1v1h-1zM33 102h1v1h-1zM51 102h1v1h-1zM35 103h1v1h-1zM38 109h1v1h-1zM38 110h1v1h-1zM42 112h1v1h-1zM47 114h1v1h-1zM48 115h1v1h-1zM40 116h1v1h-1zM41 119h1v1h-1zM46 119h1v1h-1zM43 120h2v1h-2z"/><path fill="#fb0" d="M52 98h1v1h-1zM35 104h1v1h-1zM45 104h1v1h-1zM37 107h1v1h-1zM47 107h1v1h-1zM44 108h1v1h-1zM44 110h1v1h-1zM43 111h1v1h-1zM43 114h2v1h-2zM49 114h1v1h-1zM46 115h1v1h-1zM49 116h1v1h-1zM41 117h2v1h-2zM43 118h1v1h-1zM45 118h1v1h-1z"/><path fill="#ffd500" d="M50 99h1v1h-1zM50 100h1v1h-1zM34 102h1v1h-1zM47 103h1v1h-1zM50 103h1v1h-1zM37 104h1v1h-1zM48 104h1v1h-1zM36 105h1v1h-1zM44 106h1v1h-1zM49 106h1v1h-1zM43 109h1v1h-1zM47 109h1v1h-1zM47 110h1v1h-1zM42 111h1v1h-1zM41 112h1v1h-1zM46 112h1v1h-1zM48 113h3v1h-3zM49 115h1v1h-1zM45 116h1v1h-1zM44 118h1v1h-1z"/><path fill="#ffa100" d="M51 99h1v1h-1zM51 100h1v1h-1zM35 102h1v1h-1zM34 103h1v1h-1zM51 103h1v1h-1zM48 107h1v1h-1zM37 109h1v1h-1zM45 110h2v1h-2zM47 111h1v1h-1zM47 112h1v1h-1zM39 113h1v1h-1zM44 113h1v1h-1zM40 114h1v1h-1zM43 116h1v1h-1zM47 116h1v1h-1zM51 116h1v1h-1zM44 117h2v1h-2zM42 119h1v1h-1z"/><path fill="#ff1e00" d="M52 99h1v1h-1zM44 111h1v1h-1zM39 112h1v1h-1zM47 113h1v1h-1zM40 118h1v1h-1z"/><path fill="#ff6c00" d="M32 100h1v1h-1zM49 101h1v1h-1zM49 102h1v1h-1zM49 103h1v1h-1zM49 104h1v1h-1zM39 111h1v1h-1zM42 114h1v1h-1zM46 114h1v1h-1zM48 114h1v1h-1zM40 115h1v1h-1zM43 115h1v1h-1zM51 115h1v1h-1zM41 116h1v1h-1z"/><path fill="#ffef00" d="M33 101h1v1h-1zM36 103h1v1h-1zM50 104h1v1h-1zM49 105h1v1h-1zM35 106h1v1h-1zM45 106h1v1h-1zM37 108h1v1h-1zM40 109h1v1h-1zM39 110h1v1h-1zM41 110h1v1h-1zM48 110h2v1h-2zM51 112h1v1h-1zM41 113h1v1h-1zM43 113h1v1h-1zM45 113h2v1h-2zM45 114h1v1h-1zM47 115h1v1h-1zM46 116h1v1h-1zM43 117h1v1h-1z"/><path fill="#ff5200" d="M48 102h1v1h-1zM40 111h1v1h-1zM40 113h1v1h-1zM42 113h1v1h-1zM41 114h1v1h-1zM39 115h1v1h-1zM42 116h1v1h-1z"/><path fill="#ff0300" d="M50 102h1v1h-1zM37 110h1v1h-1zM38 112h1v1h-1zM39 114h1v1h-1zM50 115h1v1h-1z"/><path fill="#a5f526" d="M48 103h1v1h-1zM35 105h1v1h-1zM46 105h1v1h-1zM41 106h1v1h-1zM46 106h1v1h-1zM46 108h1v1h-1zM45 109h1v1h-1zM45 112h1v1h-1zM44 115h1v1h-1zM45 119h1v1h-1zM42 120h1v1h-1z"/><path fill="#f1fd06" d="M34 104h1v1h-1zM46 104h1v1h-1zM43 105h1v1h-1zM43 106h1v1h-1zM39 109h1v1h-1zM42 109h1v1h-1zM43 112h1v1h-1zM46 118h1v1h-1z"/><path fill="#ff3800" d="M36 104h1v1h-1zM34 105h1v1h-1zM38 111h1v1h-1zM50 112h1v1h-1zM38 113h1v1h-1zM40 117h1v1h-1z"/><path fill="#77f245" d="M47 104h1v1h-1zM38 105h1v1h-1zM48 105h1v1h-1zM45 107h1v1h-1zM41 108h1v1h-1zM48 108h1v1h-1zM43 110h1v1h-1zM45 120h1v1h-1z"/><path fill="#ccf915" d="M37 105h1v1h-1zM45 105h1v1h-1zM36 106h1v1h-1zM48 106h1v1h-1zM42 107h1v1h-1zM40 108h1v1h-1zM42 108h1v1h-1zM49 108h1v1h-1zM41 111h1v1h-1zM48 111h1v1h-1zM44 112h1v1h-1zM45 115h1v1h-1zM44 116h1v1h-1zM46 117h1v1h-1zM42 118h1v1h-1zM43 119h2v1h-2z"/><path fill="#31ee5f" d="M44 105h1v1h-1zM40 107h1v1h-1zM39 108h1v1h-1z"/><path fill="#00ed7c" d="M47 105h1v1h-1zM38 106h1v1h-1zM46 107h1v1h-1zM45 108h1v1h-1zM41 109h1v1h-1zM46 111h1v1h-1z"/><path fill="#00efa3" d="M37 106h1v1h-1zM39 106h1v1h-1zM42 106h1v1h-1zM47 106h1v1h-1zM38 107h1v1h-1z"/><path fill="#d20000" d="M36 107h1v1h-1zM39 116h1v1h-1z"/><path fill="#0bf" d="M39 107h1v1h-1z"/><path fill="#00f3c2" d="M44 109h1v1h-1z"/><path fill="#ea0000" d="M48 116h1v1h-1zM41 118h1v1h-1z"/></g><path d="M70.8 0V685.8M172.4 0V685.8M274.0 0V685.8M375.6 0V685.8M477.2 0V685.8M578.8 0V685.8M0 610.1H680.5M0 503.2H680.5M0 396.2H680.5M0 289.3H680.5M0 182.4H680.5M0 75.4H680.5" stroke="#000" stroke-opacity=".115" stroke-width="1.4" fill="none"/><path d="M70.8 0v7.5M70.8 685.8v-7.5M172.4 0v7.5M172.4 685.8v-7.5M274.0 0v7.5M274.0 685.8v-7.5M375.6 0v7.5M375.6 685.8v-7.5M477.2 0v7.5M477.2 685.8v-7.5M578.8 0v7.5M578.8 685.8v-7.5M680.4 0v7.5M680.4 685.8v-7.5M0 610.1h7.5M680.5 610.1h-7.5M0 503.2h7.5M680.5 503.2h-7.5M0 396.2h7.5M680.5 396.2h-7.5M0 289.3h7.5M680.5 289.3h-7.5M0 182.4h7.5M680.5 182.4h-7.5M0 75.4h7.5M680.5 75.4h-7.5" stroke="#303030" stroke-width="1.6" fill="none"/><rect x="0" y="0" width="680.5" height="685.8" fill="none" stroke="#303030" stroke-width="1.8"/><text class="t" x="71.8" y="721.3" text-anchor="middle">70E</text><text class="t" x="173.4" y="721.3" text-anchor="middle">75E</text><text class="t" x="275.0" y="721.3" text-anchor="middle">80E</text><text class="t" x="376.6" y="721.3" text-anchor="middle">85E</text><text class="t" x="478.2" y="721.3" text-anchor="middle">90E</text><text class="t" x="579.8" y="721.3" text-anchor="middle">95E</text><text class="t" x="681.4" y="721.3" text-anchor="middle">100E</text><text class="t" x="-10.0" y="619.4" text-anchor="end">10N</text><text class="t" x="-10.0" y="512.4" text-anchor="end">15N</text><text class="t" x="-10.0" y="405.4" text-anchor="end">20N</text><text class="t" x="-10.0" y="298.5" text-anchor="end">25N</text><text class="t" x="-10.0" y="191.6" text-anchor="end">30N</text><text class="t" x="-10.0" y="84.6" text-anchor="end">35N</text><g stroke="#000" fill="none"><circle cx="535.4" cy="124.3" r="31.2" stroke-width="2.7"/><path d="M535.4 93.1V155.5" stroke-width="3"/><path d="M534.2 94.7L504.8 122.7M536.6 94.7L566.0 121.7" stroke-width="3.4"/></g><text x="535.4" y="88.3" text-anchor="middle" style="font:bold 16.5px 'Liberation Sans',sans-serif">N</text></g><rect x="1888.2" y="1808.4" width="54.3" height="684.3" fill="url(#jet)" stroke="#303030" stroke-width="1.3"/><path d="M1942.5 2378.7h-7.5M1942.5 2264.6h-7.5M1942.5 2150.6h-7.5M1942.5 2036.5h-7.5M1942.5 1922.5h-7.5" stroke="#303030" stroke-width="1.5" fill="none"/><text class="t" font-size="25.0" x="1953.0" y="2501.9">0</text><text class="t" font-size="25.0" x="1953.0" y="2387.8">10</text><text class="t" font-size="25.0" x="1953.0" y="2273.8">20</text><text class="t" font-size="25.0" x="1953.0" y="2159.8">30</text><text class="t" font-size="25.0" x="1953.0" y="2045.7">40</text><text class="t" font-size="25.0" x="1953.0" y="1931.7">50</text><text class="t" font-size="25.0" x="1953.0" y="1817.6">60</text><text x="1555.4" y="2590.0" text-anchor="middle" style="font:bold 38.5px 'Liberation Serif',serif">(f)</text></svg></body></html>
